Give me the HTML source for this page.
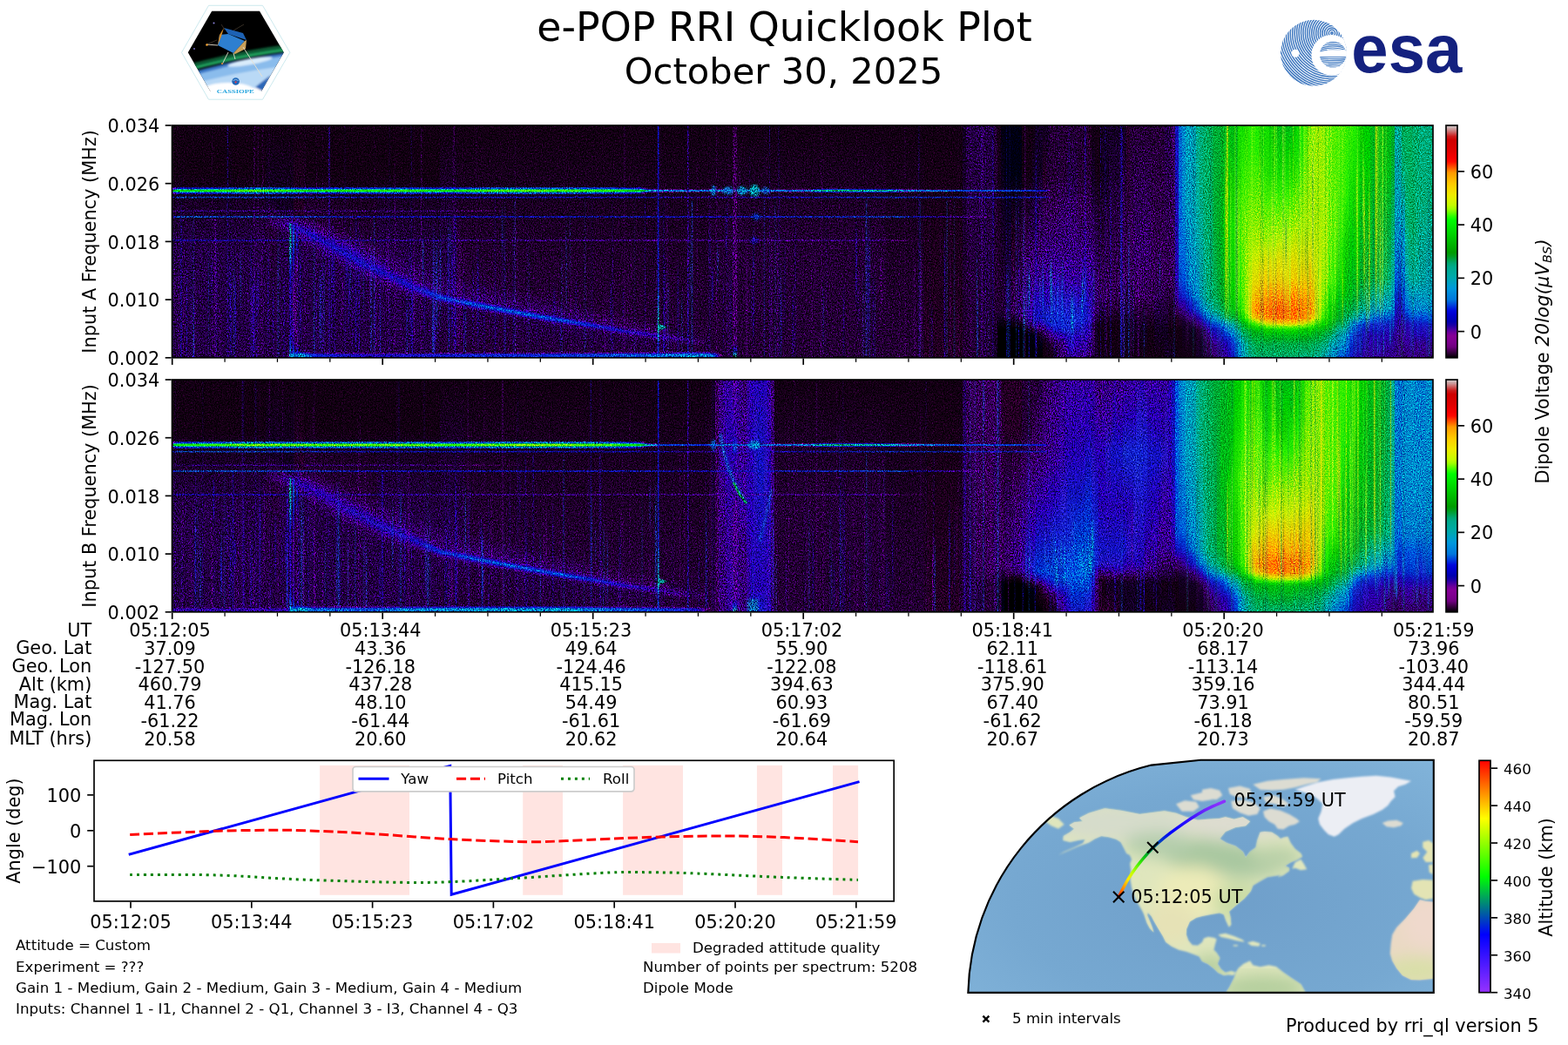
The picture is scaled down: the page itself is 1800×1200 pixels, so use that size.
<!DOCTYPE html>
<html><head><meta charset="utf-8"><title>e-POP RRI Quicklook Plot</title>
<style>
html,body{margin:0;padding:0;background:#fff}
body{width:1800px;height:1200px;overflow:hidden;position:relative;font-family:"DejaVu Sans","Liberation Sans",sans-serif}
svg{position:absolute;left:0;top:0}
svg text{font-family:"DejaVu Sans","Liberation Sans",sans-serif;fill:#000}
.sp{position:absolute;display:flex;background:#14001c}
.sp i{display:block;flex:1 1 0;height:100%}
.gr{mix-blend-mode:overlay}
</style></head><body>
<div class="sp" style="left:197px;top:144px;width:1448px;height:267px"><i style="background:linear-gradient(#101,#101 21.2%,#204 54.9%,#204 99.8%)"></i><i style="background:linear-gradient(#101,#101 21.2%,#204 54.9%,#204 99.8%)"></i><i style="background:linear-gradient(#101,#101 21.2%,#204 54.9%,#204 99.8%)"></i><i style="background:linear-gradient(#101,#101 21.2%,#204 54.9%,#204 99.8%)"></i><i style="background:linear-gradient(#101,#101 21.2%,#204 54.9%,#204 99.8%)"></i><i style="background:linear-gradient(#101,#101 21.2%,#204 54.9%,#204 99.8%)"></i><i style="background:linear-gradient(#101,#101 21.2%,#204 54.9%,#204 99.8%)"></i><i style="background:linear-gradient(#101,#101 21.2%,#204 54.9%,#204 99.8%)"></i><i style="background:linear-gradient(#101,#101 21.2%,#204 54.9%,#204 99.8%)"></i><i style="background:linear-gradient(#101,#101 21.2%,#204 54.9%,#204 99.8%)"></i><i style="background:linear-gradient(#101,#101 21.2%,#204 54.9%,#204 99.8%)"></i><i style="background:linear-gradient(#101,#101 21.2%,#204 54.9%,#204 99.8%)"></i><i style="background:linear-gradient(#101,#101 21.2%,#204 54.9%,#204 99.8%)"></i><i style="background:linear-gradient(#101,#101 21.2%,#204 54.9%,#204 99.8%)"></i><i style="background:linear-gradient(#101,#101 21.2%,#204 54.9%,#204 99.8%)"></i><i style="background:linear-gradient(#101,#101 21.2%,#204 54.9%,#204 99.8%)"></i><i style="background:linear-gradient(#101,#101 21.2%,#204 54.9%,#204 99.8%)"></i><i style="background:linear-gradient(#101,#101 21.2%,#204 54.9%,#204 99.8%)"></i><i style="background:linear-gradient(#101,#101 21.2%,#204 54.9%,#204 99.8%)"></i><i style="background:linear-gradient(#101,#101 21.2%,#204 54.9%,#204 99.8%)"></i><i style="background:linear-gradient(#101,#101 21.2%,#204 54.9%,#204 99.8%)"></i><i style="background:linear-gradient(#101,#101 21.2%,#204 54.9%,#204 99.8%)"></i><i style="background:linear-gradient(#101,#101 21.2%,#204 54.9%,#204 99.8%)"></i><i style="background:linear-gradient(#101,#101 21.2%,#204 54.9%,#204 99.8%)"></i><i style="background:linear-gradient(#101,#101 21.2%,#204 54.9%,#204 99.8%)"></i><i style="background:linear-gradient(#101,#101 21.2%,#204 54.9%,#204 99.8%)"></i><i style="background:linear-gradient(#101,#101 21.2%,#204 54.9%,#204 99.8%)"></i><i style="background:linear-gradient(#101,#102 32%,#204 41%,#203 44.4%,#204 99.8%)"></i><i style="background:linear-gradient(#101,#102 32.4%,#203 37.6%,#305 41.4%,#203 45.1%,#204 99.8%)"></i><i style="background:linear-gradient(#101,#102 32.4%,#203 38%,#204 39.9%,#306 41.8%,#203 45.9%,#204 99.8%)"></i><i style="background:linear-gradient(#101,#102 36.5%,#204 39.1%,#305 40.4%,#307 41.8%,#305 44%,#203 46.3%,#204 99.8%)"></i><i style="background:linear-gradient(#101,#102 36.5%,#204 39.1%,#306 40.6%,#307 42.1%,#306 43.8%,#204 45.5%,#204 99.8%)"></i><i style="background:linear-gradient(#101,#102 36.5%,#204 39.5%,#306 41%,#308 42.5%,#306 44.2%,#204 45.9%,#204 99.8%)"></i><i style="background:linear-gradient(#101,#102 36.5%,#204 39.5%,#307 41.2%,#309 42.9%,#307 44.6%,#305 46.3%,#204 48.1%,#204 99.8%)"></i><i style="background:linear-gradient(#101,#102 36.9%,#305 39.9%,#307 41.6%,#309 43.3%,#307 45.1%,#305 47%,#204 48.9%,#204 99.8%)"></i><i style="background:linear-gradient(#101,#202 37.3%,#305 40.6%,#308 42.3%,#20a 44%,#309 45.3%,#307 46.5%,#305 47.8%,#204 50%,#204 99.8%)"></i><i style="background:linear-gradient(#101,#202 38%,#306 41%,#307 42.3%,#309 43.5%,#21a 44.8%,#309 45.9%,#307 47.2%,#305 48.5%,#204 50.7%,#204 99.8%)"></i><i style="background:linear-gradient(#101,#202 38.4%,#204 40.1%,#306 41.8%,#308 43%,#209 44.3%,#21b 45.5%,#20a 46.1%,#309 46.6%,#307 47.9%,#306 49.3%,#204 51.9%,#204 99.8%)"></i><i style="background:linear-gradient(#101,#101 21.2%,#203 39.1%,#305 40.8%,#306 42.5%,#308 43.8%,#20a 45%,#11b 46.3%,#20a 46.8%,#309 47.4%,#307 48.7%,#306 50%,#204 52.6%,#204 99.8%)"></i><i style="background:linear-gradient(#101,#101 21.2%,#203 39.5%,#204 41.2%,#306 42.9%,#308 44.3%,#20a 45.6%,#11b 47%,#20a 47.6%,#309 48.1%,#308 49.4%,#306 50.7%,#204 53.7%,#204 99.8%)"></i><i style="background:linear-gradient(#101,#101 21.2%,#203 40.3%,#305 41.9%,#306 43.6%,#308 45.1%,#20a 46.6%,#11b 48.1%,#20a 48.5%,#309 48.9%,#308 50.2%,#306 51.5%,#204 55.2%,#204 99.8%)"></i><i style="background:linear-gradient(#101,#101 21.2%,#203 40.6%,#305 42.5%,#306 44.4%,#308 45.9%,#20a 47.4%,#11b 48.9%,#20a 49.3%,#309 49.6%,#308 50.9%,#306 52.2%,#204 56%,#204 99.8%)"></i><i style="background:linear-gradient(#101,#101 21.2%,#203 41.4%,#305 43.3%,#306 45.1%,#308 46.6%,#20a 48.1%,#11b 49.6%,#20a 50%,#309 50.4%,#308 51.7%,#306 53%,#204 56.7%,#204 99.8%)"></i><i style="background:linear-gradient(#101,#101 21.2%,#203 41.8%,#305 43.6%,#306 45.5%,#308 47.1%,#20a 48.8%,#11b 50.4%,#20a 50.7%,#209 51.1%,#308 52.4%,#307 53.7%,#204 57.5%,#204 99.8%)"></i><i style="background:linear-gradient(#101,#101 21.2%,#203 42.5%,#305 44.4%,#306 46.3%,#308 47.9%,#20a 49.5%,#11b 51.1%,#20a 51.5%,#209 51.9%,#308 53.2%,#307 54.5%,#204 58.2%,#204 99.8%)"></i><i style="background:linear-gradient(#101,#101 21.2%,#203 42.9%,#305 44.9%,#306 47%,#308 48.6%,#20a 50.2%,#11b 51.9%,#20a 52.2%,#209 52.6%,#308 53.9%,#307 55.2%,#204 59%,#204 99.8%)"></i><i style="background:linear-gradient(#101,#101 21.2%,#203 43.6%,#305 45.7%,#306 47.8%,#308 49.4%,#20a 51%,#11b 52.6%,#21a 53%,#20a 53.4%,#308 54.9%,#306 56.4%,#204 59.7%,#204 99.8%)"></i><i style="background:linear-gradient(#101,#101 21.2%,#203 44.4%,#305 46.6%,#307 48.9%,#309 50.4%,#20a 51.9%,#11b 53.4%,#20a 53.9%,#209 54.5%,#308 55.8%,#306 57.1%,#204 60.5%,#204 99.8%)"></i><i style="background:linear-gradient(#101,#101 21.2%,#203 44.8%,#305 47%,#306 49.3%,#308 50.9%,#20a 52.5%,#11b 54.1%,#21a 54.7%,#20a 55.2%,#308 56.6%,#307 57.9%,#204 61.2%,#204 99.8%)"></i><i style="background:linear-gradient(#101,#101 21.2%,#203 45.5%,#305 47.9%,#307 50.4%,#309 51.9%,#20a 53.4%,#11b 54.9%,#21b 55.6%,#20a 56%,#308 57.5%,#306 59%,#204 62.4%,#204 99.8%)"></i><i style="background:linear-gradient(#101,#101 21.2%,#203 46.3%,#305 48.7%,#307 51.1%,#309 52.7%,#20a 54.4%,#11b 56%,#21b 56.4%,#20a 56.7%,#308 58.1%,#307 59.4%,#204 63.1%,#204 99.8%)"></i><i style="background:linear-gradient(#101,#101 21.2%,#203 46.6%,#305 49.3%,#307 51.9%,#309 53.5%,#20a 55.1%,#11b 56.7%,#20a 57.5%,#308 59%,#306 60.5%,#204 63.9%,#204 99.8%)"></i><i style="background:linear-gradient(#101,#101 21.2%,#203 47.4%,#305 50%,#307 52.6%,#309 54.2%,#20a 55.9%,#11b 57.5%,#21b 58.1%,#20a 58.6%,#308 59.9%,#307 61.2%,#204 64.6%,#204 99.8%)"></i><i style="background:linear-gradient(#101,#101 21.2%,#203 48.1%,#305 50.7%,#307 53.4%,#309 55%,#20a 56.6%,#11b 58.2%,#21b 58.8%,#20a 59.4%,#308 60.7%,#307 62%,#204 65.4%,#204 99.8%)"></i><i style="background:linear-gradient(#101,#101 21.2%,#203 48.5%,#305 51.3%,#307 54.1%,#309 55.7%,#20a 57.4%,#11b 59%,#20a 60.2%,#309 61.5%,#307 62.7%,#204 66.1%,#204 99.8%)"></i><i style="background:linear-gradient(#101,#101 21.2%,#203 49.3%,#305 52.2%,#307 55.2%,#309 56.9%,#20a 58.5%,#11b 60.1%,#21b 60.5%,#20a 60.9%,#308 62.2%,#307 63.5%,#204 66.9%,#204 99.8%)"></i><i style="background:linear-gradient(#101,#101 21.2%,#203 50%,#305 53%,#307 56%,#309 57.6%,#20a 59.2%,#11b 60.9%,#20a 61.6%,#308 62.9%,#307 64.2%,#204 67.6%,#204 99.8%)"></i><i style="background:linear-gradient(#101,#101 21.2%,#203 50.4%,#305 53.6%,#307 56.7%,#309 58.4%,#20a 60%,#11b 61.6%,#21b 62%,#20a 62.4%,#308 63.7%,#307 65%,#204 68.4%,#204 99.8%)"></i><i style="background:linear-gradient(#101,#101 21.2%,#203 51.1%,#305 54.3%,#307 57.5%,#309 59%,#20a 60.5%,#11b 62%,#20a 63.2%,#308 64.5%,#306 65.7%,#204 68.7%,#204 99.8%)"></i><i style="background:linear-gradient(#101,#101 21.2%,#204 51.9%,#305 55.1%,#307 58.2%,#309 59.7%,#20a 61.2%,#11b 62.7%,#20a 64%,#308 65.2%,#306 66.5%,#204 69.5%,#204 99.8%)"></i><i style="background:linear-gradient(#101,#101 21.2%,#204 52.6%,#305 55.8%,#307 59%,#309 60.5%,#20a 62%,#11b 63.5%,#11b 63.9%,#20a 64.2%,#308 65.7%,#306 67.2%,#204 69.9%,#204 99.8%)"></i><i style="background:linear-gradient(#101,#101 21.2%,#204 53.4%,#307 59.7%,#308 61.2%,#20a 62.7%,#11b 64.2%,#20a 65%,#308 66.5%,#306 68%,#204 70.6%,#204 99.8%)"></i><i style="background:linear-gradient(#101,#101 21.2%,#204 54.1%,#306 60.5%,#308 62%,#20a 63.5%,#11b 65%,#20a 65.7%,#308 67%,#306 68.4%,#204 71%,#204 99.8%)"></i><i style="background:linear-gradient(#101,#101 21.2%,#204 54.9%,#306 61.2%,#308 62.7%,#20a 64.2%,#11b 65.7%,#20a 66.5%,#308 67.8%,#306 69.1%,#204 71.7%,#204 99.8%)"></i><i style="background:linear-gradient(#101,#101 21.2%,#204 55.6%,#306 62%,#308 63.4%,#20a 64.7%,#11b 66.1%,#20a 67.4%,#308 68.6%,#306 69.9%,#204 72.1%,#204 99.8%)"></i><i style="background:linear-gradient(#101,#101 21.2%,#204 56.4%,#306 62.7%,#308 64.1%,#20a 65.5%,#11b 66.9%,#20a 68.1%,#308 69.4%,#306 70.6%,#204 72.8%,#204 99.8%)"></i><i style="background:linear-gradient(#101,#101 21.2%,#204 56.7%,#306 63.5%,#308 64.9%,#20a 66.2%,#11b 67.6%,#20a 68.9%,#308 70.1%,#305 71.3%,#204 73.2%,#204 99.8%)"></i><i style="background:linear-gradient(#101,#101 21.2%,#204 57.5%,#306 64.2%,#308 65.6%,#20a 67%,#11b 68.4%,#20a 69.5%,#308 70.6%,#306 71.7%,#204 73.6%,#204 99.8%)"></i><i style="background:linear-gradient(#101,#101 21.2%,#204 58.2%,#306 65.4%,#308 66.6%,#20a 67.9%,#11b 69.1%,#20a 70.2%,#308 71.3%,#305 72.5%,#204 74.3%,#204 99.8%)"></i><i style="background:linear-gradient(#101,#101 21.2%,#204 59%,#306 66.1%,#308 67.2%,#20a 68.4%,#11b 69.5%,#11b 69.9%,#20a 70.8%,#308 71.8%,#306 72.8%,#204 74.7%,#204 99.8%)"></i><i style="background:linear-gradient(#101,#101 21.2%,#204 59.4%,#306 66.5%,#307 67.6%,#309 68.5%,#20a 69.4%,#12c 70.2%,#20a 71.2%,#308 72.2%,#306 73.2%,#204 75.1%,#204 99.8%)"></i><i style="background:linear-gradient(#101,#101 21.2%,#204 60.1%,#306 67.2%,#307 68.4%,#309 69.1%,#21a 69.9%,#12c 70.6%,#12c 71%,#20a 71.7%,#309 72.5%,#307 73.2%,#305 74%,#204 75.5%,#204 99.8%)"></i><i style="background:linear-gradient(#101,#101 21.2%,#204 60.5%,#306 68%,#308 69.1%,#209 69.9%,#21b 70.6%,#12c 71.3%,#21b 72.2%,#309 73.1%,#306 74%,#204 75.5%,#204 99.8%)"></i><i style="background:linear-gradient(#101,#101 21.2%,#204 61.2%,#306 68.7%,#308 69.9%,#209 70.5%,#11b 71.1%,#12c 71.7%,#12c 72.1%,#21b 72.8%,#309 73.6%,#307 74.3%,#204 75.8%,#204 99.8%)"></i><i style="background:linear-gradient(#101,#101 21.2%,#204 62%,#306 69.9%,#308 70.6%,#20a 71.2%,#11b 71.8%,#03c 72.5%,#11b 73.1%,#20a 73.8%,#308 74.4%,#306 75.1%,#204 76.2%,#204 99.8%)"></i><i style="background:linear-gradient(#101,#101 21.2%,#204 62.4%,#306 70.2%,#308 71.3%,#20a 71.8%,#11b 72.3%,#03c 72.8%,#03c 73.2%,#11b 73.8%,#20a 74.3%,#308 74.9%,#306 75.5%,#204 76.6%,#204 99.8%)"></i><i style="background:linear-gradient(#101,#101 21.2%,#204 63.1%,#306 71.3%,#308 72.1%,#20a 72.6%,#12b 73.1%,#04c 73.6%,#12c 74.3%,#20a 74.8%,#308 75.3%,#306 75.8%,#204 77%,#204 99.8%)"></i><i style="background:linear-gradient(#101,#204 63.5%,#306 71.7%,#308 72.5%,#209 72.8%,#21b 73.2%,#12c 73.6%,#04c 74%,#04c 74.3%,#11b 74.8%,#20a 75.3%,#308 75.7%,#306 76.2%,#204 77.3%,#203 99.8%)"></i><i style="background:linear-gradient(#101,#204 63.9%,#306 72.1%,#308 72.8%,#20a 73.2%,#11b 73.6%,#12c 74%,#05c 74.3%,#12c 75.1%,#21b 75.5%,#309 75.8%,#307 76.2%,#305 76.6%,#204 77.7%,#203 99.8%)"></i><i style="background:linear-gradient(#101,#204 64.2%,#306 72.5%,#308 73.2%,#20a 73.6%,#11b 74%,#13c 74.3%,#05d 74.7%,#03c 75.1%,#12b 75.5%,#20a 75.8%,#309 76.2%,#307 76.6%,#204 77.7%,#203 99.8%)"></i><i style="background:linear-gradient(#101,#204 64.6%,#306 72.8%,#308 73.6%,#20a 74%,#12b 74.3%,#04c 74.7%,#05d 75.1%,#03c 75.5%,#11b 75.8%,#20a 76.2%,#308 76.6%,#306 77%,#204 78.1%,#203 99.8%)"></i><i style="background:linear-gradient(#101,#204 65%,#306 72.8%,#307 73.6%,#309 74%,#21b 74.3%,#12c 74.7%,#04c 75.1%,#05d 75.5%,#13c 75.8%,#11b 76.2%,#20a 76.6%,#308 77%,#306 77.3%,#204 78.5%,#203 99.8%)"></i><i style="background:linear-gradient(#101,#203 65%,#306 73.2%,#308 73.8%,#309 74.3%,#21b 74.7%,#12c 75.1%,#05d 75.5%,#05c 75.8%,#12c 76.2%,#11b 76.6%,#209 77%,#308 77.3%,#306 77.7%,#204 78.8%,#203 99.8%)"></i><i style="background:linear-gradient(#101,#203 65.4%,#306 73.6%,#308 74.3%,#20a 74.7%,#11b 75.1%,#13c 75.5%,#05d 75.8%,#04c 76.2%,#12c 76.6%,#21b 77%,#309 77.3%,#307 77.7%,#305 78.3%,#204 78.8%,#203 99.8%)"></i><i style="background:linear-gradient(#101,#203 65.7%,#306 74%,#308 74.7%,#20a 75.1%,#11b 75.5%,#03c 75.8%,#06d 76.2%,#04c 76.6%,#12c 77%,#20a 77.3%,#309 77.7%,#306 78.1%,#204 79.2%,#203 99.8%)"></i><i style="background:linear-gradient(#101,#203 66.1%,#306 74.3%,#308 75.1%,#20a 75.5%,#12c 75.8%,#04c 76.2%,#06c 76.6%,#03c 77%,#11b 77.3%,#20a 77.7%,#308 78.1%,#306 78.5%,#204 79.6%,#203 99.8%)"></i><i style="background:linear-gradient(#101,#203 66.5%,#306 74.7%,#309 75.5%,#20a 75.8%,#12c 76.2%,#05d 76.6%,#06d 77%,#03c 77.3%,#11b 77.7%,#20a 78.1%,#308 78.5%,#306 78.8%,#203 80%,#203 99.8%)"></i><i style="background:linear-gradient(#101,#203 66.9%,#306 74.7%,#307 75.5%,#309 75.8%,#21b 76.2%,#13c 76.6%,#06d 77%,#05d 77.3%,#13c 77.7%,#11b 78.1%,#309 78.5%,#307 78.8%,#305 79.2%,#203 80.3%,#203 99.8%)"></i><i style="background:linear-gradient(#101,#203 67.2%,#306 75.1%,#308 75.8%,#20a 76.2%,#11b 76.6%,#03c 77%,#06c 77.3%,#04c 77.7%,#13c 78.1%,#21b 78.5%,#309 78.8%,#307 79.2%,#305 79.8%,#204 80.3%,#203 99.8%)"></i><i style="background:linear-gradient(#101,#203 67.6%,#306 75.5%,#308 76.2%,#20a 76.6%,#11b 77%,#03c 77.3%,#06c 77.7%,#04c 78.1%,#12c 78.5%,#21b 78.8%,#309 79.2%,#306 79.6%,#204 80.7%,#203 99.8%)"></i><i style="background:linear-gradient(#101,#203 68%,#306 75.8%,#308 76.6%,#20a 76.9%,#11b 77.2%,#13c 77.4%,#05d 77.7%,#07c 78.1%,#04c 78.5%,#12b 78.8%,#20a 79.2%,#308 79.6%,#306 80%,#203 81.1%,#203 99.8%)"></i><i style="background:linear-gradient(#101,#203 68.4%,#306 76.2%,#309 77%,#20a 77.2%,#11b 77.5%,#03c 77.8%,#06d 78.1%,#06c 78.5%,#04c 78.8%,#12c 79.1%,#20a 79.4%,#309 79.7%,#307 80%,#305 80.3%,#204 81.1%,#203 99.8%)"></i><i style="background:linear-gradient(#101,#203 68.4%,#306 76.2%,#307 77%,#309 77.3%,#20a 77.6%,#12c 77.9%,#04c 78.2%,#06c 78.5%,#03c 79.2%,#11b 79.5%,#20a 79.8%,#309 80.1%,#307 80.3%,#305 80.9%,#204 81.5%,#203 99.8%)"></i><i style="background:linear-gradient(#101,#203 68.7%,#306 76.6%,#308 77.3%,#20a 77.7%,#11b 78.1%,#03c 78.5%,#06c 78.8%,#04c 79.2%,#12c 79.6%,#11b 79.9%,#20a 80.1%,#308 80.4%,#306 80.7%,#204 81.8%,#203 99.8%)"></i><i style="background:linear-gradient(#101,#203 69.1%,#306 77%,#308 77.7%,#20a 78%,#11b 78.3%,#13c 78.6%,#05d 78.8%,#06c 79.2%,#03c 79.6%,#11b 80%,#20a 80.3%,#308 80.7%,#306 81.1%,#203 82.2%,#203 99.8%)"></i><i style="background:linear-gradient(#101,#203 69.5%,#306 77.3%,#309 78.1%,#20a 78.4%,#11b 78.7%,#03c 78.9%,#06d 79.2%,#06d 79.6%,#03c 80%,#11b 80.3%,#309 80.7%,#307 81.1%,#305 81.6%,#204 82.2%,#203 99.8%)"></i><i style="background:linear-gradient(#101,#203 69.9%,#306 77.7%,#308 78.1%,#309 78.5%,#20a 78.7%,#12c 79%,#04c 79.3%,#06c 79.6%,#04c 80%,#13c 80.3%,#11b 80.6%,#20a 80.9%,#308 81.2%,#306 81.5%,#204 82.6%,#203 99.8%)"></i><i style="background:linear-gradient(#101,#203 70.2%,#306 77.7%,#308 78.5%,#20a 78.8%,#11b 79.2%,#03c 79.6%,#06c 80%,#04c 80.3%,#12c 80.7%,#20a 81.1%,#308 81.5%,#306 81.8%,#203 83%,#203 99.8%)"></i><i style="background:linear-gradient(#101,#203 70.6%,#306 78.1%,#308 78.8%,#20a 79.1%,#11b 79.4%,#13c 79.7%,#05d 80%,#06c 80.3%,#03c 80.7%,#11b 81.1%,#20a 81.3%,#309 81.6%,#307 81.8%,#305 82.2%,#204 83%,#203 99.8%)"></i><i style="background:linear-gradient(#101,#203 71%,#306 78.5%,#309 79.2%,#20a 79.5%,#11b 79.8%,#03c 80.1%,#05d 80.3%,#06d 80.7%,#13c 81.1%,#21b 81.5%,#309 81.8%,#307 82.2%,#305 82.8%,#204 83.3%,#203 99.8%)"></i><i style="background:linear-gradient(#101,#203 71.3%,#306 78.8%,#308 79.2%,#309 79.6%,#20a 79.9%,#12c 80.1%,#03c 80.4%,#06c 80.7%,#04c 81.1%,#12c 81.5%,#11b 81.7%,#20a 82%,#308 82.3%,#306 82.6%,#204 83.7%,#203 99.8%)"></i><i style="background:linear-gradient(#101,#203 71.7%,#306 78.8%,#308 79.6%,#20a 80%,#11b 80.3%,#03c 80.7%,#06c 81.1%,#04c 81.5%,#12c 81.8%,#20a 82.2%,#308 82.6%,#306 83%,#204 83.7%,#203 99.8%)"></i><i style="background:linear-gradient(#101,#203 71.7%,#306 79.2%,#308 80%,#20a 80.2%,#11b 80.5%,#12c 80.8%,#05d 81.1%,#06c 81.5%,#03c 81.8%,#11b 82.2%,#309 82.6%,#307 83%,#305 83.3%,#204 84.1%,#203 99.8%)"></i><i style="background:linear-gradient(#101,#203 72.1%,#306 79.6%,#309 80.3%,#20a 80.6%,#11b 80.9%,#03c 81.2%,#05d 81.5%,#05d 81.8%,#03c 82.2%,#11b 82.5%,#20a 82.8%,#308 83.1%,#306 83.3%,#204 84.5%,#203 99.8%)"></i><i style="background:linear-gradient(#101,#203 72.5%,#306 80%,#308 80.3%,#309 80.7%,#20a 81%,#12b 81.3%,#03c 81.6%,#06d 81.8%,#04c 82.2%,#12c 82.6%,#21b 82.9%,#209 83.1%,#308 83.4%,#306 83.7%,#204 84.5%,#203 99.8%)"></i><i style="background:linear-gradient(#101,#203 72.8%,#306 80%,#308 80.7%,#309 81%,#21b 81.3%,#12c 81.6%,#04c 81.8%,#06c 82.2%,#03c 82.6%,#11b 83%,#20a 83.2%,#309 83.5%,#307 83.7%,#305 84.1%,#204 84.8%,#203 99.8%)"></i><i style="background:linear-gradient(#101,#203 73.2%,#306 80.3%,#308 81.1%,#20a 81.4%,#11b 81.6%,#13c 81.9%,#05d 82.2%,#05d 82.6%,#12c 83%,#21b 83.3%,#309 83.7%,#307 84.1%,#305 84.6%,#204 85.2%,#203 99.8%)"></i><i style="background:linear-gradient(#101,#203 73.6%,#306 80.7%,#307 81.1%,#309 81.5%,#20a 81.7%,#11b 82%,#03c 82.3%,#06d 82.6%,#04c 83%,#12c 83.3%,#11b 83.6%,#209 83.9%,#308 84.2%,#306 84.5%,#204 85.2%,#203 99.8%)"></i><i style="background:linear-gradient(#101,#203 74%,#306 80.7%,#307 81.5%,#309 81.7%,#21b 82%,#12c 82.3%,#04c 82.6%,#06c 83%,#03c 83.3%,#11b 83.7%,#20a 84%,#309 84.2%,#307 84.5%,#305 84.8%,#204 85.6%,#203 99.8%)"></i><i style="background:linear-gradient(#101,#203 74.3%,#306 81.1%,#308 81.8%,#20a 82.1%,#11b 82.4%,#12c 82.7%,#05d 83%,#05d 83.3%,#12c 83.7%,#21b 84.1%,#309 84.5%,#307 84.8%,#204 86%,#203 99.8%)"></i><i style="background:linear-gradient(#101,#203 74.3%,#306 81.5%,#307 81.8%,#309 82.2%,#20a 82.5%,#11b 82.8%,#03c 83.1%,#05d 83.3%,#03c 83.7%,#12c 84.1%,#21b 84.4%,#209 84.6%,#308 84.9%,#306 85.2%,#204 86%,#203 99.8%)"></i><i style="background:linear-gradient(#101,#203 74.7%,#306 81.8%,#308 82.2%,#309 82.6%,#21a 82.8%,#12c 83.1%,#04c 83.3%,#06d 83.7%,#03c 84.1%,#11b 84.5%,#20a 84.7%,#309 85%,#307 85.2%,#305 85.6%,#204 86.3%,#203 99.8%)"></i><i style="background:linear-gradient(#101,#203 75.1%,#306 81.8%,#308 82.6%,#209 82.9%,#11b 83.1%,#12c 83.4%,#04c 83.7%,#05d 84.1%,#12c 84.5%,#21a 84.8%,#309 85.2%,#306 85.6%,#204 86.7%,#203 99.8%)"></i><i style="background:linear-gradient(#101,#203 75.5%,#306 82.2%,#308 83%,#20a 83.2%,#11b 83.5%,#03c 83.8%,#05d 84.1%,#03c 84.5%,#12c 84.8%,#21b 85.1%,#309 85.4%,#308 85.7%,#306 86%,#204 86.7%,#203 99.8%)"></i><i style="background:linear-gradient(#101,#203 75.8%,#306 82.6%,#308 83%,#309 83.3%,#20a 83.6%,#11b 83.8%,#03c 84.1%,#05d 84.5%,#03c 84.8%,#11b 85.2%,#20a 85.5%,#309 85.7%,#307 86%,#305 86.3%,#204 87.1%,#203 99.8%)"></i><i style="background:linear-gradient(#101,#203 76.2%,#306 82.6%,#308 83.3%,#20a 83.7%,#11b 84.1%,#04c 84.5%,#04c 84.8%,#12c 85.2%,#20a 85.6%,#308 86%,#306 86.3%,#204 87.1%,#203 99.8%)"></i><i style="background:linear-gradient(#101,#203 76.6%,#306 83%,#308 83.7%,#20a 84.1%,#12b 84.5%,#04c 84.8%,#13c 85.2%,#11b 85.6%,#20a 86%,#308 86.3%,#306 86.7%,#204 87.5%,#203 99.8%)"></i><i style="background:linear-gradient(#101,#203 77%,#306 83.3%,#307 83.7%,#309 84.1%,#20a 84.3%,#11b 84.6%,#12c 84.8%,#04c 85.2%,#12c 85.6%,#20a 86%,#309 86.3%,#307 86.7%,#305 87.3%,#204 87.8%,#203 99.8%)"></i><i style="background:linear-gradient(#101,#203 77.3%,#305 83.3%,#307 84.1%,#309 84.5%,#11b 84.8%,#03c 85.2%,#03c 85.6%,#11b 86%,#20a 86.3%,#308 86.7%,#306 87.1%,#204 87.8%,#203 99.8%)"></i><i style="background:linear-gradient(#101,#203 77.7%,#306 83.7%,#308 84.5%,#20a 84.8%,#11b 85.2%,#03c 85.6%,#11b 86.3%,#209 86.7%,#308 87.1%,#305 87.5%,#204 88.2%,#203 99.8%)"></i><i style="background:linear-gradient(#101,#203 78.1%,#306 84.1%,#308 84.8%,#20a 85.2%,#11b 85.6%,#03c 86%,#11b 86.3%,#20a 86.7%,#308 87.1%,#306 87.5%,#204 88.6%,#203 99.8%)"></i><i style="background:linear-gradient(#101,#203 78.5%,#305 84.1%,#307 84.8%,#309 85.2%,#21b 85.6%,#12c 86%,#12c 86.3%,#11b 86.7%,#209 87.1%,#308 87.5%,#306 87.8%,#204 88.6%,#203 99.8%)"></i><i style="background:linear-gradient(#101,#203 78.8%,#305 84.5%,#307 85.2%,#309 85.6%,#21b 86%,#12c 86.3%,#21b 87.1%,#309 87.5%,#307 87.8%,#305 88.2%,#204 89%,#203 99.8%)"></i><i style="background:linear-gradient(#101,#203 79.2%,#305 84.8%,#308 85.6%,#209 86%,#21b 86.3%,#12c 86.7%,#20a 87.2%,#309 87.7%,#306 88.2%,#204 89%,#203 99.8%)"></i><i style="background:linear-gradient(#101,#203 79.6%,#306 85.2%,#308 86%,#20a 86.3%,#11b 86.7%,#12c 87.1%,#21b 87.5%,#309 87.8%,#308 88.2%,#306 88.6%,#204 89.3%,#203 99.8%)"></i><i style="background:linear-gradient(#101,#203 80%,#305 85.2%,#307 86%,#309 86.3%,#20a 86.7%,#11b 87.1%,#20a 87.8%,#309 88.2%,#307 88.6%,#305 89%,#204 89.7%,#203 99.8%)"></i><i style="background:linear-gradient(#101,#203 80.3%,#305 85.6%,#307 86.3%,#309 86.7%,#20a 87.1%,#12b 87.5%,#21b 87.8%,#20a 88.2%,#308 88.6%,#306 89%,#204 89.7%,#203 99.8%)"></i><i style="background:linear-gradient(#101,#203 80.7%,#305 86%,#308 86.7%,#209 87.1%,#21b 87.5%,#11b 87.8%,#20a 88.3%,#308 88.8%,#306 89.3%,#204 90.1%,#203 99.8%)"></i><i style="background:linear-gradient(#101,#203 81.1%,#305 86.3%,#308 87.1%,#20a 87.5%,#11b 87.8%,#11b 88.2%,#209 88.7%,#308 89.2%,#305 89.7%,#204 90.4%,#203 99.8%)"></i><i style="background:linear-gradient(#101,#203 81.5%,#305 86.3%,#307 87.1%,#308 87.5%,#20a 87.8%,#11b 88.2%,#20a 89%,#308 89.3%,#306 89.7%,#204 90.4%,#203 99.8%)"></i><i style="background:linear-gradient(#101,#203 81.8%,#305 86.7%,#307 87.5%,#309 88%,#11b 88.6%,#20a 89.1%,#308 89.6%,#306 90.1%,#204 90.8%,#203 99.8%)"></i><i style="background:linear-gradient(#101,#203 81.8%,#305 87.1%,#308 87.8%,#309 88.2%,#21b 88.6%,#21b 89%,#309 89.5%,#307 90%,#305 90.4%,#204 91.2%,#203 99.8%)"></i><i style="background:linear-gradient(#101,#203 82.2%,#305 87.1%,#307 87.8%,#309 88.4%,#21b 89%,#309 89.5%,#308 90%,#306 90.4%,#204 91.2%,#203 99.8%)"></i><i style="background:linear-gradient(#101,#203 82.6%,#305 87.5%,#307 88.1%,#309 88.7%,#21b 89.3%,#309 89.8%,#307 90.3%,#305 90.8%,#204 91.6%,#203 99.8%)"></i><i style="background:linear-gradient(#101,#203 83%,#305 87.8%,#307 88.3%,#309 88.8%,#20a 89.3%,#309 90.1%,#307 90.4%,#306 90.8%,#204 91.6%,#203 99.8%)"></i><i style="background:linear-gradient(#101,#203 83.3%,#305 87.8%,#307 88.6%,#309 89.1%,#20a 89.7%,#309 90.2%,#307 90.7%,#305 91.2%,#204 91.9%,#203 99.8%)"></i><i style="background:linear-gradient(#101,#203 83.7%,#305 88.2%,#307 88.7%,#309 89.2%,#20a 89.7%,#20a 90.1%,#308 90.6%,#306 91.2%,#204 91.9%,#203 99.8%)"></i><i style="background:linear-gradient(#101,#203 84.1%,#305 88.2%,#306 89%,#308 89.5%,#20a 90.1%,#309 90.6%,#307 91.1%,#305 91.6%,#204 92.3%,#203 99.8%)"></i><i style="background:linear-gradient(#101,#203 84.5%,#305 88.6%,#307 89.3%,#308 89.7%,#209 90.1%,#20a 90.4%,#308 91%,#306 91.6%,#204 92.3%,#203 99.8%)"></i><i style="background:linear-gradient(#101,#203 84.5%,#305 89%,#308 89.7%,#20a 90.4%,#308 91.2%,#305 91.9%,#204 92.7%,#203 99.8%)"></i><i style="background:linear-gradient(#101,#203 84.8%,#305 89%,#307 89.9%,#309 90.8%,#308 91.4%,#306 92.1%,#204 92.7%,#203 99.8%)"></i><i style="background:linear-gradient(#101,#203 85.6%,#305 89.3%,#307 90.1%,#309 90.8%,#307 91.9%,#204 93.1%,#203 99.8%)"></i><i style="background:linear-gradient(#101,#203 86%,#305 89.7%,#307 90.4%,#309 91.2%,#307 91.9%,#204 92.7%,#203 93.4%,#203 99.8%)"></i><i style="background:linear-gradient(#101,#203 86.3%,#204 89.7%,#306 90.6%,#308 91.6%,#306 92.5%,#204 93.4%,#203 99.8%)"></i><i style="background:linear-gradient(#101,#203 86.7%,#204 90.1%,#306 90.8%,#308 91.6%,#306 92.7%,#203 93.8%,#203 99.8%)"></i><i style="background:linear-gradient(#101,#203 87.1%,#204 90.1%,#306 91%,#308 91.9%,#306 92.9%,#204 93.8%,#203 99.8%)"></i><i style="background:linear-gradient(#101,#203 87.5%,#204 90.4%,#306 91.2%,#307 91.9%,#305 93.1%,#203 94.2%,#203 99.8%)"></i><i style="background:linear-gradient(#101,#203 87.8%,#204 90.8%,#307 92.3%,#305 93.4%,#203 94.6%,#203 99.8%)"></i><i style="background:linear-gradient(#101,#203 88.2%,#204 90.8%,#306 92.7%,#203 94.6%,#203 99.8%)"></i><i style="background:linear-gradient(#101,#203 88.6%,#204 91.2%,#306 92.7%,#203 94.9%,#203 99.8%)"></i><i style="background:linear-gradient(#101,#203 89.3%,#204 91.6%,#306 93.1%,#203 94.9%,#203 99.8%)"></i><i style="background:linear-gradient(#101,#203 89.7%,#305 93.1%,#203 95.3%,#203 99.8%)"></i><i style="background:linear-gradient(#101,#203 90.1%,#305 93.4%,#203 95.3%,#203 99.8%)"></i><i style="background:linear-gradient(#101,#203 90.4%,#204 93.8%,#203 99.8%)"></i><i style="background:linear-gradient(#101,#203 54.9%,#203 99.8%)"></i><i style="background:linear-gradient(#101,#203 54.9%,#203 99.8%)"></i><i style="background:linear-gradient(#101,#203 54.9%,#203 99.8%)"></i><i style="background:linear-gradient(#101,#203 54.9%,#203 99.8%)"></i><i style="background:linear-gradient(#101,#203 54.9%,#203 99.8%)"></i><i style="background:linear-gradient(#101,#203 54.9%,#203 99.8%)"></i><i style="background:linear-gradient(#101,#203 54.9%,#203 99.8%)"></i><i style="background:linear-gradient(#101,#203 54.9%,#203 99.8%)"></i><i style="background:linear-gradient(#101,#203 54.9%,#203 99.8%)"></i><i style="background:linear-gradient(#101,#203 54.9%,#203 99.8%)"></i><i style="background:linear-gradient(#101,#203 54.9%,#203 99.8%)"></i><i style="background:linear-gradient(#101,#203 54.9%,#203 99.8%)"></i><i style="background:linear-gradient(#101,#203 54.9%,#203 99.8%)"></i><i style="background:linear-gradient(#101,#203 54.9%,#203 99.8%)"></i><i style="background:linear-gradient(#101,#203 54.9%,#203 99.8%)"></i><i style="background:linear-gradient(#101,#203 54.9%,#203 99.8%)"></i><i style="background:linear-gradient(#101,#203 54.9%,#203 99.8%)"></i><i style="background:linear-gradient(#101,#203 54.9%,#203 99.8%)"></i><i style="background:linear-gradient(#101,#203 54.9%,#203 99.8%)"></i><i style="background:linear-gradient(#101,#203 54.9%,#203 99.8%)"></i><i style="background:linear-gradient(#101,#203 54.9%,#203 99.8%)"></i><i style="background:linear-gradient(#101,#203 54.9%,#203 99.8%)"></i><i style="background:linear-gradient(#101,#203 54.9%,#203 99.8%)"></i><i style="background:linear-gradient(#101,#203 54.9%,#203 99.8%)"></i><i style="background:linear-gradient(#101,#203 54.9%,#203 99.8%)"></i><i style="background:linear-gradient(#101,#203 54.9%,#203 99.8%)"></i><i style="background:linear-gradient(#101,#203 54.9%,#203 99.8%)"></i><i style="background:linear-gradient(#101,#203 54.9%,#203 99.8%)"></i><i style="background:linear-gradient(#101,#203 54.9%,#203 99.8%)"></i><i style="background:linear-gradient(#101,#203 54.9%,#203 99.8%)"></i><i style="background:linear-gradient(#101,#203 54.9%,#203 99.8%)"></i><i style="background:linear-gradient(#101,#203 54.9%,#203 99.8%)"></i><i style="background:linear-gradient(#101,#203 54.9%,#203 99.8%)"></i><i style="background:linear-gradient(#101,#203 54.9%,#203 99.8%)"></i><i style="background:linear-gradient(#101,#203 54.9%,#203 99.8%)"></i><i style="background:linear-gradient(#101,#203 54.9%,#203 99.8%)"></i><i style="background:linear-gradient(#101,#203 54.9%,#203 99.8%)"></i><i style="background:linear-gradient(#101,#203 54.9%,#203 99.8%)"></i><i style="background:linear-gradient(#101,#203 54.9%,#203 99.8%)"></i><i style="background:linear-gradient(#101,#203 54.9%,#203 99.8%)"></i><i style="background:linear-gradient(#101,#203 54.9%,#203 99.8%)"></i><i style="background:linear-gradient(#101,#203 54.9%,#203 99.8%)"></i><i style="background:linear-gradient(#101,#203 54.9%,#203 99.8%)"></i><i style="background:linear-gradient(#101,#203 54.9%,#203 99.8%)"></i><i style="background:linear-gradient(#101,#203 54.9%,#203 99.8%)"></i><i style="background:linear-gradient(#101,#203 54.9%,#203 99.8%)"></i><i style="background:linear-gradient(#101,#203 54.9%,#203 99.8%)"></i><i style="background:linear-gradient(#101,#203 54.9%,#203 99.8%)"></i><i style="background:linear-gradient(#101,#203 54.9%,#203 99.8%)"></i><i style="background:linear-gradient(#101,#203 54.9%,#203 99.8%)"></i><i style="background:linear-gradient(#101,#203 54.9%,#203 99.8%)"></i><i style="background:linear-gradient(#101,#203 99.8%)"></i><i style="background:linear-gradient(#101,#203 99.8%)"></i><i style="background:linear-gradient(#101,#203 99.8%)"></i><i style="background:linear-gradient(#101,#203 99.8%)"></i><i style="background:linear-gradient(#101,#203 99.8%)"></i><i style="background:linear-gradient(#101,#203 99.8%)"></i><i style="background:linear-gradient(#101,#203 99.8%)"></i><i style="background:linear-gradient(#101,#203 99.8%)"></i><i style="background:linear-gradient(#101,#203 99.8%)"></i><i style="background:linear-gradient(#101,#203 99.8%)"></i><i style="background:linear-gradient(#101,#203 99.8%)"></i><i style="background:linear-gradient(#101,#202 99.8%)"></i><i style="background:linear-gradient(#101,#202 99.8%)"></i><i style="background:linear-gradient(#101,#202 99.8%)"></i><i style="background:linear-gradient(#101,#202 99.8%)"></i><i style="background:linear-gradient(#101,#202 99.8%)"></i><i style="background:linear-gradient(#101,#202 99.8%)"></i><i style="background:linear-gradient(#101,#202 99.8%)"></i><i style="background:linear-gradient(#101,#202 99.8%)"></i><i style="background:linear-gradient(#101,#202 99.8%)"></i><i style="background:linear-gradient(#101,#202 99.8%)"></i><i style="background:linear-gradient(#101,#202 99.8%)"></i><i style="background:linear-gradient(#102,#203 99.8%)"></i><i style="background:linear-gradient(#204,#203 99.8%)"></i><i style="background:linear-gradient(#204,#203 99.8%)"></i><i style="background:linear-gradient(#204,#203 99.8%)"></i><i style="background:linear-gradient(#204,#203 99.8%)"></i><i style="background:linear-gradient(#204,#203 99.8%)"></i><i style="background:linear-gradient(#204,#203 99.8%)"></i><i style="background:linear-gradient(#204,#203 99.8%)"></i><i style="background:linear-gradient(#204,#203 99.8%)"></i><i style="background:linear-gradient(#203,#203 78.8%,#102 99.8%)"></i><i style="background:linear-gradient(#101,#203 78.8%,#102 82.6%,#000 87.8%,#000 99.8%)"></i><i style="background:linear-gradient(#001,#203 78.8%,#102 82.6%,#000 87.5%,#000 99.8%)"></i><i style="background:linear-gradient(#001,#001 21.2%,#102 50%,#204 78.8%,#203 82.6%,#101 85%,#000 87.5%,#000 99.8%)"></i><i style="background:linear-gradient(#001,#001 21.2%,#102 50%,#204 78.8%,#203 82.6%,#001 85.2%,#000 87.5%,#000 99.8%)"></i><i style="background:linear-gradient(#001,#001 21.2%,#202 50%,#305 78.8%,#203 82.6%,#102 83.9%,#101 85.2%,#000 87.5%,#000 99.8%)"></i><i style="background:linear-gradient(#001,#001 21.2%,#203 50%,#305 78.8%,#204 82.6%,#102 83.9%,#101 85.2%,#000 87.5%,#000 99.8%)"></i><i style="background:linear-gradient(#001,#001 21.2%,#203 50%,#306 78.8%,#305 82.6%,#203 83.9%,#101 85.2%,#000 87.5%,#000 99.8%)"></i><i style="background:linear-gradient(#101,#101 21.2%,#203 40.4%,#305 59.6%,#307 78.8%,#306 82.6%,#204 84.3%,#102 86.1%,#001 87.8%,#000 99.8%)"></i><i style="background:linear-gradient(#101,#101 20.8%,#203 43.6%,#306 61.4%,#308 79.2%,#308 83%,#306 84.5%,#204 86%,#101 87.5%,#000 90.1%,#000 99.8%)"></i><i style="background:linear-gradient(#101,#101 20.8%,#204 43.6%,#306 56.6%,#308 69.6%,#309 82.6%,#308 83.9%,#307 85.2%,#204 86.5%,#102 87.8%,#001 90.1%,#000 99.8%)"></i><i style="background:linear-gradient(#101,#102 20.8%,#204 43.6%,#306 54.7%,#307 65.7%,#309 74.2%,#20a 82.6%,#209 83.9%,#308 85.2%,#307 86.1%,#305 87%,#202 87.8%,#001 90.1%,#000 99.8%)"></i><i style="background:linear-gradient(#102,#102 21.2%,#204 37.8%,#306 54.5%,#308 66.1%,#20a 74.3%,#11b 82.6%,#209 85.2%,#308 86.1%,#306 87%,#204 87.8%,#101 90.1%,#000 99.8%)"></i><i style="background:linear-gradient(#102,#102 21.2%,#204 37.8%,#306 54.5%,#308 66.1%,#20a 74.3%,#11b 82.6%,#20a 85.2%,#309 86.1%,#307 87%,#306 87.8%,#204 89.1%,#102 90.4%,#001 94.2%,#000 99.8%)"></i><i style="background:linear-gradient(#102,#202 21.2%,#305 37.8%,#307 54.5%,#308 66.1%,#20a 74.3%,#12b 82.6%,#21b 85.2%,#309 86.5%,#307 87.8%,#306 89.1%,#204 90.4%,#101 94.2%,#101 99.8%)"></i><i style="background:linear-gradient(#102,#203 21.2%,#305 37.8%,#307 54.5%,#309 66.1%,#20a 74.3%,#12c 82.6%,#11b 85.6%,#20a 87.1%,#308 88.6%,#306 90.1%,#204 91.9%,#102 93.8%,#101 99.8%)"></i><i style="background:linear-gradient(#203,#203 21.2%,#305 37.8%,#307 54.5%,#309 66.1%,#21a 74.5%,#12c 83%,#12b 85.6%,#20a 87.6%,#308 89.7%,#306 91.8%,#203 93.8%,#101 99.8%)"></i><i style="background:linear-gradient(#203,#203 21.2%,#305 37.8%,#307 54.5%,#309 66.1%,#21b 74.5%,#12c 83%,#12c 85.2%,#11b 87.5%,#20a 89.1%,#308 90.8%,#306 92.5%,#204 94.2%,#102 99.8%)"></i><i style="background:linear-gradient(#203,#203 21.2%,#305 37.8%,#307 54.5%,#309 66.1%,#21b 74.5%,#12c 83%,#12c 85.2%,#11b 87.5%,#20a 89.7%,#308 91.9%,#305 94.2%,#204 99.8%)"></i><i style="background:linear-gradient(#203,#203 21.2%,#306 37.8%,#307 54.5%,#309 66.1%,#21b 74.5%,#12c 83%,#11b 87.5%,#20a 89.7%,#309 91.9%,#307 94.2%,#306 99.8%)"></i><i style="background:linear-gradient(#203,#203 21.2%,#306 37.8%,#307 54.5%,#309 66.1%,#21b 74.5%,#12c 83%,#12c 87.5%,#20a 90.6%,#309 93.8%,#307 99.8%)"></i><i style="background:linear-gradient(#203,#204 21.2%,#306 37.8%,#307 54.5%,#309 66.1%,#21b 74.5%,#12c 83%,#12c 87.5%,#21b 90.8%,#20a 94.2%,#308 99.8%)"></i><i style="background:linear-gradient(#203,#204 21.2%,#306 37.8%,#307 54.5%,#309 66.1%,#21b 74.5%,#12c 83%,#12c 87.5%,#21b 93.6%,#309 99.8%)"></i><i style="background:linear-gradient(#203,#204 21.2%,#306 37.8%,#307 54.5%,#309 66.1%,#21b 74.5%,#12c 83%,#20a 91.4%,#309 99.8%)"></i><i style="background:linear-gradient(#203,#203 21.2%,#305 37.8%,#307 54.5%,#309 66.1%,#20a 74.5%,#12c 83%,#20a 91.4%,#308 99.8%)"></i><i style="background:linear-gradient(#203,#203 21.2%,#305 37.8%,#307 54.5%,#309 63.9%,#20a 73.2%,#12c 82.6%,#21a 88.3%,#309 94.1%,#308 99.8%)"></i><i style="background:linear-gradient(#203,#203 21.2%,#305 37.8%,#307 54.5%,#309 63.9%,#20a 73.2%,#11b 82.6%,#20a 88.3%,#309 94.1%,#307 99.8%)"></i><i style="background:linear-gradient(#202,#203 21.2%,#305 37.8%,#307 54.5%,#309 68.5%,#21b 82.6%,#309 91.2%,#306 99.8%)"></i><i style="background:linear-gradient(#101,#102 21.2%,#204 38.6%,#306 56.1%,#308 73.6%,#308 79.2%,#307 83.5%,#305 87.8%,#204 99.8%)"></i><i style="background:linear-gradient(#101,#101 21.2%,#204 47.2%,#307 73.2%,#306 78.8%,#204 82.2%,#102 85.6%,#102 99.8%)"></i><i style="background:linear-gradient(#101,#101 21.2%,#203 47.2%,#305 73.2%,#204 78.8%,#101 85.6%,#101 99.8%)"></i><i style="background:linear-gradient(#102,#102 21.2%,#203 47.2%,#305 73.2%,#204 78.8%,#101 85.6%,#101 99.8%)"></i><i style="background:linear-gradient(#102,#102 21.2%,#305 73.2%,#203 79.4%,#101 85.6%,#101 99.8%)"></i><i style="background:linear-gradient(#102,#305 73.2%,#203 79.4%,#101 85.6%,#101 99.8%)"></i><i style="background:linear-gradient(#102,#305 73.2%,#203 79.4%,#101 85.6%,#101 99.8%)"></i><i style="background:linear-gradient(#102,#305 73.2%,#203 79.4%,#101 85.6%,#101 99.8%)"></i><i style="background:linear-gradient(#102,#305 73.2%,#203 79.4%,#102 85.6%,#101 99.8%)"></i><i style="background:linear-gradient(#102,#305 66.1%,#204 78.8%,#102 85.6%,#101 99.8%)"></i><i style="background:linear-gradient(#202,#305 66.1%,#204 78.8%,#102 85.6%,#101 99.8%)"></i><i style="background:linear-gradient(#203,#305 65.7%,#204 78.8%,#102 85.6%,#101 99.8%)"></i><i style="background:linear-gradient(#203,#306 54.9%,#305 73.2%,#203 79.4%,#102 85.6%,#101 99.8%)"></i><i style="background:linear-gradient(#203,#306 54.9%,#305 73.6%,#203 80.5%,#102 87.5%,#101 99.8%)"></i><i style="background:linear-gradient(#203,#306 54.9%,#305 73.6%,#203 80.5%,#102 87.5%,#101 99.8%)"></i><i style="background:linear-gradient(#203,#306 54.9%,#305 73.6%,#203 80.5%,#102 87.5%,#101 99.8%)"></i><i style="background:linear-gradient(#203,#306 54.9%,#305 73.6%,#203 80.7%,#101 87.8%,#101 99.8%)"></i><i style="background:linear-gradient(#203,#305 54.9%,#305 73.6%,#101 87.8%,#101 99.8%)"></i><i style="background:linear-gradient(#203,#305 65.7%,#204 78.8%,#102 87.5%,#101 99.8%)"></i><i style="background:linear-gradient(#203,#305 65.7%,#204 78.8%,#102 87.5%,#101 99.8%)"></i><i style="background:linear-gradient(#203,#305 65.7%,#102 87.5%,#101 99.8%)"></i><i style="background:linear-gradient(#204,#305 65.7%,#102 87.5%,#102 99.8%)"></i><i style="background:linear-gradient(#204,#305 65.7%,#101 87.8%,#102 99.8%)"></i><i style="background:linear-gradient(#305,#305 65.7%,#203 76.6%,#101 87.5%,#102 99.8%)"></i><i style="background:linear-gradient(#11b,#20a 65.7%,#309 73.2%,#307 76.5%,#305 79.7%,#202 83%,#101 87.8%,#101 99.8%)"></i><i style="background:linear-gradient(#06c,#06d 54.5%,#04c 65.7%,#13c 69.5%,#11b 73.2%,#20a 75.7%,#308 78.1%,#306 80.5%,#203 83%,#101 87.8%,#101 99.8%)"></i><i style="background:linear-gradient(#08c,#08c 32.4%,#05d 65.7%,#03c 69.7%,#12c 73.6%,#20a 75.8%,#309 78.1%,#307 80.3%,#204 82.6%,#102 85.6%,#101 99.8%)"></i><i style="background:linear-gradient(#09b,#09b 32.4%,#06c 65.7%,#05c 69.5%,#03c 73.2%,#11b 76%,#20a 78.8%,#308 80.7%,#306 82.6%,#203 85.6%,#101 99.8%)"></i><i style="background:linear-gradient(#09b,#09b 32.4%,#08c 65.7%,#05c 73.2%,#12c 76%,#11b 78.8%,#20a 80.4%,#308 82%,#306 83.6%,#204 85.2%,#102 87.5%,#101 99.8%)"></i><i style="background:linear-gradient(#09a,#09a 32.4%,#09b 49.3%,#08c 66.1%,#07c 73.2%,#04c 76%,#12c 78.8%,#21b 80.4%,#309 82%,#307 83.6%,#305 85.2%,#102 87.8%,#101 99.8%)"></i><i style="background:linear-gradient(#0a8,#0a9 32.4%,#09a 54.9%,#08c 73.2%,#06c 76.2%,#04c 79.2%,#12b 80.8%,#20a 82.4%,#308 84%,#306 85.6%,#203 87.8%,#102 99.8%)"></i><i style="background:linear-gradient(#0a7,#0a7 21.2%,#0a9 47.2%,#09a 73.2%,#08c 76.2%,#07c 79.2%,#04c 80.6%,#12c 82.1%,#20a 83.5%,#309 85%,#307 86.4%,#204 87.8%,#102 93.8%,#102 99.8%)"></i><i style="background:linear-gradient(#0a6,#0a6 21.2%,#0a7 47.2%,#0a9 73.2%,#09a 76.2%,#08c 79.2%,#06c 80.9%,#04c 82.6%,#12c 83.9%,#20a 85.2%,#309 86.5%,#307 87.8%,#305 90.8%,#204 93.8%,#203 99.8%)"></i><i style="background:linear-gradient(#0a5,#0a7 73.2%,#09a 79.2%,#08c 80.9%,#07c 82.6%,#04c 83.9%,#12c 85.2%,#21b 86.5%,#309 87.8%,#307 90.8%,#305 93.8%,#204 99.8%)"></i><i style="background:linear-gradient(#0a4,#0a6 73.2%,#0a9 79.2%,#09a 80.9%,#08c 82.6%,#07c 83.8%,#04c 85%,#12c 86.2%,#11b 87.5%,#309 90.6%,#307 93.8%,#305 99.8%)"></i><i style="background:linear-gradient(#0a3,#0a3 43.3%,#0a5 73.2%,#0a7 79.2%,#099 80.9%,#09b 82.6%,#07c 83.9%,#05c 85.2%,#03c 86.3%,#11b 87.5%,#20a 90.6%,#308 93.8%,#306 99.8%)"></i><i style="background:linear-gradient(#0a3,#0a2 43.3%,#0a3 73.2%,#0a6 79.2%,#0a8 80.9%,#09a 82.6%,#09b 83.6%,#07c 84.6%,#05d 85.6%,#12c 87.8%,#21b 90.8%,#309 93.8%,#307 99.8%)"></i><i style="background:linear-gradient(#0a2,#0b1 43.3%,#0a2 73.6%,#0a4 79.2%,#0a6 80.9%,#0a8 82.6%,#09a 83.6%,#08c 84.6%,#07c 85.6%,#05d 86.7%,#03c 87.8%,#11b 90.8%,#20a 93.8%,#308 99.8%)"></i><i style="background:linear-gradient(#0b2,#0c0 43.3%,#0b1 73.6%,#0a3 79.2%,#0a4 80.9%,#0a6 82.6%,#0a9 83.6%,#09a 84.6%,#08c 85.6%,#06d 87.8%,#03c 90.1%,#11b 92.1%,#20a 94.2%,#309 99.8%)"></i><i style="background:linear-gradient(#0b1,#0c0 21.7%,#1d0 43.3%,#0b1 73.6%,#0b2 79.2%,#0a3 80.9%,#0a5 82.6%,#0a8 84.2%,#09b 85.8%,#08c 87.5%,#06c 89%,#04c 90.4%,#12c 92.3%,#11b 94.2%,#20a 99.8%)"></i><i style="background:linear-gradient(#0b1,#0b1 9.9%,#1c0 26.6%,#1d0 43.3%,#0c0 73.6%,#0b1 79.2%,#0b2 80.9%,#0a3 82.6%,#0a6 84.1%,#099 85.6%,#09b 87.2%,#08c 88.8%,#06c 90.4%,#04c 92.3%,#13c 94.2%,#11b 99.8%)"></i><i style="background:linear-gradient(#0c0,#0c0 9.9%,#1d0 26.6%,#2e0 43.3%,#1d0 73.6%,#0c0 79.2%,#0b1 80.9%,#0a2 82.6%,#0a5 84.3%,#0a8 86.1%,#09a 87.8%,#08c 90.8%,#05d 93.8%,#03c 99.8%)"></i><i style="background:linear-gradient(#1d0,#2d0 21.7%,#4e0 43.3%,#2e0 73.6%,#1d0 78.8%,#1c0 80.7%,#0c1 82.6%,#0a2 84.1%,#0a5 85.6%,#0a8 88%,#09a 90.4%,#08c 94.2%,#07c 99.8%)"></i><i style="background:linear-gradient(#1d0,#3e0 21.9%,#6e0 43.6%,#5e0 73.6%,#4e0 78.8%,#1d0 82.6%,#0c0 84.1%,#0a2 85.6%,#0a4 88%,#0a7 90.4%,#09a 94.2%,#09b 99.8%)"></i><i style="background:linear-gradient(#2d0,#4e0 27.3%,#8e0 54.5%,#9e0 78.8%,#5e0 82.6%,#2e0 83.6%,#1d0 84.6%,#0b1 85.6%,#0b1 86.7%,#0a3 87.8%,#0a5 90.1%,#0a8 94.2%,#099 99.8%)"></i><i style="background:linear-gradient(#2e0,#2e0 9.9%,#6e0 32.9%,#ae0 55.9%,#dd0 78.8%,#be0 82.6%,#7e0 83.6%,#3e0 84.6%,#1d0 85.6%,#0c0 86.7%,#0b2 87.8%,#0a4 90.8%,#0a6 93.8%,#0a8 99.8%)"></i><i style="background:linear-gradient(#3e0,#3e0 9.9%,#5e0 26.6%,#8e0 43.3%,#be0 54.5%,#dd0 65.7%,#ec0 72.3%,#fa0 78.8%,#ec0 82.6%,#cd0 83.3%,#9e0 84.1%,#5e0 84.8%,#2e0 85.6%,#1c0 86.7%,#0b1 87.8%,#0a2 90.8%,#0a5 93.8%,#0a7 99.8%)"></i><i style="background:linear-gradient(#2e0,#2e0 9.9%,#5e0 26.6%,#8e0 43.3%,#be0 54.5%,#dd0 65.7%,#eb0 72.3%,#f80 78.8%,#ea0 82.6%,#dd0 83.4%,#be0 84.2%,#8e0 85%,#4e0 85.8%,#1d0 86.6%,#0c0 87.5%,#0b1 88.8%,#0a2 90.1%,#0a4 94.2%,#0a6 99.8%)"></i><i style="background:linear-gradient(#2d0,#2d0 9.9%,#4e0 26.6%,#7e0 43.3%,#be0 54.5%,#ec0 65.7%,#ea0 72.5%,#f70 79.2%,#fa0 83%,#ec0 83.7%,#ce0 84.5%,#8e0 85.2%,#5e0 86%,#2d0 86.7%,#0c0 87.5%,#0b1 88.8%,#0b2 90.1%,#0a4 94.2%,#0a6 99.8%)"></i><i style="background:linear-gradient(#1d0,#1d0 9.9%,#3e0 26.6%,#7e0 43.3%,#ae0 50.7%,#cd0 58.2%,#ec0 65.7%,#fa0 72.5%,#f70 79.2%,#f90 83%,#eb0 83.7%,#dd0 84.5%,#be0 85.2%,#7e0 86%,#3e0 86.7%,#1d0 87.5%,#0c0 88.8%,#0b1 90.1%,#0a2 92.1%,#0a4 94.2%,#0a6 99.8%)"></i><i style="background:linear-gradient(#1d0,#2d0 20.8%,#4e0 32%,#7e0 43.3%,#ae0 50.7%,#dd0 58.2%,#ec0 65.7%,#f90 72.5%,#f60 79.2%,#f80 83%,#fa0 83.7%,#ec0 84.5%,#cd0 85.2%,#9e0 85.9%,#5e0 86.5%,#2e0 87.2%,#1c0 87.8%,#0c0 89%,#0b1 90.1%,#0a2 92.1%,#0a4 94.2%,#0a6 99.8%)"></i><i style="background:linear-gradient(#0c0,#1d0 20.8%,#4e0 32%,#7e0 43.3%,#ae0 50.7%,#dd0 58.2%,#ec0 65.7%,#f90 72.5%,#f60 79.2%,#f70 83%,#fa0 83.7%,#ec0 84.5%,#dd0 85.2%,#ae0 85.9%,#6e0 86.5%,#2e0 87.2%,#1c0 87.8%,#0c0 89%,#0b1 90.1%,#0a2 92.1%,#0a4 94.2%,#0a6 99.8%)"></i><i style="background:linear-gradient(#0c0,#1d0 20.8%,#3e0 32%,#7e0 43.3%,#ae0 50.7%,#dd0 58.2%,#ec0 65.7%,#f90 72.5%,#f60 79.2%,#f70 83%,#ea0 84.1%,#dd0 85.2%,#be0 85.9%,#6e0 86.5%,#3e0 87.2%,#1d0 87.8%,#0c0 89%,#0b1 90.1%,#0a2 92.1%,#0a4 94.2%,#0a6 99.8%)"></i><i style="background:linear-gradient(#0b1,#1d0 21.2%,#3e0 30.1%,#6e0 39%,#ae0 47.9%,#dd0 56.8%,#ec0 65.7%,#f90 72.5%,#f50 79.2%,#f70 83%,#fa0 84.1%,#ec0 85.2%,#be0 85.9%,#7e0 86.5%,#3e0 87.2%,#1d0 87.8%,#0c0 89%,#0b1 90.1%,#0a2 92.1%,#0a4 94.2%,#0a6 99.8%)"></i><i style="background:linear-gradient(#0b1,#0c0 10.7%,#1d0 21.2%,#3e0 30.1%,#6e0 39%,#ae0 47.9%,#dd0 56.8%,#ec0 65.7%,#f90 72.5%,#f50 79.2%,#f60 83%,#fa0 84.1%,#ec0 85.2%,#ce0 85.9%,#7e0 86.5%,#3e0 87.2%,#1d0 87.8%,#0c0 89%,#0b1 90.1%,#0a2 92.1%,#0a4 94.2%,#0a6 99.8%)"></i><i style="background:linear-gradient(#0b1,#0c0 10.7%,#1d0 21.2%,#3e0 30.1%,#6e0 39%,#ae0 47.9%,#dd0 56.8%,#ec0 65.7%,#f90 72.5%,#f50 79.2%,#f60 83%,#fa0 84.1%,#ec0 85.2%,#ce0 85.9%,#7e0 86.5%,#3e0 87.2%,#1d0 87.8%,#0c0 89%,#0b1 90.1%,#0a2 92.1%,#0a4 94.2%,#0a6 99.8%)"></i><i style="background:linear-gradient(#0b1,#0c0 10.7%,#1d0 21.2%,#3e0 30.1%,#6e0 39%,#ae0 47.9%,#dd0 56.8%,#ec0 65.7%,#f90 72.5%,#f60 79.2%,#f70 83%,#fa0 84.1%,#ec0 85.2%,#ce0 85.9%,#7e0 86.5%,#3e0 87.2%,#1d0 87.8%,#0c0 89%,#0b1 90.1%,#0a2 92.1%,#0a4 94.2%,#0a6 99.8%)"></i><i style="background:linear-gradient(#0b1,#0c0 9.9%,#1d0 20.8%,#3e0 29.8%,#6e0 38.8%,#ae0 47.8%,#dd0 56.7%,#ec0 65.7%,#f90 72.5%,#f60 79.2%,#f70 83%,#fa0 84.1%,#ec0 85.2%,#ce0 85.9%,#7e0 86.5%,#3e0 87.2%,#1d0 87.8%,#0c0 89%,#0b1 90.1%,#0a2 92.1%,#0a4 94.2%,#0a6 99.8%)"></i><i style="background:linear-gradient(#0c0,#1d0 10.5%,#2d0 20.8%,#5e0 32%,#9e0 43.3%,#cd0 54.5%,#ec0 65.7%,#f90 72.5%,#f60 79.2%,#f70 83%,#fa0 84.1%,#ec0 85.2%,#be0 85.9%,#7e0 86.5%,#3e0 87.2%,#1d0 87.8%,#0c0 89%,#0b1 90.1%,#0a2 92.1%,#0a4 94.2%,#0a6 99.8%)"></i><i style="background:linear-gradient(#1d0,#1d0 9.9%,#3e0 21.2%,#6e0 32.4%,#9e0 43.6%,#cd0 54.7%,#ec0 65.7%,#f90 72.5%,#f60 79.2%,#f80 83%,#eb0 84.1%,#dd0 85.2%,#be0 85.9%,#6e0 86.5%,#3e0 87.2%,#1d0 87.8%,#0c0 89%,#0b1 90.1%,#0a2 92.1%,#0a4 94.2%,#0a6 99.8%)"></i><i style="background:linear-gradient(#2e0,#2e0 9.9%,#6e0 26.8%,#ae0 43.6%,#cd0 54.7%,#ec0 65.7%,#fa0 72.5%,#f70 79.2%,#f80 83%,#eb0 84.1%,#dd0 85.2%,#ae0 85.9%,#6e0 86.5%,#2e0 87.2%,#1c0 87.8%,#0c0 89%,#0b1 90.1%,#0a2 92.1%,#0a4 94.2%,#0a7 99.8%)"></i><i style="background:linear-gradient(#4e0,#7e0 21.9%,#ae0 43.6%,#cd0 54.7%,#ec0 65.7%,#fa0 72.5%,#f80 79.2%,#f90 83%,#ec0 84.1%,#ce0 85.2%,#8e0 85.9%,#5e0 86.5%,#2d0 87.2%,#0c0 87.8%,#0b1 89%,#0b1 90.1%,#0a2 92.1%,#0a4 94.2%,#0a7 99.8%)"></i><i style="background:linear-gradient(#7e0,#ae0 43.3%,#dd0 55.2%,#eb0 67.2%,#f80 79.2%,#ea0 83%,#ec0 83.7%,#cd0 84.5%,#ae0 85.2%,#6e0 86%,#2e0 86.7%,#1d0 87.5%,#0c0 88.8%,#0b1 90.1%,#0a3 92.1%,#0a4 94.2%,#0a7 99.8%)"></i><i style="background:linear-gradient(#8e0,#be0 43.3%,#dd0 61%,#ea0 78.8%,#ec0 83%,#ce0 83.9%,#9e0 84.8%,#5e0 85.7%,#2d0 86.6%,#1c0 87.5%,#0b1 88.8%,#0b2 90.1%,#0a3 92.1%,#0a5 94.2%,#0a7 99.8%)"></i><i style="background:linear-gradient(#9e0,#9e0 32.4%,#ce0 55.6%,#dd0 78.8%,#ce0 83%,#8e0 84.1%,#4e0 85.2%,#1d0 86.3%,#0c0 87.5%,#0b1 88.8%,#0a2 90.1%,#0a3 92.1%,#0a5 94.2%,#0a8 99.8%)"></i><i style="background:linear-gradient(#9e0,#9e0 32%,#ce0 65.7%,#be0 78.8%,#8e0 83%,#5e0 84.2%,#2d0 85.4%,#1c0 86.6%,#0b1 87.8%,#0a2 90.4%,#0a6 94.2%,#0a8 99.8%)"></i><i style="background:linear-gradient(#8e0,#ae0 54.9%,#8e0 73.6%,#4e0 82.6%,#1d0 84.3%,#0c0 86.1%,#0b1 87.8%,#0a3 90.1%,#0a5 92.1%,#0a7 94.2%,#099 99.8%)"></i><i style="background:linear-gradient(#6e0,#8e0 43.6%,#6e0 66.1%,#3e0 74.3%,#1d0 82.6%,#0c0 85.2%,#0a2 87.8%,#0a5 90.4%,#0a8 95.1%,#09b 99.8%)"></i><i style="background:linear-gradient(#5e0,#6e0 43.3%,#4e0 65.7%,#1d0 74.2%,#0c0 82.6%,#0b1 85.4%,#0a3 88.2%,#0a6 91%,#099 93.8%,#09a 96.8%,#08b 99.8%)"></i><i style="background:linear-gradient(#5e0,#5e0 43.3%,#3e0 65.7%,#1d0 74.2%,#0b1 82.6%,#0a2 85.2%,#0a5 87.8%,#0a8 90.4%,#09b 95.1%,#08c 99.8%)"></i><i style="background:linear-gradient(#4e0,#5e0 43.3%,#2d0 65.7%,#0c0 74.2%,#0b1 82.6%,#0a4 85.2%,#0a7 87.8%,#099 90.4%,#08b 95.1%,#06c 99.8%)"></i><i style="background:linear-gradient(#4e0,#3e0 43.3%,#1d0 66.1%,#0c1 74.3%,#0a2 82.6%,#0a4 85.2%,#0a8 87.8%,#09a 90.4%,#08c 95.1%,#05d 99.8%)"></i><i style="background:linear-gradient(#4e0,#3e0 32.4%,#1d0 53%,#0c0 73.6%,#0b1 78.1%,#0a2 82.6%,#0a5 85.2%,#0a9 87.8%,#09b 90.4%,#07c 95.1%,#04c 99.8%)"></i><i style="background:linear-gradient(#3e0,#2e0 32%,#1c0 52.8%,#0b1 73.6%,#0b2 78.8%,#0a4 82.6%,#0a7 85.2%,#09a 87.8%,#08c 90.4%,#06d 95.1%,#03c 99.8%)"></i><i style="background:linear-gradient(#3e0,#1d0 32.4%,#0c0 52.8%,#0b1 73.2%,#0a3 78.8%,#0a4 80.7%,#0a6 82.6%,#0a9 84.1%,#09b 85.6%,#08c 88%,#05d 90.4%,#03c 95.1%,#11b 99.8%)"></i><i style="background:linear-gradient(#2e0,#1d0 20.8%,#1c0 37.6%,#0c0 54.5%,#0b1 63.9%,#0a2 73.2%,#0a5 79.2%,#0a7 80.9%,#0a8 82.6%,#09a 83.6%,#08c 84.6%,#07c 85.6%,#05d 87.8%,#13c 90.1%,#11b 94.9%,#21b 99.8%)"></i><i style="background:linear-gradient(#1d0,#1d0 21.2%,#0c0 43.6%,#0b1 66.1%,#0a3 72.5%,#0a6 78.8%,#0a8 80.7%,#09a 82.6%,#09b 83.6%,#07c 84.6%,#05d 85.6%,#03c 87.8%,#12b 90.1%,#20a 99.8%)"></i><i style="background:linear-gradient(#1c0,#0c0 21.2%,#0b1 43.6%,#0a2 66.1%,#0a4 72.5%,#0a7 78.8%,#099 80.7%,#09b 82.6%,#08c 83.6%,#06d 84.6%,#04c 85.6%,#12c 87.8%,#11b 90.1%,#209 99.8%)"></i><i style="background:linear-gradient(#0c0,#0c0 21.2%,#0b1 43.6%,#0a2 66.1%,#0a5 72.5%,#0a8 78.8%,#09a 80.7%,#08c 82.6%,#07c 83.6%,#05d 84.6%,#03c 85.6%,#11b 87.8%,#21b 90.1%,#309 99.8%)"></i><i style="background:linear-gradient(#0c0,#0c0 21.2%,#0b1 43.4%,#0a3 65.7%,#0a6 72.3%,#0a9 78.8%,#09b 80.7%,#08c 82.6%,#05d 84.1%,#13c 85.6%,#11b 87.8%,#20a 90.1%,#309 99.8%)"></i><i style="background:linear-gradient(#0b1,#0b1 21.2%,#0b2 43.4%,#0a3 65.7%,#0a5 70.1%,#0a8 74.5%,#09a 78.8%,#09b 80.7%,#07c 82.6%,#05d 84.1%,#12c 85.6%,#11b 87.8%,#20a 90.1%,#309 99.8%)"></i><i style="background:linear-gradient(#0b1,#0b1 21.2%,#0a2 54.5%,#0a4 65.7%,#0a6 70.1%,#0a8 74.5%,#09a 78.8%,#08c 81.1%,#05d 83.3%,#12c 85.6%,#11b 88%,#20a 90.4%,#309 99.8%)"></i><i style="background:linear-gradient(#0b1,#0b1 21.2%,#0a2 43.4%,#0a4 65.7%,#0a7 70.1%,#0a9 74.5%,#09b 78.8%,#08c 81.1%,#05d 83.3%,#12c 85.6%,#11b 88%,#20a 90.4%,#309 99.8%)"></i><i style="background:linear-gradient(#0b1,#0b1 21.2%,#0a3 43.4%,#0a5 65.7%,#0a7 70.1%,#099 74.5%,#09b 78.8%,#07c 81.1%,#04c 83.3%,#12c 85.6%,#11b 87.8%,#20a 90.1%,#308 99.8%)"></i><i style="background:linear-gradient(#0b1,#0b1 21.2%,#0a3 43.4%,#0a5 65.7%,#0a8 70.1%,#09a 74.5%,#09b 78.8%,#07c 81.1%,#04c 83.3%,#12b 85.6%,#21b 87.8%,#20a 90.1%,#308 99.8%)"></i><i style="background:linear-gradient(#0b1,#0b1 21.2%,#0a3 43.4%,#0a6 65.7%,#0a9 72.3%,#09b 78.8%,#07c 81.1%,#04c 83.3%,#11b 85.6%,#20a 90.1%,#308 99.8%)"></i><i style="background:linear-gradient(#0a2,#0a3 21.2%,#0a6 43.4%,#0a9 65.7%,#09b 72.3%,#07c 78.8%,#05d 81.1%,#12c 83.3%,#11b 85.6%,#209 90.1%,#308 99.8%)"></i><i style="background:linear-gradient(#0a9,#09a 20.8%,#09b 37.8%,#07c 54.9%,#05d 66.1%,#03c 72.1%,#11b 78.1%,#20a 84.1%,#308 90.1%,#307 99.8%)"></i><i style="background:linear-gradient(#0a8,#099 20.8%,#09b 32.1%,#08c 43.5%,#06c 54.9%,#04c 66.1%,#11b 74.1%,#20a 82.1%,#308 90.1%,#307 99.8%)"></i><i style="background:linear-gradient(#0a5,#0a7 20.8%,#09a 35.8%,#08c 50.7%,#06c 65.7%,#04c 72.5%,#12c 79.2%,#21a 83.5%,#309 87.8%,#307 99.8%)"></i><i style="background:linear-gradient(#0a5,#0a7 43.3%,#0a9 54.5%,#09a 65.7%,#08c 72.3%,#06d 78.8%,#03c 81.1%,#12b 83.3%,#20a 85.6%,#309 92.7%,#307 99.8%)"></i><i style="background:linear-gradient(#0a5,#0a6 43.6%,#0a9 65.7%,#09b 72.3%,#07c 78.8%,#06d 80.7%,#04c 82.6%,#12c 84.1%,#21b 85.6%,#309 92.7%,#307 99.8%)"></i><i style="background:linear-gradient(#0a6,#0a6 43.6%,#0a9 65.7%,#09b 72.3%,#08c 78.8%,#06c 80.7%,#04c 82.6%,#12c 84.1%,#11b 85.6%,#20a 89.7%,#308 93.8%,#307 99.8%)"></i><i style="background:linear-gradient(#0a6,#0a7 43.3%,#0a9 66.1%,#09b 72.5%,#08c 78.8%,#07c 80.7%,#05d 82.6%,#13c 84.1%,#11b 85.6%,#20a 89.7%,#308 93.8%,#307 99.8%)"></i><i style="background:linear-gradient(#0a7,#0a7 32.4%,#099 66.1%,#09b 72.5%,#08c 78.8%,#05d 82.6%,#03c 84.1%,#11b 85.6%,#20a 89.7%,#308 93.8%,#307 99.8%)"></i><i style="background:linear-gradient(#0a7,#0a7 32.4%,#099 66.1%,#09b 72.5%,#08c 78.8%,#05d 82.6%,#03c 83.9%,#12c 85.2%,#21b 87.5%,#20a 90.6%,#308 93.8%,#307 99.8%)"></i><i style="background:linear-gradient(#0a7,#0a7 32.4%,#09a 66.1%,#09b 72.7%,#08c 79.2%,#05d 82.6%,#03c 84.1%,#11b 85.6%,#21b 88%,#20a 90.4%,#308 95.1%,#307 99.8%)"></i><i style="background:linear-gradient(#0a7,#0a7 32.4%,#09a 66.1%,#09b 72.7%,#07c 79.2%,#05d 82.6%,#03c 84.1%,#12c 85.6%,#21b 88%,#20a 90.4%,#308 95.1%,#307 99.8%)"></i></div>
<div class="sp" style="left:197px;top:436px;width:1448px;height:267px"><i style="background:linear-gradient(#101,#101 21.2%,#204 54.9%,#204 99.8%)"></i><i style="background:linear-gradient(#101,#101 21.2%,#204 54.9%,#204 99.8%)"></i><i style="background:linear-gradient(#101,#101 21.2%,#204 54.9%,#204 99.8%)"></i><i style="background:linear-gradient(#101,#101 21.2%,#204 54.9%,#204 99.8%)"></i><i style="background:linear-gradient(#101,#101 21.2%,#204 54.9%,#204 99.8%)"></i><i style="background:linear-gradient(#101,#101 21.2%,#204 54.9%,#204 99.8%)"></i><i style="background:linear-gradient(#101,#101 21.2%,#204 54.9%,#204 99.8%)"></i><i style="background:linear-gradient(#101,#101 21.2%,#204 54.9%,#204 99.8%)"></i><i style="background:linear-gradient(#101,#101 21.2%,#204 54.9%,#204 99.8%)"></i><i style="background:linear-gradient(#101,#101 21.2%,#204 54.9%,#204 99.8%)"></i><i style="background:linear-gradient(#101,#101 21.2%,#204 54.9%,#204 99.8%)"></i><i style="background:linear-gradient(#101,#101 21.2%,#204 54.9%,#204 99.8%)"></i><i style="background:linear-gradient(#101,#101 21.2%,#204 54.9%,#204 99.8%)"></i><i style="background:linear-gradient(#101,#101 21.2%,#204 54.9%,#204 99.8%)"></i><i style="background:linear-gradient(#101,#101 21.2%,#204 54.9%,#204 99.8%)"></i><i style="background:linear-gradient(#101,#101 21.2%,#204 54.9%,#204 99.8%)"></i><i style="background:linear-gradient(#101,#101 21.2%,#204 54.9%,#204 99.8%)"></i><i style="background:linear-gradient(#101,#101 21.2%,#204 54.9%,#204 99.8%)"></i><i style="background:linear-gradient(#101,#101 21.2%,#204 54.9%,#204 99.8%)"></i><i style="background:linear-gradient(#101,#101 21.2%,#204 54.9%,#204 99.8%)"></i><i style="background:linear-gradient(#101,#101 21.2%,#204 54.9%,#204 99.8%)"></i><i style="background:linear-gradient(#101,#101 21.2%,#204 54.9%,#204 99.8%)"></i><i style="background:linear-gradient(#101,#101 21.2%,#204 54.9%,#204 99.8%)"></i><i style="background:linear-gradient(#101,#101 21.2%,#204 54.9%,#204 99.8%)"></i><i style="background:linear-gradient(#101,#101 21.2%,#204 54.9%,#204 99.8%)"></i><i style="background:linear-gradient(#101,#101 21.2%,#204 54.9%,#204 99.8%)"></i><i style="background:linear-gradient(#101,#101 21.2%,#204 54.9%,#204 99.8%)"></i><i style="background:linear-gradient(#101,#102 32%,#204 41%,#203 44.4%,#204 99.8%)"></i><i style="background:linear-gradient(#101,#102 32.4%,#203 38%,#305 41.4%,#203 45.1%,#204 99.8%)"></i><i style="background:linear-gradient(#101,#102 32.4%,#203 38%,#306 41.8%,#203 45.9%,#204 99.8%)"></i><i style="background:linear-gradient(#101,#102 35.8%,#203 38.8%,#305 40.3%,#306 41.8%,#203 46.6%,#204 99.8%)"></i><i style="background:linear-gradient(#101,#102 36.5%,#203 39.1%,#305 40.6%,#307 42.1%,#305 44.6%,#204 47%,#204 99.8%)"></i><i style="background:linear-gradient(#101,#102 36.5%,#204 39.5%,#306 41%,#308 42.5%,#306 44.2%,#204 45.9%,#204 99.8%)"></i><i style="background:linear-gradient(#101,#102 36.5%,#204 39.5%,#306 41.2%,#308 42.9%,#307 44.6%,#305 46.3%,#204 48.1%,#204 99.8%)"></i><i style="background:linear-gradient(#101,#102 36.9%,#204 39.9%,#307 41.8%,#309 43.6%,#307 45.3%,#305 47%,#204 48.9%,#204 99.8%)"></i><i style="background:linear-gradient(#101,#202 37.3%,#204 40.3%,#307 42.1%,#309 44%,#307 45.9%,#305 47.8%,#204 50%,#204 99.8%)"></i><i style="background:linear-gradient(#101,#202 37.6%,#305 41%,#308 42.9%,#20a 44.8%,#308 46.4%,#305 48.1%,#204 50.7%,#204 99.8%)"></i><i style="background:linear-gradient(#101,#202 38%,#305 41.4%,#307 42.8%,#308 44.1%,#20a 45.5%,#308 46.3%,#307 47.6%,#306 48.9%,#204 51.5%,#204 99.8%)"></i><i style="background:linear-gradient(#101,#101 21.2%,#203 38.8%,#305 41.8%,#308 43.8%,#20a 45.9%,#308 47.8%,#306 49.6%,#204 52.6%,#204 99.8%)"></i><i style="background:linear-gradient(#101,#101 21.2%,#203 39.1%,#305 42.5%,#308 44.6%,#20a 46.6%,#308 48.5%,#306 50.4%,#204 53.4%,#204 99.8%)"></i><i style="background:linear-gradient(#101,#101 21.2%,#203 39.5%,#305 42.9%,#307 44.4%,#309 45.9%,#20a 47.4%,#309 48.1%,#307 49.6%,#306 51.1%,#204 54.1%,#204 99.8%)"></i><i style="background:linear-gradient(#101,#101 21.2%,#203 39.9%,#305 43.6%,#308 45.9%,#20a 48.1%,#308 50.2%,#306 52.2%,#204 55.6%,#204 99.8%)"></i><i style="background:linear-gradient(#101,#101 21.2%,#203 40.6%,#305 44.4%,#307 45.9%,#309 47.4%,#20a 48.9%,#308 50.9%,#306 53%,#204 56.4%,#204 99.8%)"></i><i style="background:linear-gradient(#101,#101 21.2%,#203 41.4%,#305 45.1%,#307 46.6%,#309 48.1%,#20a 49.6%,#308 51.9%,#306 54.1%,#204 57.5%,#204 99.8%)"></i><i style="background:linear-gradient(#101,#101 21.2%,#203 42.1%,#306 46.3%,#307 47.8%,#309 49.3%,#20a 50.7%,#309 51.5%,#308 53.2%,#306 54.9%,#204 58.2%,#204 99.8%)"></i><i style="background:linear-gradient(#101,#101 21.2%,#203 42.9%,#306 47%,#307 48.5%,#309 50%,#20a 51.5%,#309 53%,#307 54.5%,#306 56%,#204 59%,#204 99.8%)"></i><i style="background:linear-gradient(#101,#101 21.2%,#203 43.6%,#306 47.8%,#307 49.3%,#309 50.7%,#20a 52.2%,#308 54.5%,#306 56.7%,#204 59.7%,#204 99.8%)"></i><i style="background:linear-gradient(#101,#101 21.2%,#203 44%,#306 48.5%,#307 50.1%,#309 51.7%,#20a 53.4%,#309 54.1%,#308 55.8%,#306 57.5%,#204 60.5%,#204 99.8%)"></i><i style="background:linear-gradient(#101,#101 21.2%,#203 44.8%,#306 49.3%,#307 50.9%,#309 52.5%,#20a 54.1%,#309 55.5%,#308 56.9%,#306 58.2%,#204 61.6%,#204 99.8%)"></i><i style="background:linear-gradient(#101,#101 21.2%,#203 45.5%,#306 50.4%,#308 51.9%,#309 53.4%,#20a 54.9%,#309 56.4%,#308 57.9%,#306 59.4%,#204 62.4%,#204 99.8%)"></i><i style="background:linear-gradient(#101,#101 21.2%,#203 46.3%,#306 51.1%,#308 52.7%,#309 54.4%,#21b 56%,#209 56.7%,#308 58.2%,#306 59.7%,#204 63.1%,#204 99.8%)"></i><i style="background:linear-gradient(#101,#101 21.2%,#203 46.6%,#306 51.9%,#308 53.5%,#309 55.1%,#21b 56.7%,#209 57.5%,#308 59.2%,#306 60.9%,#204 63.9%,#204 99.8%)"></i><i style="background:linear-gradient(#101,#101 21.2%,#203 47.4%,#306 52.6%,#308 54.2%,#209 55.9%,#21b 57.5%,#209 58.2%,#308 59.9%,#306 61.6%,#204 64.6%,#204 99.8%)"></i><i style="background:linear-gradient(#101,#101 21.2%,#203 47.8%,#306 53%,#308 54.7%,#209 56.5%,#21b 58.2%,#209 59%,#308 60.7%,#306 62.4%,#204 65.4%,#204 99.8%)"></i><i style="background:linear-gradient(#101,#101 21.2%,#203 48.5%,#306 53.7%,#308 55.5%,#209 57.2%,#21b 59%,#20a 59.7%,#308 61.4%,#306 63.1%,#204 66.1%,#204 99.8%)"></i><i style="background:linear-gradient(#101,#101 21.2%,#203 48.9%,#306 54.5%,#308 56.2%,#209 58%,#21b 59.7%,#20a 60.5%,#308 62.2%,#306 63.9%,#204 66.9%,#204 99.8%)"></i><i style="background:linear-gradient(#101,#101 21.2%,#203 49.6%,#306 55.6%,#308 57.2%,#209 58.9%,#21b 60.5%,#209 61.9%,#308 63.2%,#306 64.6%,#204 67.6%,#204 99.8%)"></i><i style="background:linear-gradient(#101,#101 21.2%,#203 50.4%,#306 56.4%,#308 58%,#209 59.6%,#21b 61.2%,#209 62.5%,#308 63.7%,#306 65%,#204 68%,#204 99.8%)"></i><i style="background:linear-gradient(#101,#101 21.2%,#203 51.1%,#306 57.1%,#308 58.7%,#209 60.4%,#21b 62%,#209 63.2%,#308 64.5%,#306 65.7%,#204 68.7%,#204 99.8%)"></i><i style="background:linear-gradient(#101,#101 21.2%,#204 51.9%,#306 57.9%,#308 59.5%,#209 61.1%,#21b 62.7%,#209 64%,#308 65.2%,#306 66.5%,#204 69.5%,#204 99.8%)"></i><i style="background:linear-gradient(#101,#101 21.2%,#204 52.6%,#306 59%,#308 60.5%,#209 62%,#21b 63.5%,#209 64.7%,#308 66%,#306 67.2%,#204 69.9%,#204 99.8%)"></i><i style="background:linear-gradient(#101,#101 21.2%,#204 53.4%,#306 59.7%,#308 61.2%,#209 62.7%,#21b 64.2%,#209 65.4%,#308 66.5%,#306 67.6%,#204 70.2%,#204 99.8%)"></i><i style="background:linear-gradient(#101,#101 21.2%,#204 53.7%,#306 60.1%,#308 61.6%,#209 63.1%,#21b 64.6%,#209 65.9%,#308 67.1%,#306 68.4%,#204 71%,#204 99.8%)"></i><i style="background:linear-gradient(#101,#101 21.2%,#204 54.5%,#306 60.9%,#308 62.4%,#209 63.9%,#21b 65.4%,#209 66.6%,#308 67.9%,#306 69.1%,#204 71.3%,#204 99.8%)"></i><i style="background:linear-gradient(#101,#101 21.2%,#204 55.2%,#306 61.6%,#308 63%,#309 64.4%,#21b 65.7%,#309 67%,#308 68.2%,#306 69.5%,#204 71.7%,#204 99.8%)"></i><i style="background:linear-gradient(#101,#101 21.2%,#204 56%,#306 62.4%,#308 63.7%,#209 65.1%,#21b 66.5%,#309 67.7%,#308 69%,#305 70.2%,#204 72.1%,#204 99.8%)"></i><i style="background:linear-gradient(#101,#101 21.2%,#204 56.4%,#306 63.1%,#308 64.5%,#209 65.9%,#21b 67.2%,#209 68.4%,#308 69.5%,#306 70.6%,#204 72.8%,#204 99.8%)"></i><i style="background:linear-gradient(#101,#101 21.2%,#204 57.1%,#306 63.9%,#308 65.1%,#309 66.4%,#21b 67.6%,#309 68.9%,#307 70.1%,#305 71.3%,#204 73.2%,#204 99.8%)"></i><i style="background:linear-gradient(#101,#101 21.2%,#204 57.5%,#306 64.6%,#308 65.9%,#209 67.1%,#21b 68.4%,#209 69.5%,#308 70.6%,#306 71.7%,#204 73.6%,#204 99.8%)"></i><i style="background:linear-gradient(#101,#101 21.2%,#204 58.2%,#306 65.4%,#308 66.6%,#209 67.9%,#11b 69.1%,#209 70.1%,#308 71.1%,#306 72.1%,#204 74%,#204 99.8%)"></i><i style="background:linear-gradient(#101,#101 21.2%,#204 59%,#306 66.1%,#307 67.2%,#209 68.4%,#11b 69.5%,#20a 70.6%,#308 71.7%,#305 72.8%,#204 74.3%,#204 99.8%)"></i><i style="background:linear-gradient(#101,#101 21.2%,#204 59.7%,#306 66.9%,#307 68%,#309 68.7%,#20a 69.5%,#11b 70.2%,#20a 71.2%,#308 72.2%,#306 73.2%,#204 74.7%,#204 99.8%)"></i><i style="background:linear-gradient(#101,#101 21.2%,#204 60.5%,#306 67.6%,#307 68.7%,#309 69.4%,#20a 70%,#11b 70.6%,#12b 71%,#20a 72.1%,#308 72.8%,#306 73.6%,#204 75.1%,#204 99.8%)"></i><i style="background:linear-gradient(#101,#101 21.2%,#204 60.9%,#306 68.4%,#307 69.5%,#309 70.1%,#20a 70.7%,#12c 71.3%,#12c 71.7%,#21b 72.4%,#309 73%,#308 73.7%,#305 74.3%,#204 75.5%,#204 99.8%)"></i><i style="background:linear-gradient(#101,#101 21.2%,#204 61.6%,#306 69.5%,#308 70.6%,#20a 71.1%,#11b 71.6%,#12c 72.1%,#21b 73.2%,#209 73.7%,#308 74.2%,#306 74.7%,#204 75.8%,#204 99.8%)"></i><i style="background:linear-gradient(#101,#101 21.2%,#204 62.4%,#306 70.2%,#308 71.3%,#20a 71.8%,#11b 72.3%,#03c 72.8%,#11b 73.6%,#20a 74.2%,#308 74.8%,#305 75.5%,#204 76.6%,#204 99.8%)"></i><i style="background:linear-gradient(#101,#101 21.2%,#204 63.1%,#306 71%,#308 72.1%,#209 72.5%,#21b 72.8%,#12c 73.2%,#03c 73.6%,#11b 74.3%,#20a 74.8%,#308 75.3%,#306 75.8%,#204 77%,#204 99.8%)"></i><i style="background:linear-gradient(#101,#204 63.5%,#306 71.7%,#307 72.5%,#309 72.8%,#20a 73.2%,#12b 73.6%,#03c 74%,#03c 74.3%,#12c 74.7%,#21b 75.1%,#309 75.5%,#308 75.8%,#306 76.2%,#204 77.3%,#203 99.8%)"></i><i style="background:linear-gradient(#101,#204 63.9%,#306 72.1%,#308 72.8%,#309 73.2%,#21b 73.6%,#12c 74%,#04c 74.3%,#12c 75.1%,#20a 75.5%,#309 75.8%,#307 76.2%,#305 76.6%,#204 77.7%,#203 99.8%)"></i><i style="background:linear-gradient(#101,#204 64.2%,#306 72.5%,#308 73.2%,#209 73.6%,#21b 74%,#12c 74.3%,#04c 74.7%,#13c 75.1%,#11b 75.5%,#20a 75.8%,#308 76.2%,#306 76.6%,#204 77.7%,#203 99.8%)"></i><i style="background:linear-gradient(#101,#204 64.6%,#306 72.8%,#308 73.6%,#20a 74%,#11b 74.3%,#03c 74.7%,#05d 75.1%,#12c 75.6%,#20a 76%,#308 76.5%,#306 77%,#204 78.1%,#203 99.8%)"></i><i style="background:linear-gradient(#101,#204 65%,#306 72.8%,#307 73.6%,#309 74%,#20a 74.3%,#12c 74.7%,#04c 75.1%,#04c 75.5%,#12c 75.9%,#20a 76.4%,#308 76.9%,#306 77.3%,#204 78.5%,#203 99.8%)"></i><i style="background:linear-gradient(#101,#204 65.4%,#306 73.2%,#307 73.8%,#309 74.3%,#20a 74.7%,#12c 75.1%,#04c 75.5%,#04c 75.8%,#12c 76.3%,#20a 76.8%,#308 77.2%,#305 77.7%,#204 78.8%,#203 99.8%)"></i><i style="background:linear-gradient(#101,#204 65.7%,#306 73.6%,#307 74.3%,#309 74.7%,#21b 75.1%,#12c 75.5%,#05d 75.8%,#12c 76.6%,#21b 77%,#309 77.3%,#307 77.7%,#204 78.8%,#203 99.8%)"></i><i style="background:linear-gradient(#101,#203 65.7%,#306 74%,#308 74.7%,#20a 75.1%,#11b 75.5%,#13c 75.8%,#05d 76.2%,#03c 76.6%,#12c 77%,#20a 77.3%,#309 77.7%,#306 78.1%,#204 79.2%,#203 99.8%)"></i><i style="background:linear-gradient(#101,#203 66.1%,#306 74.3%,#308 75.1%,#20a 75.5%,#11b 75.8%,#04c 76.2%,#06d 76.6%,#03c 77%,#11b 77.3%,#20a 77.7%,#308 78.1%,#306 78.5%,#204 79.6%,#203 99.8%)"></i><i style="background:linear-gradient(#101,#203 66.5%,#306 74.7%,#308 75.5%,#20a 75.8%,#12c 76.2%,#04c 76.6%,#05d 77%,#03c 77.3%,#11b 77.7%,#20a 78.1%,#308 78.5%,#306 78.8%,#203 80%,#203 99.8%)"></i><i style="background:linear-gradient(#101,#203 66.9%,#306 74.7%,#307 75.5%,#309 75.8%,#21b 76.2%,#12c 76.6%,#05d 77%,#05d 77.3%,#12c 77.7%,#21b 78.1%,#309 78.5%,#307 78.8%,#305 79.4%,#204 80%,#203 99.8%)"></i><i style="background:linear-gradient(#101,#203 67.2%,#306 75.1%,#307 75.8%,#209 76.2%,#11b 76.6%,#03c 77%,#06d 77.3%,#13c 78.1%,#21b 78.5%,#309 78.8%,#307 79.2%,#204 80.3%,#203 99.8%)"></i><i style="background:linear-gradient(#101,#203 67.6%,#306 75.5%,#308 76.2%,#20a 76.6%,#11b 77%,#03c 77.3%,#06c 77.7%,#04c 78.1%,#12c 78.5%,#21a 78.8%,#309 79.2%,#306 79.6%,#204 80.7%,#203 99.8%)"></i><i style="background:linear-gradient(#101,#203 68%,#306 75.8%,#308 76.6%,#20a 76.9%,#11b 77.2%,#12c 77.4%,#04c 77.7%,#06c 78.1%,#04c 78.5%,#11b 78.8%,#20a 79.2%,#308 79.6%,#306 80%,#203 81.1%,#203 99.8%)"></i><i style="background:linear-gradient(#101,#203 68.4%,#306 76.2%,#308 77%,#20a 77.2%,#11b 77.5%,#03c 77.8%,#05d 78.1%,#06d 78.5%,#04c 78.8%,#12c 79.1%,#20a 79.4%,#309 79.7%,#307 80%,#305 80.3%,#204 81.1%,#203 99.8%)"></i><i style="background:linear-gradient(#101,#203 68.7%,#306 76.6%,#308 77%,#309 77.3%,#20a 77.6%,#11b 77.9%,#03c 78.2%,#06d 78.5%,#05d 78.8%,#03c 79.2%,#11b 79.5%,#20a 79.8%,#309 80.1%,#307 80.3%,#305 80.9%,#204 81.5%,#203 99.8%)"></i><i style="background:linear-gradient(#101,#203 69.1%,#306 76.6%,#308 77.3%,#20a 77.7%,#11b 78.1%,#03c 78.5%,#06c 78.8%,#04c 79.2%,#12c 79.6%,#11b 79.9%,#20a 80.1%,#308 80.4%,#306 80.7%,#204 81.8%,#203 99.8%)"></i><i style="background:linear-gradient(#101,#203 69.1%,#306 77%,#308 77.7%,#20a 78%,#11b 78.3%,#12c 78.6%,#04c 78.8%,#06c 79.2%,#03c 79.6%,#12c 80%,#20a 80.2%,#309 80.5%,#308 80.7%,#306 81.1%,#203 82.2%,#203 99.8%)"></i><i style="background:linear-gradient(#101,#203 69.5%,#306 77.3%,#308 78.1%,#20a 78.4%,#11b 78.7%,#03c 78.9%,#05d 79.2%,#05d 79.6%,#03c 80%,#11b 80.2%,#20a 80.5%,#309 80.8%,#307 81.1%,#305 81.6%,#204 82.2%,#203 99.8%)"></i><i style="background:linear-gradient(#101,#203 69.9%,#306 77.7%,#308 78.1%,#309 78.5%,#20a 78.7%,#11b 79%,#03c 79.3%,#06d 79.6%,#13c 80.3%,#11b 80.6%,#20a 80.9%,#308 81.2%,#306 81.5%,#204 82.6%,#203 99.8%)"></i><i style="background:linear-gradient(#101,#203 70.2%,#306 77.7%,#307 78.5%,#209 78.8%,#11b 79.2%,#03c 79.6%,#06c 80%,#04c 80.3%,#12c 80.7%,#20a 81.1%,#308 81.5%,#306 81.8%,#203 83%,#203 99.8%)"></i><i style="background:linear-gradient(#101,#203 70.6%,#306 78.1%,#308 78.8%,#209 79.1%,#11b 79.4%,#12c 79.7%,#04c 80%,#06d 80.3%,#03c 80.7%,#11b 81.1%,#20a 81.3%,#309 81.6%,#307 81.8%,#305 82.2%,#204 83%,#203 99.8%)"></i><i style="background:linear-gradient(#101,#203 71%,#306 78.5%,#308 79.2%,#20a 79.5%,#11b 79.8%,#13c 80.1%,#05d 80.3%,#05d 80.7%,#12c 81.1%,#21b 81.5%,#309 81.8%,#307 82.2%,#305 82.8%,#204 83.3%,#203 99.8%)"></i><i style="background:linear-gradient(#101,#203 71.3%,#306 78.8%,#307 79.2%,#309 79.6%,#20a 79.9%,#11b 80.1%,#03c 80.4%,#06d 80.7%,#04c 81.1%,#12c 81.5%,#11b 81.7%,#20a 82%,#308 82.3%,#306 82.6%,#204 83.7%,#203 99.8%)"></i><i style="background:linear-gradient(#101,#203 71.7%,#306 78.8%,#307 79.6%,#209 80%,#11b 80.3%,#03c 80.7%,#06d 81.1%,#03c 81.5%,#12c 81.8%,#20a 82.2%,#308 82.6%,#306 83%,#204 83.7%,#203 99.8%)"></i><i style="background:linear-gradient(#101,#203 72.1%,#306 79.2%,#308 80%,#209 80.2%,#11b 80.5%,#12c 80.8%,#04c 81.1%,#06d 81.5%,#13c 81.8%,#11b 82.2%,#309 82.6%,#307 83%,#305 83.3%,#204 84.1%,#203 99.8%)"></i><i style="background:linear-gradient(#101,#203 72.1%,#306 79.6%,#308 80.3%,#20a 80.6%,#11b 80.9%,#13c 81.2%,#05d 81.5%,#05d 81.8%,#13c 82.2%,#11b 82.5%,#20a 82.8%,#308 83.1%,#306 83.3%,#204 84.5%,#203 99.8%)"></i><i style="background:linear-gradient(#101,#203 72.5%,#306 80%,#307 80.3%,#309 80.7%,#20a 81%,#11b 81.3%,#03c 81.6%,#05d 81.8%,#03c 82.2%,#12c 82.6%,#21b 82.9%,#209 83.1%,#308 83.4%,#306 83.7%,#204 84.5%,#203 99.8%)"></i><i style="background:linear-gradient(#101,#203 72.8%,#306 80%,#307 80.7%,#309 81%,#20a 81.3%,#12c 81.6%,#04c 81.8%,#06d 82.2%,#03c 82.6%,#11b 83%,#20a 83.2%,#309 83.5%,#307 83.7%,#305 84.1%,#204 84.8%,#203 99.8%)"></i><i style="background:linear-gradient(#101,#203 73.2%,#306 80.3%,#308 81.1%,#209 81.4%,#11b 81.6%,#12c 81.9%,#04c 82.2%,#05d 82.6%,#03c 83%,#11b 83.2%,#20a 83.5%,#308 83.8%,#307 84.1%,#204 85.2%,#203 99.8%)"></i><i style="background:linear-gradient(#101,#203 73.6%,#306 80.7%,#307 81.1%,#308 81.5%,#20a 81.7%,#11b 82%,#03c 82.3%,#05d 82.6%,#03c 83%,#12c 83.3%,#21b 83.6%,#209 83.9%,#308 84.2%,#306 84.5%,#204 85.2%,#203 99.8%)"></i><i style="background:linear-gradient(#101,#203 74%,#305 80.7%,#307 81.5%,#309 81.7%,#20a 82%,#12b 82.3%,#03c 82.6%,#06d 83%,#03c 83.3%,#11b 83.7%,#20a 84%,#309 84.2%,#307 84.5%,#305 84.8%,#204 85.6%,#203 99.8%)"></i><i style="background:linear-gradient(#101,#203 74.3%,#306 81.1%,#308 81.8%,#209 82.1%,#21b 82.4%,#12c 82.7%,#04c 83%,#05d 83.3%,#03c 83.7%,#11b 84%,#20a 84.3%,#308 84.6%,#306 84.8%,#204 86%,#203 99.8%)"></i><i style="background:linear-gradient(#101,#203 74.7%,#306 81.5%,#307 81.8%,#308 82.2%,#20a 82.5%,#11b 82.8%,#13c 83.1%,#05d 83.3%,#03c 83.7%,#12c 84.1%,#21b 84.4%,#209 84.6%,#308 84.9%,#306 85.2%,#204 86%,#203 99.8%)"></i><i style="background:linear-gradient(#101,#203 74.7%,#306 81.8%,#308 82.2%,#309 82.6%,#20a 82.8%,#11b 83.1%,#03c 83.3%,#05d 83.7%,#03c 84.1%,#11b 84.5%,#20a 84.7%,#309 85%,#307 85.2%,#305 85.6%,#204 86.3%,#203 99.8%)"></i><i style="background:linear-gradient(#101,#203 75.1%,#306 81.8%,#308 82.6%,#309 82.9%,#21b 83.1%,#12c 83.4%,#04c 83.7%,#05d 84.1%,#13c 84.5%,#11b 84.7%,#20a 85%,#308 85.3%,#306 85.6%,#204 86.7%,#203 99.8%)"></i><i style="background:linear-gradient(#101,#203 75.5%,#306 82.2%,#308 83%,#20a 83.2%,#11b 83.5%,#12c 83.8%,#05d 84.1%,#03c 84.5%,#12c 84.8%,#20a 85.2%,#308 85.6%,#306 86%,#204 86.7%,#203 99.8%)"></i><i style="background:linear-gradient(#101,#203 75.8%,#306 82.6%,#307 83%,#309 83.3%,#20a 83.6%,#11b 83.8%,#03c 84.1%,#05d 84.5%,#13c 84.8%,#11b 85.2%,#20a 85.5%,#309 85.7%,#307 86%,#305 86.3%,#204 87.1%,#203 99.8%)"></i><i style="background:linear-gradient(#101,#203 76.2%,#305 82.6%,#307 83.3%,#209 83.7%,#11b 84.1%,#03c 84.5%,#04c 84.8%,#12b 85.2%,#20a 85.6%,#308 86%,#306 86.3%,#204 87.1%,#203 99.8%)"></i><i style="background:linear-gradient(#101,#203 76.6%,#306 83%,#308 83.7%,#20a 84.1%,#11b 84.5%,#04c 84.8%,#11b 85.6%,#20a 86%,#308 86.3%,#305 86.7%,#204 87.5%,#203 99.8%)"></i><i style="background:linear-gradient(#101,#203 77%,#306 83.3%,#307 83.7%,#308 84.1%,#20a 84.3%,#11b 84.6%,#12c 84.8%,#04c 85.2%,#12c 85.6%,#21b 86%,#309 86.3%,#307 86.7%,#204 87.8%,#203 99.8%)"></i><i style="background:linear-gradient(#101,#203 77.3%,#305 83.3%,#307 84.1%,#309 84.5%,#21b 84.8%,#13c 85.2%,#03c 85.6%,#11b 86%,#20a 86.3%,#308 86.7%,#306 87.1%,#204 87.8%,#203 99.8%)"></i><i style="background:linear-gradient(#101,#203 77.7%,#305 83.7%,#308 84.5%,#209 84.8%,#11b 85.2%,#03c 85.6%,#11b 86.3%,#209 86.7%,#308 87.1%,#305 87.5%,#204 88.2%,#203 99.8%)"></i><i style="background:linear-gradient(#101,#203 78.1%,#306 84.1%,#308 84.8%,#20a 85.2%,#11b 85.6%,#03c 86%,#11b 86.3%,#20a 86.7%,#308 87.1%,#306 87.5%,#204 88.6%,#203 99.8%)"></i><i style="background:linear-gradient(#101,#203 78.5%,#305 84.1%,#307 84.8%,#309 85.2%,#20a 85.6%,#12c 86%,#12c 86.3%,#21b 86.7%,#209 87.1%,#308 87.5%,#306 87.8%,#204 88.6%,#203 99.8%)"></i><i style="background:linear-gradient(#101,#203 78.8%,#305 84.5%,#307 85.2%,#309 85.6%,#21b 86%,#12c 86.3%,#21a 87.1%,#309 87.5%,#307 87.8%,#305 88.2%,#204 89%,#203 99.8%)"></i><i style="background:linear-gradient(#101,#203 79.2%,#305 84.8%,#308 85.6%,#309 86%,#21b 86.3%,#12c 86.7%,#20a 87.2%,#309 87.7%,#306 88.2%,#204 89%,#203 99.8%)"></i><i style="background:linear-gradient(#101,#203 79.6%,#305 85.2%,#308 86%,#20a 86.3%,#11b 86.7%,#12c 87.1%,#20a 87.6%,#308 88.1%,#306 88.6%,#204 89.3%,#203 99.8%)"></i><i style="background:linear-gradient(#101,#203 80%,#305 85.2%,#307 86%,#309 86.3%,#20a 86.7%,#11b 87.1%,#20a 87.8%,#309 88.2%,#307 88.6%,#305 89%,#204 89.7%,#203 99.8%)"></i><i style="background:linear-gradient(#101,#203 80.3%,#305 85.6%,#307 86.3%,#309 86.7%,#20a 87.1%,#11b 87.5%,#21b 87.8%,#20a 88.2%,#308 88.6%,#306 89%,#204 89.7%,#203 99.8%)"></i><i style="background:linear-gradient(#101,#203 80.7%,#305 86%,#307 86.7%,#309 87.1%,#21b 87.5%,#11b 87.8%,#20a 88.3%,#308 88.8%,#306 89.3%,#204 90.1%,#203 99.8%)"></i><i style="background:linear-gradient(#101,#203 81.1%,#305 86.3%,#308 87.1%,#20a 87.5%,#11b 87.8%,#11b 88.2%,#209 88.7%,#307 89.2%,#305 89.7%,#204 90.4%,#203 99.8%)"></i><i style="background:linear-gradient(#101,#203 81.5%,#305 86.3%,#307 87.1%,#308 87.5%,#20a 87.8%,#11b 88.2%,#20a 89%,#308 89.3%,#306 89.7%,#204 90.4%,#203 99.8%)"></i><i style="background:linear-gradient(#101,#203 81.8%,#305 86.7%,#307 87.5%,#309 88%,#11b 88.6%,#20a 89.1%,#308 89.6%,#305 90.1%,#204 90.8%,#203 99.8%)"></i><i style="background:linear-gradient(#101,#203 81.8%,#305 87.1%,#308 87.8%,#309 88.2%,#20a 88.6%,#21b 89%,#309 89.5%,#307 90%,#305 90.4%,#204 91.2%,#203 99.8%)"></i><i style="background:linear-gradient(#101,#203 82.2%,#305 87.1%,#307 87.8%,#309 88.4%,#21b 89%,#309 89.5%,#308 90%,#306 90.4%,#204 91.2%,#203 99.8%)"></i><i style="background:linear-gradient(#101,#203 82.6%,#305 87.5%,#307 88.1%,#309 88.7%,#21a 89.3%,#309 89.8%,#307 90.3%,#305 90.8%,#204 91.6%,#203 99.8%)"></i><i style="background:linear-gradient(#101,#203 83%,#305 87.8%,#307 88.3%,#309 88.8%,#20a 89.3%,#309 90.1%,#307 90.4%,#306 90.8%,#204 91.6%,#203 99.8%)"></i><i style="background:linear-gradient(#101,#203 83.3%,#305 87.8%,#307 88.6%,#309 89.1%,#20a 89.7%,#309 90.2%,#307 90.7%,#305 91.2%,#204 91.9%,#203 99.8%)"></i><i style="background:linear-gradient(#101,#203 83.7%,#305 88.2%,#307 88.7%,#309 89.2%,#20a 89.7%,#20a 90.1%,#308 90.6%,#306 91.2%,#204 91.9%,#203 99.8%)"></i><i style="background:linear-gradient(#101,#203 84.1%,#305 88.2%,#306 89%,#308 89.5%,#20a 90.1%,#309 90.6%,#307 91.1%,#305 91.6%,#204 92.3%,#203 99.8%)"></i><i style="background:linear-gradient(#101,#203 84.5%,#305 88.6%,#307 89.3%,#308 89.7%,#209 90.1%,#20a 90.4%,#308 91%,#306 91.6%,#204 92.3%,#203 99.8%)"></i><i style="background:linear-gradient(#101,#203 84.5%,#305 89%,#308 89.7%,#20a 90.4%,#308 91.2%,#305 91.9%,#204 92.7%,#203 99.8%)"></i><i style="background:linear-gradient(#101,#203 84.8%,#305 89%,#307 89.9%,#309 90.8%,#308 91.4%,#306 92.1%,#204 92.7%,#203 99.8%)"></i><i style="background:linear-gradient(#101,#203 85.6%,#305 89.3%,#307 90.1%,#309 90.8%,#307 91.9%,#204 93.1%,#203 99.8%)"></i><i style="background:linear-gradient(#101,#203 86%,#305 89.7%,#307 90.4%,#309 91.2%,#307 91.9%,#305 92.7%,#203 93.4%,#203 99.8%)"></i><i style="background:linear-gradient(#101,#203 86.3%,#204 89.7%,#306 90.6%,#308 91.6%,#306 92.5%,#204 93.4%,#203 99.8%)"></i><i style="background:linear-gradient(#101,#203 86.7%,#204 90.1%,#306 90.8%,#308 91.6%,#306 92.7%,#203 93.8%,#203 99.8%)"></i><i style="background:linear-gradient(#101,#203 87.1%,#204 90.1%,#306 91%,#308 91.9%,#306 92.9%,#204 93.8%,#203 99.8%)"></i><i style="background:linear-gradient(#101,#203 87.5%,#204 90.4%,#306 91.2%,#307 91.9%,#305 93.1%,#203 94.2%,#203 99.8%)"></i><i style="background:linear-gradient(#101,#203 87.8%,#204 90.8%,#307 92.3%,#305 93.4%,#203 94.6%,#203 99.8%)"></i><i style="background:linear-gradient(#101,#203 88.2%,#204 90.8%,#306 92.7%,#203 94.6%,#203 99.8%)"></i><i style="background:linear-gradient(#101,#203 88.6%,#204 91.2%,#306 92.7%,#203 94.9%,#203 99.8%)"></i><i style="background:linear-gradient(#101,#203 89.3%,#204 91.6%,#306 93.1%,#203 94.9%,#203 99.8%)"></i><i style="background:linear-gradient(#101,#203 89.7%,#305 93.1%,#203 95.3%,#203 99.8%)"></i><i style="background:linear-gradient(#101,#203 90.1%,#305 93.4%,#203 95.3%,#203 99.8%)"></i><i style="background:linear-gradient(#101,#203 90.4%,#204 93.8%,#203 99.8%)"></i><i style="background:linear-gradient(#101,#203 54.9%,#203 99.8%)"></i><i style="background:linear-gradient(#102,#204 99.8%)"></i><i style="background:linear-gradient(#305,#305 99.8%)"></i><i style="background:linear-gradient(#307,#308 32%,#307 54.9%,#307 99.8%)"></i><i style="background:linear-gradient(#308,#309 32%,#307 65.7%,#307 99.8%)"></i><i style="background:linear-gradient(#309,#20a 32%,#308 65.7%,#308 99.8%)"></i><i style="background:linear-gradient(#309,#20a 32.4%,#308 66.1%,#309 99.8%)"></i><i style="background:linear-gradient(#309,#20a 32.4%,#308 66.1%,#308 99.8%)"></i><i style="background:linear-gradient(#308,#309 43.3%,#307 66.1%,#308 99.8%)"></i><i style="background:linear-gradient(#307,#309 43.6%,#309 54.5%,#307 73.6%,#307 99.8%)"></i><i style="background:linear-gradient(#306,#308 27.3%,#309 54.5%,#307 73.6%,#307 99.8%)"></i><i style="background:linear-gradient(#309,#20a 54.5%,#309 90.1%,#20a 99.8%)"></i><i style="background:linear-gradient(#20a,#20a 90.1%,#11b 99.8%)"></i><i style="background:linear-gradient(#20a,#21b 32.4%,#20a 90.1%,#11b 99.8%)"></i><i style="background:linear-gradient(#20a,#11b 32.4%,#20a 90.1%,#12c 99.8%)"></i><i style="background:linear-gradient(#20a,#11b 43.6%,#20a 90.1%,#11b 99.8%)"></i><i style="background:linear-gradient(#20a,#21b 43.6%,#20a 85.6%,#21b 99.8%)"></i><i style="background:linear-gradient(#309,#20a 43.6%,#20a 99.8%)"></i><i style="background:linear-gradient(#306,#307 54.5%,#307 99.8%)"></i><i style="background:linear-gradient(#101,#203 54.9%,#203 99.8%)"></i><i style="background:linear-gradient(#101,#203 54.9%,#203 99.8%)"></i><i style="background:linear-gradient(#101,#203 54.9%,#203 99.8%)"></i><i style="background:linear-gradient(#101,#203 54.9%,#203 99.8%)"></i><i style="background:linear-gradient(#101,#203 54.9%,#203 99.8%)"></i><i style="background:linear-gradient(#101,#203 54.9%,#203 99.8%)"></i><i style="background:linear-gradient(#101,#203 54.9%,#203 99.8%)"></i><i style="background:linear-gradient(#101,#203 54.9%,#203 99.8%)"></i><i style="background:linear-gradient(#101,#203 54.9%,#203 99.8%)"></i><i style="background:linear-gradient(#101,#203 54.9%,#203 99.8%)"></i><i style="background:linear-gradient(#101,#203 54.9%,#203 99.8%)"></i><i style="background:linear-gradient(#101,#203 54.9%,#203 99.8%)"></i><i style="background:linear-gradient(#101,#203 54.9%,#203 99.8%)"></i><i style="background:linear-gradient(#101,#203 54.9%,#203 99.8%)"></i><i style="background:linear-gradient(#101,#203 54.9%,#203 99.8%)"></i><i style="background:linear-gradient(#101,#203 54.9%,#203 99.8%)"></i><i style="background:linear-gradient(#101,#203 54.9%,#203 99.8%)"></i><i style="background:linear-gradient(#101,#203 54.9%,#203 99.8%)"></i><i style="background:linear-gradient(#101,#203 54.9%,#203 99.8%)"></i><i style="background:linear-gradient(#101,#203 54.9%,#203 99.8%)"></i><i style="background:linear-gradient(#101,#203 54.9%,#203 99.8%)"></i><i style="background:linear-gradient(#101,#203 54.9%,#203 99.8%)"></i><i style="background:linear-gradient(#101,#203 54.9%,#203 99.8%)"></i><i style="background:linear-gradient(#101,#203 54.9%,#203 99.8%)"></i><i style="background:linear-gradient(#101,#203 54.9%,#203 99.8%)"></i><i style="background:linear-gradient(#101,#203 54.9%,#203 99.8%)"></i><i style="background:linear-gradient(#101,#203 54.9%,#203 99.8%)"></i><i style="background:linear-gradient(#101,#203 54.9%,#203 99.8%)"></i><i style="background:linear-gradient(#101,#203 54.9%,#203 99.8%)"></i><i style="background:linear-gradient(#101,#203 54.9%,#203 99.8%)"></i><i style="background:linear-gradient(#101,#203 54.9%,#203 99.8%)"></i><i style="background:linear-gradient(#101,#203 54.9%,#203 99.8%)"></i><i style="background:linear-gradient(#101,#203 99.8%)"></i><i style="background:linear-gradient(#101,#203 99.8%)"></i><i style="background:linear-gradient(#101,#203 99.8%)"></i><i style="background:linear-gradient(#101,#203 99.8%)"></i><i style="background:linear-gradient(#101,#203 99.8%)"></i><i style="background:linear-gradient(#101,#203 99.8%)"></i><i style="background:linear-gradient(#101,#203 99.8%)"></i><i style="background:linear-gradient(#101,#203 99.8%)"></i><i style="background:linear-gradient(#101,#203 99.8%)"></i><i style="background:linear-gradient(#101,#203 99.8%)"></i><i style="background:linear-gradient(#101,#203 99.8%)"></i><i style="background:linear-gradient(#101,#202 99.8%)"></i><i style="background:linear-gradient(#101,#202 99.8%)"></i><i style="background:linear-gradient(#101,#202 99.8%)"></i><i style="background:linear-gradient(#101,#202 99.8%)"></i><i style="background:linear-gradient(#101,#202 99.8%)"></i><i style="background:linear-gradient(#101,#202 99.8%)"></i><i style="background:linear-gradient(#101,#202 99.8%)"></i><i style="background:linear-gradient(#101,#202 99.8%)"></i><i style="background:linear-gradient(#101,#202 99.8%)"></i><i style="background:linear-gradient(#101,#202 99.8%)"></i><i style="background:linear-gradient(#101,#203 99.8%)"></i><i style="background:linear-gradient(#204,#204 99.8%)"></i><i style="background:linear-gradient(#305,#204 99.8%)"></i><i style="background:linear-gradient(#305,#204 99.8%)"></i><i style="background:linear-gradient(#305,#305 82.6%,#204 99.8%)"></i><i style="background:linear-gradient(#305,#305 82.6%,#204 87.8%,#204 99.8%)"></i><i style="background:linear-gradient(#305,#305 82.6%,#204 87.8%,#204 99.8%)"></i><i style="background:linear-gradient(#305,#305 82.6%,#203 87.8%,#203 99.8%)"></i><i style="background:linear-gradient(#305,#305 82.6%,#203 87.8%,#203 99.8%)"></i><i style="background:linear-gradient(#305,#305 82.6%,#203 87.8%,#203 99.8%)"></i><i style="background:linear-gradient(#305,#305 79.2%,#203 87.8%,#203 99.8%)"></i><i style="background:linear-gradient(#204,#305 78.8%,#204 82.6%,#101 87.8%,#101 99.8%)"></i><i style="background:linear-gradient(#202,#305 78.8%,#204 82.6%,#102 85.2%,#001 87.8%,#001 99.8%)"></i><i style="background:linear-gradient(#202,#202 20.8%,#204 49.8%,#306 78.8%,#305 82.6%,#102 85.2%,#000 87.8%,#000 99.8%)"></i><i style="background:linear-gradient(#202,#202 20.8%,#204 49.8%,#306 78.8%,#305 82.6%,#203 84.1%,#101 85.6%,#000 87.8%,#000 99.8%)"></i><i style="background:linear-gradient(#202,#202 21.2%,#305 50%,#307 78.8%,#306 82.6%,#203 83.9%,#101 85.2%,#000 87.5%,#000 99.8%)"></i><i style="background:linear-gradient(#202,#202 21.2%,#305 50%,#307 78.8%,#306 82.6%,#204 83.9%,#101 85.2%,#000 87.5%,#000 99.8%)"></i><i style="background:linear-gradient(#202,#202 21.2%,#306 50%,#308 78.8%,#307 82.6%,#204 84.1%,#101 85.6%,#000 87.8%,#000 99.8%)"></i><i style="background:linear-gradient(#203,#203 21.2%,#305 40.4%,#307 59.6%,#309 78.8%,#308 82.6%,#306 84.3%,#203 86.1%,#001 87.8%,#000 99.8%)"></i><i style="background:linear-gradient(#203,#203 21.2%,#306 40.4%,#308 59.6%,#20a 78.8%,#309 83%,#308 84.2%,#306 85.4%,#203 86.6%,#101 87.8%,#000 90.4%,#000 99.8%)"></i><i style="background:linear-gradient(#203,#203 21.2%,#306 35.7%,#308 50.2%,#209 64.7%,#21b 79.2%,#20a 83%,#309 84.1%,#308 85.2%,#306 86.1%,#204 87%,#102 87.8%,#001 90.1%,#000 99.8%)"></i><i style="background:linear-gradient(#203,#305 32%,#307 44.7%,#309 57.3%,#20a 69.9%,#12c 82.6%,#21b 83.9%,#209 85.2%,#308 86.1%,#305 87%,#202 87.8%,#001 90.1%,#000 99.8%)"></i><i style="background:linear-gradient(#203,#306 32%,#308 44.7%,#20a 57.3%,#11b 69.9%,#03c 82.6%,#11b 83.9%,#21a 85.2%,#309 86.1%,#307 87%,#204 87.8%,#101 90.1%,#000 99.8%)"></i><i style="background:linear-gradient(#204,#306 32%,#308 44.7%,#20a 57.3%,#11b 69.9%,#03c 82.6%,#11b 85.2%,#20a 86.1%,#308 87%,#306 87.8%,#204 89.1%,#202 90.4%,#101 94.2%,#000 99.8%)"></i><i style="background:linear-gradient(#305,#307 32%,#309 44.7%,#20a 57.3%,#11b 69.9%,#03c 82.6%,#12c 85.2%,#20a 86.5%,#308 87.8%,#306 89.1%,#305 90.4%,#203 92.3%,#101 94.2%,#101 99.8%)"></i><i style="background:linear-gradient(#306,#307 32%,#309 43.4%,#20a 54.9%,#11b 68.7%,#04c 82.6%,#12c 85.6%,#21b 87.1%,#309 88.6%,#307 90.1%,#305 91.9%,#202 93.8%,#101 99.8%)"></i><i style="background:linear-gradient(#306,#308 32.4%,#20a 54.9%,#12b 68.9%,#04c 83%,#03c 85.6%,#11b 87.2%,#20a 88.9%,#308 90.5%,#306 92.2%,#204 93.8%,#101 99.8%)"></i><i style="background:linear-gradient(#307,#308 32%,#20a 49.8%,#12c 67.5%,#04c 85.2%,#12c 87.8%,#21b 89.3%,#309 90.8%,#307 92.3%,#305 93.8%,#102 99.8%)"></i><i style="background:linear-gradient(#307,#309 32.4%,#20a 50%,#12c 67.6%,#04c 85.2%,#12c 87.8%,#21b 89.8%,#309 91.8%,#307 93.8%,#305 99.8%)"></i><i style="background:linear-gradient(#308,#309 32.4%,#21b 50%,#12c 67.6%,#04c 85.2%,#03c 87.8%,#11b 90%,#20a 92.1%,#308 94.2%,#307 99.8%)"></i><i style="background:linear-gradient(#308,#209 32.4%,#21b 49.3%,#12c 66.1%,#05d 83%,#05c 85.6%,#12c 88.5%,#11b 91.3%,#20a 94.2%,#309 99.8%)"></i><i style="background:linear-gradient(#309,#20a 32.4%,#11b 49.3%,#12c 66.1%,#05d 83%,#05d 85.6%,#13c 89.9%,#11b 94.2%,#20a 99.8%)"></i><i style="background:linear-gradient(#309,#20a 32.4%,#11b 49.3%,#13c 66.1%,#05d 83%,#03c 91.4%,#11b 99.8%)"></i><i style="background:linear-gradient(#309,#20a 32%,#11b 49%,#03c 66%,#05d 83%,#03c 91.4%,#11b 99.8%)"></i><i style="background:linear-gradient(#309,#20a 32%,#11b 48.9%,#03c 65.7%,#06d 82.6%,#03c 91.2%,#11b 99.8%)"></i><i style="background:linear-gradient(#309,#20a 32%,#11b 48.9%,#03c 65.7%,#06d 82.6%,#03c 91.2%,#11b 99.8%)"></i><i style="background:linear-gradient(#309,#20a 21.2%,#11b 41.6%,#03c 62.1%,#06c 82.6%,#04c 88.3%,#12c 94.1%,#21b 99.8%)"></i><i style="background:linear-gradient(#309,#20a 21.2%,#11b 40.5%,#03c 59.9%,#06c 79.2%,#05d 87.5%,#12c 93.6%,#21b 99.8%)"></i><i style="background:linear-gradient(#309,#209 20.8%,#21b 40.1%,#12c 59.5%,#04c 78.8%,#13c 82.2%,#11b 85.6%,#20a 92.7%,#309 99.8%)"></i><i style="background:linear-gradient(#307,#309 16.3%,#20a 32.4%,#11b 53%,#12c 73.6%,#12c 79.2%,#20a 81.3%,#309 83.5%,#307 85.6%,#306 99.8%)"></i><i style="background:linear-gradient(#306,#307 9.9%,#309 21%,#20a 32%,#20a 54.5%,#11b 73.6%,#21b 79.2%,#209 80.9%,#308 82.6%,#305 84.1%,#203 85.6%,#202 99.8%)"></i><i style="background:linear-gradient(#307,#309 16.1%,#20a 32%,#20a 54.5%,#11b 73.6%,#21b 79.2%,#209 80.9%,#308 82.6%,#305 84.1%,#202 85.6%,#101 87.8%,#202 99.8%)"></i><i style="background:linear-gradient(#307,#309 16.1%,#21b 32%,#20a 54.5%,#11b 73.6%,#21b 79.2%,#209 80.9%,#308 82.6%,#306 83.9%,#203 85.2%,#102 87.5%,#202 99.8%)"></i><i style="background:linear-gradient(#307,#309 16.1%,#11b 32%,#20a 54.5%,#11b 73.6%,#21b 79.2%,#209 80.9%,#308 82.6%,#306 84.1%,#203 85.6%,#102 87.5%,#202 99.8%)"></i><i style="background:linear-gradient(#307,#209 16.1%,#11b 32%,#20a 54.5%,#11b 73.6%,#21b 79.2%,#20a 80.9%,#308 82.6%,#306 84.1%,#203 85.6%,#102 87.5%,#202 99.8%)"></i><i style="background:linear-gradient(#307,#309 10.8%,#20a 21.4%,#11b 32%,#20a 54.5%,#11b 73.6%,#21b 79.2%,#20a 80.9%,#309 82.6%,#307 83.6%,#305 84.6%,#203 85.6%,#102 87.5%,#202 99.8%)"></i><i style="background:linear-gradient(#308,#309 10.8%,#20a 21.4%,#11b 32%,#20a 54.5%,#11b 73.6%,#21b 79.2%,#20a 80.9%,#309 82.6%,#306 84.1%,#203 85.6%,#102 87.5%,#102 99.8%)"></i><i style="background:linear-gradient(#308,#20a 16.1%,#12b 32%,#20a 54.5%,#11b 73.6%,#20a 79.2%,#209 80.9%,#308 82.6%,#306 84.1%,#203 85.6%,#102 87.5%,#102 99.8%)"></i><i style="background:linear-gradient(#308,#20a 16.1%,#12c 32%,#20a 54.5%,#21b 73.2%,#20a 79.2%,#309 80.9%,#308 82.6%,#306 84.1%,#203 85.6%,#102 87.5%,#102 99.8%)"></i><i style="background:linear-gradient(#309,#20a 16.1%,#12c 32%,#20a 54.5%,#21b 73.2%,#20a 79.2%,#309 80.9%,#308 82.6%,#306 84.1%,#203 85.6%,#102 87.5%,#102 99.8%)"></i><i style="background:linear-gradient(#309,#20a 16.1%,#12c 32%,#21b 54.5%,#21b 73.2%,#20a 79.2%,#309 80.9%,#307 82.6%,#305 84.1%,#203 85.6%,#102 87.5%,#102 99.8%)"></i><i style="background:linear-gradient(#309,#21b 16.3%,#12c 32.4%,#21b 54.5%,#20a 73.2%,#20a 79.2%,#307 82%,#305 84.7%,#102 87.5%,#102 99.8%)"></i><i style="background:linear-gradient(#209,#21b 16.3%,#12c 32.4%,#21b 66.1%,#209 78.8%,#308 81.1%,#306 83.3%,#203 85.6%,#101 87.8%,#101 99.8%)"></i><i style="background:linear-gradient(#309,#21b 16.3%,#12c 32.4%,#20a 66.1%,#309 78.8%,#307 81.8%,#204 84.8%,#101 87.8%,#101 99.8%)"></i><i style="background:linear-gradient(#309,#20a 16.3%,#11b 32.4%,#20a 65.7%,#308 78.8%,#307 81.7%,#204 84.6%,#102 87.5%,#101 99.8%)"></i><i style="background:linear-gradient(#309,#20a 16.3%,#11b 32.4%,#20a 52.8%,#309 73.2%,#308 79.2%,#306 82%,#204 84.7%,#102 87.5%,#101 99.8%)"></i><i style="background:linear-gradient(#309,#20a 20.8%,#11b 32.4%,#20a 52.8%,#309 73.2%,#307 79.2%,#305 83.3%,#102 87.5%,#101 99.8%)"></i><i style="background:linear-gradient(#309,#20a 20.8%,#11b 32.4%,#20a 49.3%,#309 66.1%,#307 78.8%,#204 83.1%,#102 87.5%,#101 99.8%)"></i><i style="background:linear-gradient(#309,#209 20.8%,#21b 32.4%,#309 52.8%,#308 73.2%,#306 78.8%,#204 83.3%,#101 87.8%,#102 99.8%)"></i><i style="background:linear-gradient(#309,#21b 32.4%,#309 52.8%,#308 73.2%,#306 78.1%,#204 83%,#101 87.8%,#102 99.8%)"></i><i style="background:linear-gradient(#20a,#20a 32.4%,#309 65.7%,#308 72.3%,#306 78.8%,#204 83.1%,#102 87.5%,#102 99.8%)"></i><i style="background:linear-gradient(#11b,#11b 32.4%,#20a 65.7%,#309 73.6%,#307 78.2%,#204 82.8%,#101 87.5%,#102 99.8%)"></i><i style="background:linear-gradient(#05d,#05d 54.5%,#04c 65.7%,#12c 69.5%,#11b 73.2%,#20a 75.1%,#308 77%,#306 78.8%,#305 80.9%,#203 83%,#101 87.8%,#101 99.8%)"></i><i style="background:linear-gradient(#07c,#06c 54.5%,#05d 65.7%,#03c 69.5%,#11b 73.2%,#20a 75.6%,#308 77.9%,#306 80.2%,#204 82.6%,#102 85.2%,#101 99.8%)"></i><i style="background:linear-gradient(#08c,#08c 32.4%,#06d 65.7%,#03c 69.7%,#12c 73.6%,#20a 76.2%,#309 78.8%,#307 80.9%,#204 83%,#102 85.6%,#101 99.8%)"></i><i style="background:linear-gradient(#09b,#09b 32.4%,#06c 65.7%,#05c 69.5%,#03c 73.2%,#11b 76%,#20a 78.8%,#308 80.7%,#306 82.6%,#203 85.6%,#101 99.8%)"></i><i style="background:linear-gradient(#09b,#09b 32.4%,#08c 65.7%,#05c 73.2%,#12c 76%,#11b 78.8%,#20a 80.4%,#308 82%,#306 83.6%,#204 85.2%,#102 87.5%,#101 99.8%)"></i><i style="background:linear-gradient(#09a,#09a 32.4%,#09b 49.3%,#08c 66.1%,#07c 73.2%,#04c 76%,#12c 78.8%,#21b 80.4%,#309 82%,#307 83.6%,#305 85.2%,#102 87.8%,#101 99.8%)"></i><i style="background:linear-gradient(#0a8,#0a9 32.4%,#09a 54.9%,#08c 73.2%,#06c 76.2%,#04c 79.2%,#12b 80.8%,#20a 82.4%,#308 84%,#306 85.6%,#203 87.8%,#102 99.8%)"></i><i style="background:linear-gradient(#0a7,#0a7 21.2%,#0a9 47.2%,#09a 73.2%,#08c 76.2%,#07c 79.2%,#04c 80.6%,#12c 82.1%,#20a 83.5%,#309 85%,#307 86.4%,#204 87.8%,#102 93.8%,#102 99.8%)"></i><i style="background:linear-gradient(#0a6,#0a6 21.2%,#0a7 47.2%,#0a9 73.2%,#09a 76.2%,#08c 79.2%,#06c 80.9%,#04c 82.6%,#12c 83.9%,#20a 85.2%,#309 86.5%,#307 87.8%,#305 90.8%,#204 93.8%,#203 99.8%)"></i><i style="background:linear-gradient(#0a5,#0a7 73.2%,#09a 79.2%,#08c 80.9%,#07c 82.6%,#04c 83.9%,#12c 85.2%,#21b 86.5%,#309 87.8%,#307 90.8%,#305 93.8%,#204 99.8%)"></i><i style="background:linear-gradient(#0a4,#0a6 73.2%,#0a9 79.2%,#09a 80.9%,#08c 82.6%,#07c 83.8%,#04c 85%,#12c 86.2%,#11b 87.5%,#309 90.6%,#307 93.8%,#305 99.8%)"></i><i style="background:linear-gradient(#0a3,#0a4 65.7%,#0a5 73.2%,#0a7 79.2%,#099 80.9%,#09b 82.6%,#07c 83.9%,#05c 85.2%,#03c 86.3%,#11b 87.5%,#20a 90.6%,#308 93.8%,#306 99.8%)"></i><i style="background:linear-gradient(#0a3,#0a2 65.7%,#0a3 73.2%,#0a6 79.2%,#0a8 80.9%,#09a 82.6%,#09b 83.6%,#07c 84.6%,#05d 85.6%,#12c 87.8%,#21b 90.8%,#309 93.8%,#307 99.8%)"></i><i style="background:linear-gradient(#0a2,#0b1 43.3%,#0a3 73.6%,#0a4 79.2%,#0a6 80.9%,#0a8 82.6%,#09a 83.6%,#08c 84.6%,#07c 85.6%,#05d 86.7%,#03c 87.8%,#11b 90.8%,#20a 93.8%,#308 99.8%)"></i><i style="background:linear-gradient(#0a2,#0b1 43.3%,#0a2 73.6%,#0a3 79.2%,#0a6 82.6%,#0a9 83.6%,#09a 84.6%,#08c 85.6%,#06d 87.8%,#03c 90.1%,#11b 92.1%,#20a 94.2%,#309 99.8%)"></i><i style="background:linear-gradient(#0b1,#0b1 21.7%,#0c0 43.3%,#0b1 73.6%,#0a2 78.8%,#0a5 82.6%,#0a8 84.2%,#09b 85.8%,#08c 87.5%,#06c 89%,#04c 90.4%,#12c 92.3%,#11b 94.2%,#20a 99.8%)"></i><i style="background:linear-gradient(#0b1,#0b1 9.9%,#0c0 26.6%,#1d0 43.3%,#0c0 73.6%,#0b1 79.2%,#0a2 80.9%,#0a3 82.6%,#0a7 84.2%,#099 85.8%,#09b 87.5%,#08c 89%,#06c 90.4%,#04c 92.3%,#13c 94.2%,#11b 99.8%)"></i><i style="background:linear-gradient(#0c0,#0c0 9.9%,#1d0 26.6%,#2d0 43.3%,#1c0 73.6%,#0c0 79.2%,#0b1 80.9%,#0a2 82.6%,#0a5 84.3%,#0a8 86.1%,#09a 87.8%,#08c 90.8%,#05d 93.8%,#03c 99.8%)"></i><i style="background:linear-gradient(#0c0,#1d0 21.7%,#3e0 43.3%,#2d0 73.6%,#1d0 79.2%,#0c0 80.9%,#0b1 82.6%,#0a2 84.1%,#0a5 85.6%,#0a8 88%,#09a 90.4%,#08c 94.2%,#07c 99.8%)"></i><i style="background:linear-gradient(#1d0,#2e0 21.9%,#5e0 43.6%,#4e0 73.6%,#3e0 78.8%,#1d0 82.6%,#0b1 84.1%,#0a2 85.6%,#0a5 88%,#0a7 90.4%,#09a 94.2%,#09b 99.8%)"></i><i style="background:linear-gradient(#1d0,#3e0 27.3%,#7e0 54.5%,#8e0 78.8%,#4e0 82.6%,#2d0 83.6%,#0c0 84.6%,#0b1 85.6%,#0b2 86.7%,#0a3 87.8%,#0a5 90.8%,#0a8 93.8%,#099 99.8%)"></i><i style="background:linear-gradient(#1d0,#2d0 9.9%,#5e0 32.9%,#9e0 55.9%,#cd0 78.8%,#ae0 82.6%,#5e0 83.6%,#2e0 84.6%,#0c0 85.6%,#0b1 86.7%,#0a2 87.8%,#0a4 90.8%,#0a6 93.8%,#0a8 99.8%)"></i><i style="background:linear-gradient(#2d0,#2d0 9.9%,#4e0 26.6%,#7e0 43.3%,#ae0 54.5%,#ce0 65.7%,#ec0 72.3%,#eb0 78.8%,#dd0 82.6%,#be0 83.3%,#8e0 84.1%,#4e0 84.8%,#2d0 85.6%,#0c0 86.7%,#0b1 87.8%,#0a3 90.8%,#0a5 93.8%,#0a7 99.8%)"></i><i style="background:linear-gradient(#2d0,#2d0 9.9%,#4e0 26.6%,#7e0 43.3%,#ae0 54.5%,#dd0 65.7%,#ec0 72.3%,#f90 78.8%,#eb0 82.6%,#dd0 83.5%,#ae0 84.3%,#6e0 85.2%,#2e0 86.1%,#1d0 87%,#0b1 87.8%,#0a2 90.8%,#0a4 93.8%,#0a6 99.8%)"></i><i style="background:linear-gradient(#1d0,#1d0 9.9%,#3e0 26.6%,#6e0 43.3%,#ae0 54.5%,#dd0 65.7%,#eb0 72.5%,#f80 79.2%,#eb0 83%,#dd0 83.8%,#ae0 84.6%,#7e0 85.4%,#3e0 86.2%,#1d0 87%,#0b1 87.8%,#0a2 90.8%,#0a4 93.8%,#0a6 99.8%)"></i><i style="background:linear-gradient(#1d0,#1d0 9.9%,#3e0 26.6%,#6e0 43.3%,#9e0 50.7%,#ce0 58.2%,#dd0 65.7%,#eb0 72.5%,#f80 79.2%,#fa0 83%,#ec0 83.7%,#cd0 84.5%,#ae0 85.2%,#5e0 86%,#2e0 86.7%,#0c0 87.5%,#0b1 88.8%,#0b2 90.1%,#0a4 94.9%,#0a6 99.8%)"></i><i style="background:linear-gradient(#0c0,#1d0 20.8%,#3e0 32%,#6e0 43.3%,#9e0 50.7%,#ce0 58.2%,#ec0 65.7%,#fa0 72.5%,#f70 79.2%,#f90 83%,#eb0 83.7%,#dd0 84.5%,#ce0 85.2%,#8e0 85.9%,#4e0 86.5%,#1d0 87.2%,#0c0 87.8%,#0b1 89%,#0b1 90.1%,#0a4 94.9%,#0a6 99.8%)"></i><i style="background:linear-gradient(#0c0,#1d0 20.8%,#3e0 32%,#6e0 43.3%,#9e0 50.7%,#ce0 58.2%,#ec0 65.7%,#fa0 72.5%,#f70 79.2%,#f80 83%,#ea0 83.7%,#ec0 84.5%,#cd0 85.2%,#9e0 85.9%,#5e0 86.5%,#2d0 87.2%,#0c0 87.8%,#0b1 89%,#0b1 90.1%,#0a3 94.9%,#0a6 99.8%)"></i><i style="background:linear-gradient(#0b1,#1d0 20.8%,#3e0 32%,#6e0 43.3%,#9e0 50.7%,#ce0 58.2%,#ec0 65.7%,#fa0 72.5%,#f70 79.2%,#f80 83%,#eb0 84.1%,#dd0 85.2%,#ae0 85.9%,#5e0 86.5%,#2e0 87.2%,#0c0 87.8%,#0b1 89%,#0b1 90.1%,#0a3 94.9%,#0a6 99.8%)"></i><i style="background:linear-gradient(#0b1,#1c0 21.2%,#2e0 30.1%,#5e0 39%,#9e0 47.9%,#ce0 56.8%,#ec0 65.7%,#fa0 72.5%,#f60 79.2%,#f80 83%,#eb0 84.1%,#dd0 85.2%,#ae0 85.9%,#6e0 86.5%,#2e0 87.2%,#1c0 87.8%,#0b1 89%,#0b1 90.1%,#0a3 94.9%,#0a6 99.8%)"></i><i style="background:linear-gradient(#0b1,#0b1 10.7%,#0c0 21.2%,#2d0 30.1%,#5e0 39%,#9e0 47.9%,#ce0 56.8%,#ec0 65.7%,#fa0 72.5%,#f60 79.2%,#f70 83%,#ea0 84.1%,#dd0 85.2%,#be0 85.9%,#6e0 86.5%,#2e0 87.2%,#1c0 87.8%,#0b1 89%,#0b1 90.1%,#0a3 94.9%,#0a6 99.8%)"></i><i style="background:linear-gradient(#0b1,#0c0 10.7%,#1c0 21.2%,#2e0 30.1%,#5e0 39%,#9e0 47.9%,#ce0 56.8%,#ec0 65.7%,#fa0 72.5%,#f60 79.2%,#f70 83%,#ea0 84.1%,#dd0 85.2%,#be0 85.9%,#6e0 86.5%,#2e0 87.2%,#1c0 87.8%,#0b1 89%,#0b1 90.1%,#0a3 94.9%,#0a6 99.8%)"></i><i style="background:linear-gradient(#0b1,#0c0 10.7%,#1d0 21.2%,#2e0 30.1%,#5e0 39%,#9e0 47.9%,#ce0 56.8%,#ec0 65.7%,#fa0 72.5%,#f70 79.2%,#f80 83%,#eb0 84.1%,#dd0 85.2%,#be0 85.9%,#6e0 86.5%,#2e0 87.2%,#1c0 87.8%,#0b1 89%,#0b1 90.1%,#0a3 94.9%,#0a6 99.8%)"></i><i style="background:linear-gradient(#0b1,#0b1 9.9%,#1d0 20.8%,#2e0 29.8%,#5e0 38.8%,#9e0 47.8%,#ce0 56.7%,#ec0 65.7%,#fa0 72.5%,#f70 79.2%,#f80 83%,#eb0 84.1%,#dd0 85.2%,#be0 85.9%,#6e0 86.5%,#2e0 87.2%,#1c0 87.8%,#0b1 89%,#0b1 90.1%,#0a3 94.9%,#0a6 99.8%)"></i><i style="background:linear-gradient(#0b1,#0c0 10.5%,#1d0 20.8%,#4e0 32%,#8e0 43.3%,#ce0 54.5%,#ec0 65.7%,#fa0 72.5%,#f70 79.2%,#f80 83%,#eb0 84.1%,#dd0 85.2%,#ae0 85.9%,#6e0 86.5%,#2e0 87.2%,#1c0 87.8%,#0b1 89%,#0b1 90.1%,#0a4 94.9%,#0a6 99.8%)"></i><i style="background:linear-gradient(#1c0,#1d0 9.9%,#2e0 21.2%,#5e0 32.4%,#8e0 43.6%,#ce0 54.7%,#ec0 65.7%,#fa0 72.5%,#f70 79.2%,#f90 83%,#eb0 84.1%,#dd0 85.2%,#ae0 85.9%,#5e0 86.5%,#2e0 87.2%,#0c0 87.8%,#0b1 89%,#0b1 90.1%,#0a4 94.9%,#0a6 99.8%)"></i><i style="background:linear-gradient(#1d0,#2d0 9.9%,#5e0 26.8%,#9e0 43.6%,#ce0 54.7%,#ec0 65.7%,#ea0 72.5%,#f80 79.2%,#f90 83%,#ec0 84.1%,#cd0 85.2%,#9e0 85.9%,#5e0 86.5%,#2d0 87.2%,#0c0 87.8%,#0b1 89%,#0b2 90.1%,#0a4 94.2%,#0a7 99.8%)"></i><i style="background:linear-gradient(#3e0,#6e0 21.9%,#9e0 43.6%,#ce0 54.7%,#ec0 65.7%,#eb0 72.5%,#f90 79.2%,#ea0 83%,#dd0 84.1%,#be0 85.2%,#7e0 85.9%,#4e0 86.5%,#1d0 87.2%,#0c0 87.8%,#0b1 89%,#0a2 90.1%,#0a4 94.9%,#0a7 99.8%)"></i><i style="background:linear-gradient(#5e0,#9e0 43.3%,#cd0 55.2%,#ec0 67.2%,#f90 79.2%,#eb0 83%,#dd0 83.7%,#be0 84.5%,#9e0 85.2%,#5e0 86%,#2d0 86.7%,#0c0 87.5%,#0b1 88.8%,#0a2 90.1%,#0a4 94.9%,#0a7 99.8%)"></i><i style="background:linear-gradient(#7e0,#ae0 43.3%,#dd0 61%,#eb0 78.8%,#dd0 83%,#be0 83.9%,#8e0 84.8%,#4e0 85.7%,#1d0 86.6%,#0c0 87.5%,#0b1 88.8%,#0a2 90.1%,#0a4 94.9%,#0a7 99.8%)"></i><i style="background:linear-gradient(#8e0,#8e0 32.4%,#be0 55.6%,#dd0 78.8%,#be0 83%,#7e0 84.1%,#3e0 85.2%,#1d0 86.3%,#0c0 87.5%,#0b1 88.8%,#0a2 90.1%,#0a5 94.2%,#0a8 99.8%)"></i><i style="background:linear-gradient(#8e0,#8e0 32%,#be0 65.7%,#ae0 78.8%,#7e0 83%,#4e0 84.2%,#1d0 85.4%,#0c0 86.6%,#0b1 87.8%,#0a3 90.8%,#0a5 93.8%,#0a8 99.8%)"></i><i style="background:linear-gradient(#7e0,#9e0 54.9%,#7e0 73.6%,#3e0 82.6%,#1d0 84.3%,#0c0 86.1%,#0b2 87.8%,#0a4 90.8%,#0a7 93.8%,#099 99.8%)"></i><i style="background:linear-gradient(#5e0,#6e0 43.6%,#5e0 66.1%,#2e0 74.3%,#1d0 82.6%,#0b1 85.4%,#0a2 88.2%,#0a5 91%,#0a8 93.8%,#09b 99.8%)"></i><i style="background:linear-gradient(#4e0,#5e0 43.3%,#3e0 65.7%,#1d0 74.2%,#0b1 82.6%,#0a2 85.4%,#0a4 88.2%,#0a7 91%,#099 93.8%,#09a 96.8%,#08b 99.8%)"></i><i style="background:linear-gradient(#4e0,#4e0 43.3%,#2e0 65.7%,#0c0 74.2%,#0b1 82.6%,#0a3 85.4%,#0a5 88.2%,#0a8 91%,#09a 93.8%,#08b 96.8%,#08c 99.8%)"></i><i style="background:linear-gradient(#3e0,#4e0 43.3%,#1d0 65.7%,#0c0 74.2%,#0a2 82.6%,#0a4 85.4%,#0a7 88.2%,#09a 91%,#09b 93.8%,#08c 96.8%,#06c 99.8%)"></i><i style="background:linear-gradient(#3e0,#2e0 43.3%,#1c0 66.1%,#0b1 74.3%,#0a2 82.6%,#0a5 85.4%,#0a8 88.2%,#09a 91%,#08c 93.8%,#07c 96.8%,#05d 99.8%)"></i><i style="background:linear-gradient(#3e0,#2e0 32.4%,#1c0 53%,#0b1 73.6%,#0a3 82.6%,#0a6 85.2%,#0a9 87.8%,#09b 90.4%,#07c 95.1%,#04c 99.8%)"></i><i style="background:linear-gradient(#2e0,#1d0 32%,#0c0 52.8%,#0b1 73.6%,#0a2 78.1%,#0a4 82.6%,#0a7 85.2%,#09a 87.8%,#08c 90.4%,#06d 95.1%,#03c 99.8%)"></i><i style="background:linear-gradient(#2d0,#1d0 32%,#0c0 52.8%,#0b2 73.6%,#0a3 78.8%,#0a6 82.6%,#0a9 84.1%,#09b 85.6%,#08c 88%,#05d 90.4%,#03c 95.1%,#11b 99.8%)"></i><i style="background:linear-gradient(#1d0,#1d0 21.2%,#0b1 47.2%,#0a2 73.2%,#0a5 79.2%,#0a7 80.9%,#0a8 82.6%,#09a 83.6%,#08c 84.6%,#07c 85.6%,#05d 87.8%,#13c 90.1%,#11b 94.9%,#21b 99.8%)"></i><i style="background:linear-gradient(#1d0,#0c0 27.3%,#0b1 54.5%,#0a3 73.2%,#0a6 79.2%,#0a8 80.9%,#09a 82.6%,#09b 83.6%,#07c 84.6%,#05d 85.6%,#03c 87.8%,#12b 90.1%,#20a 99.8%)"></i><i style="background:linear-gradient(#0c0,#0b1 54.5%,#0a2 63.9%,#0a4 73.2%,#0a6 76.2%,#0a7 79.2%,#099 80.9%,#09b 82.6%,#08c 83.6%,#06d 84.6%,#04c 85.6%,#12c 87.8%,#11b 90.1%,#209 99.8%)"></i><i style="background:linear-gradient(#0c0,#0b1 21.2%,#0b1 43.6%,#0a3 66.1%,#0a5 73.2%,#0a8 78.8%,#09a 80.7%,#08c 82.6%,#07c 83.6%,#05d 84.6%,#03c 85.6%,#11b 87.8%,#21b 90.1%,#309 99.8%)"></i><i style="background:linear-gradient(#0b1,#0a2 54.5%,#0a3 66.1%,#0a6 72.5%,#0a9 78.8%,#09b 80.7%,#08c 82.6%,#05d 84.1%,#13c 85.6%,#11b 87.8%,#20a 90.1%,#309 99.8%)"></i><i style="background:linear-gradient(#0b1,#0a2 54.5%,#0a3 65.7%,#0a7 72.3%,#09a 78.8%,#09b 80.7%,#07c 82.6%,#05d 84.1%,#12c 85.6%,#11b 87.8%,#20a 90.1%,#309 99.8%)"></i><i style="background:linear-gradient(#0b1,#0a2 54.5%,#0a4 65.7%,#0a6 70.1%,#0a9 74.5%,#09a 78.8%,#08c 81.1%,#05d 83.3%,#12c 85.6%,#11b 88%,#20a 90.4%,#309 99.8%)"></i><i style="background:linear-gradient(#0b2,#0a3 54.5%,#0a5 65.7%,#0a7 70.1%,#0a9 74.5%,#09b 78.8%,#07c 81.1%,#04c 83.3%,#12c 85.6%,#21b 88%,#20a 90.4%,#308 99.8%)"></i><i style="background:linear-gradient(#0a2,#0a4 54.5%,#0a5 65.7%,#0a9 72.3%,#09b 78.8%,#07c 81.1%,#04c 83.3%,#11b 85.6%,#20a 88%,#309 90.4%,#308 99.8%)"></i><i style="background:linear-gradient(#0a3,#0a5 54.5%,#0a6 65.7%,#099 72.3%,#09b 78.8%,#07c 80.7%,#05d 82.6%,#13c 84.1%,#11b 85.6%,#20a 88%,#309 90.4%,#307 99.8%)"></i><i style="background:linear-gradient(#0a4,#0a6 54.5%,#0a7 66.1%,#09a 72.5%,#08c 78.8%,#07c 80.7%,#05d 82.6%,#12c 84.1%,#21b 85.6%,#209 88%,#308 90.4%,#306 99.8%)"></i><i style="background:linear-gradient(#0a8,#0a8 43.6%,#09a 66.1%,#09b 72.5%,#07c 78.8%,#05d 80.7%,#04c 82.6%,#12b 84.1%,#20a 85.6%,#309 88%,#307 90.4%,#305 99.8%)"></i><i style="background:linear-gradient(#07c,#07c 43.3%,#06c 66.1%,#05d 72.7%,#03c 79.2%,#12b 82.6%,#20a 85.2%,#309 87.8%,#307 90.4%,#204 99.8%)"></i><i style="background:linear-gradient(#06c,#07c 43.3%,#06d 66.1%,#03c 74.3%,#12c 82.6%,#20a 85.2%,#309 87.8%,#307 90.4%,#305 99.8%)"></i><i style="background:linear-gradient(#07c,#08c 43.3%,#07c 66.1%,#04c 74.3%,#13c 82.6%,#11b 85.2%,#20a 87.8%,#308 90.4%,#306 99.8%)"></i><i style="background:linear-gradient(#08c,#08c 43.3%,#07c 66.1%,#05d 74.3%,#03c 82.6%,#11b 85.2%,#20a 87.8%,#309 90.4%,#306 99.8%)"></i><i style="background:linear-gradient(#08c,#08c 43.3%,#07c 66.1%,#05d 74.3%,#03c 82.6%,#11b 85.2%,#20a 87.8%,#309 90.4%,#306 99.8%)"></i><i style="background:linear-gradient(#08c,#08c 43.3%,#07c 66.1%,#05d 74.3%,#03c 82.6%,#11b 85.2%,#20a 87.8%,#308 90.4%,#306 99.8%)"></i><i style="background:linear-gradient(#07c,#08c 43.3%,#07c 66.1%,#04c 74.3%,#13c 82.6%,#11b 85.2%,#20a 87.8%,#308 90.4%,#306 99.8%)"></i><i style="background:linear-gradient(#07c,#08c 43.3%,#07c 66.1%,#04c 74.3%,#12c 82.6%,#11b 85.2%,#20a 87.8%,#308 90.4%,#306 99.8%)"></i><i style="background:linear-gradient(#07c,#08c 43.3%,#07c 66.1%,#05c 74.3%,#13c 82.6%,#11b 85.2%,#20a 87.8%,#308 90.4%,#306 99.8%)"></i><i style="background:linear-gradient(#08c,#08c 43.3%,#07c 66.1%,#05d 74.3%,#03c 82.6%,#11b 85.2%,#20a 87.8%,#308 90.4%,#306 99.8%)"></i><i style="background:linear-gradient(#08c,#08c 43.3%,#07c 66.1%,#05d 74.3%,#03c 82.6%,#11b 85.2%,#20a 87.8%,#309 90.4%,#306 99.8%)"></i></div>
<svg width="1800" height="1200" viewBox="0 0 1800 1200" >
<defs><linearGradient id="gb0" x1="0" y1="0" x2="0" y2="1"><stop offset="0" stop-color="#1a08c8" stop-opacity="1"/><stop offset="1" stop-color="#1a08c8" stop-opacity="1"/></linearGradient><linearGradient id="gb1" x1="0" y1="0" x2="0" y2="1"><stop offset="0" stop-color="#1a08c8" stop-opacity="0"/><stop offset="0.3" stop-color="#1a08c8" stop-opacity="1"/><stop offset="1" stop-color="#1a08c8" stop-opacity="1"/></linearGradient><linearGradient id="gb2" x1="0" y1="0" x2="0" y2="1"><stop offset="0" stop-color="#1a08c8" stop-opacity="1"/><stop offset="0.7" stop-color="#1a08c8" stop-opacity="1"/><stop offset="1" stop-color="#1a08c8" stop-opacity="0"/></linearGradient><linearGradient id="gb3" x1="0" y1="0" x2="0" y2="1"><stop offset="0" stop-color="#1a08c8" stop-opacity="0"/><stop offset="0.3" stop-color="#1a08c8" stop-opacity="1"/><stop offset="0.7" stop-color="#1a08c8" stop-opacity="1"/><stop offset="1" stop-color="#1a08c8" stop-opacity="0"/></linearGradient><linearGradient id="gb4" x1="0" y1="0" x2="0" y2="1"><stop offset="0" stop-color="#1a08c8" stop-opacity="0.3"/><stop offset="0.6" stop-color="#1a08c8" stop-opacity="0.6"/><stop offset="1" stop-color="#1a08c8" stop-opacity="1"/></linearGradient><linearGradient id="gb5" x1="0" y1="0" x2="0" y2="1"><stop offset="0" stop-color="#1a08c8" stop-opacity="0"/><stop offset="0.4" stop-color="#1a08c8" stop-opacity="0.8"/><stop offset="0.8" stop-color="#1a08c8" stop-opacity="1"/><stop offset="1" stop-color="#1a08c8" stop-opacity="0"/></linearGradient><linearGradient id="gc0" x1="0" y1="0" x2="0" y2="1"><stop offset="0" stop-color="#0a50e0" stop-opacity="1"/><stop offset="1" stop-color="#0a50e0" stop-opacity="1"/></linearGradient><linearGradient id="gc1" x1="0" y1="0" x2="0" y2="1"><stop offset="0" stop-color="#0a50e0" stop-opacity="0"/><stop offset="0.3" stop-color="#0a50e0" stop-opacity="1"/><stop offset="1" stop-color="#0a50e0" stop-opacity="1"/></linearGradient><linearGradient id="gc2" x1="0" y1="0" x2="0" y2="1"><stop offset="0" stop-color="#0a50e0" stop-opacity="1"/><stop offset="0.7" stop-color="#0a50e0" stop-opacity="1"/><stop offset="1" stop-color="#0a50e0" stop-opacity="0"/></linearGradient><linearGradient id="gc3" x1="0" y1="0" x2="0" y2="1"><stop offset="0" stop-color="#0a50e0" stop-opacity="0"/><stop offset="0.3" stop-color="#0a50e0" stop-opacity="1"/><stop offset="0.7" stop-color="#0a50e0" stop-opacity="1"/><stop offset="1" stop-color="#0a50e0" stop-opacity="0"/></linearGradient><linearGradient id="gc4" x1="0" y1="0" x2="0" y2="1"><stop offset="0" stop-color="#0a50e0" stop-opacity="0.3"/><stop offset="0.6" stop-color="#0a50e0" stop-opacity="0.6"/><stop offset="1" stop-color="#0a50e0" stop-opacity="1"/></linearGradient><linearGradient id="gc5" x1="0" y1="0" x2="0" y2="1"><stop offset="0" stop-color="#0a50e0" stop-opacity="0"/><stop offset="0.4" stop-color="#0a50e0" stop-opacity="0.8"/><stop offset="0.8" stop-color="#0a50e0" stop-opacity="1"/><stop offset="1" stop-color="#0a50e0" stop-opacity="0"/></linearGradient><linearGradient id="gp0" x1="0" y1="0" x2="0" y2="1"><stop offset="0" stop-color="#5a0090" stop-opacity="1"/><stop offset="1" stop-color="#5a0090" stop-opacity="1"/></linearGradient><linearGradient id="gp1" x1="0" y1="0" x2="0" y2="1"><stop offset="0" stop-color="#5a0090" stop-opacity="0"/><stop offset="0.3" stop-color="#5a0090" stop-opacity="1"/><stop offset="1" stop-color="#5a0090" stop-opacity="1"/></linearGradient><linearGradient id="gp2" x1="0" y1="0" x2="0" y2="1"><stop offset="0" stop-color="#5a0090" stop-opacity="1"/><stop offset="0.7" stop-color="#5a0090" stop-opacity="1"/><stop offset="1" stop-color="#5a0090" stop-opacity="0"/></linearGradient><linearGradient id="gp3" x1="0" y1="0" x2="0" y2="1"><stop offset="0" stop-color="#5a0090" stop-opacity="0"/><stop offset="0.3" stop-color="#5a0090" stop-opacity="1"/><stop offset="0.7" stop-color="#5a0090" stop-opacity="1"/><stop offset="1" stop-color="#5a0090" stop-opacity="0"/></linearGradient><linearGradient id="gp4" x1="0" y1="0" x2="0" y2="1"><stop offset="0" stop-color="#5a0090" stop-opacity="0.3"/><stop offset="0.6" stop-color="#5a0090" stop-opacity="0.6"/><stop offset="1" stop-color="#5a0090" stop-opacity="1"/></linearGradient><linearGradient id="gp5" x1="0" y1="0" x2="0" y2="1"><stop offset="0" stop-color="#5a0090" stop-opacity="0"/><stop offset="0.4" stop-color="#5a0090" stop-opacity="0.8"/><stop offset="0.8" stop-color="#5a0090" stop-opacity="1"/><stop offset="1" stop-color="#5a0090" stop-opacity="0"/></linearGradient><linearGradient id="gt0" x1="0" y1="0" x2="0" y2="1"><stop offset="0" stop-color="#00a0c0" stop-opacity="1"/><stop offset="1" stop-color="#00a0c0" stop-opacity="1"/></linearGradient><linearGradient id="gt1" x1="0" y1="0" x2="0" y2="1"><stop offset="0" stop-color="#00a0c0" stop-opacity="0"/><stop offset="0.3" stop-color="#00a0c0" stop-opacity="1"/><stop offset="1" stop-color="#00a0c0" stop-opacity="1"/></linearGradient><linearGradient id="gt2" x1="0" y1="0" x2="0" y2="1"><stop offset="0" stop-color="#00a0c0" stop-opacity="1"/><stop offset="0.7" stop-color="#00a0c0" stop-opacity="1"/><stop offset="1" stop-color="#00a0c0" stop-opacity="0"/></linearGradient><linearGradient id="gt3" x1="0" y1="0" x2="0" y2="1"><stop offset="0" stop-color="#00a0c0" stop-opacity="0"/><stop offset="0.3" stop-color="#00a0c0" stop-opacity="1"/><stop offset="0.7" stop-color="#00a0c0" stop-opacity="1"/><stop offset="1" stop-color="#00a0c0" stop-opacity="0"/></linearGradient><linearGradient id="gt4" x1="0" y1="0" x2="0" y2="1"><stop offset="0" stop-color="#00a0c0" stop-opacity="0.3"/><stop offset="0.6" stop-color="#00a0c0" stop-opacity="0.6"/><stop offset="1" stop-color="#00a0c0" stop-opacity="1"/></linearGradient><linearGradient id="gt5" x1="0" y1="0" x2="0" y2="1"><stop offset="0" stop-color="#00a0c0" stop-opacity="0"/><stop offset="0.4" stop-color="#00a0c0" stop-opacity="0.8"/><stop offset="0.8" stop-color="#00a0c0" stop-opacity="1"/><stop offset="1" stop-color="#00a0c0" stop-opacity="0"/></linearGradient><linearGradient id="gy0" x1="0" y1="0" x2="0" y2="1"><stop offset="0" stop-color="#b0ff20" stop-opacity="1"/><stop offset="1" stop-color="#b0ff20" stop-opacity="1"/></linearGradient><linearGradient id="gy1" x1="0" y1="0" x2="0" y2="1"><stop offset="0" stop-color="#b0ff20" stop-opacity="0"/><stop offset="0.3" stop-color="#b0ff20" stop-opacity="1"/><stop offset="1" stop-color="#b0ff20" stop-opacity="1"/></linearGradient><linearGradient id="gy2" x1="0" y1="0" x2="0" y2="1"><stop offset="0" stop-color="#b0ff20" stop-opacity="1"/><stop offset="0.7" stop-color="#b0ff20" stop-opacity="1"/><stop offset="1" stop-color="#b0ff20" stop-opacity="0"/></linearGradient><linearGradient id="gy3" x1="0" y1="0" x2="0" y2="1"><stop offset="0" stop-color="#b0ff20" stop-opacity="0"/><stop offset="0.3" stop-color="#b0ff20" stop-opacity="1"/><stop offset="0.7" stop-color="#b0ff20" stop-opacity="1"/><stop offset="1" stop-color="#b0ff20" stop-opacity="0"/></linearGradient><linearGradient id="gy4" x1="0" y1="0" x2="0" y2="1"><stop offset="0" stop-color="#b0ff20" stop-opacity="0.3"/><stop offset="0.6" stop-color="#b0ff20" stop-opacity="0.6"/><stop offset="1" stop-color="#b0ff20" stop-opacity="1"/></linearGradient><linearGradient id="gy5" x1="0" y1="0" x2="0" y2="1"><stop offset="0" stop-color="#b0ff20" stop-opacity="0"/><stop offset="0.4" stop-color="#b0ff20" stop-opacity="0.8"/><stop offset="0.8" stop-color="#b0ff20" stop-opacity="1"/><stop offset="1" stop-color="#b0ff20" stop-opacity="0"/></linearGradient><linearGradient id="gd0" x1="0" y1="0" x2="0" y2="1"><stop offset="0" stop-color="#006070" stop-opacity="1"/><stop offset="1" stop-color="#006070" stop-opacity="1"/></linearGradient><linearGradient id="gd1" x1="0" y1="0" x2="0" y2="1"><stop offset="0" stop-color="#006070" stop-opacity="0"/><stop offset="0.3" stop-color="#006070" stop-opacity="1"/><stop offset="1" stop-color="#006070" stop-opacity="1"/></linearGradient><linearGradient id="gd2" x1="0" y1="0" x2="0" y2="1"><stop offset="0" stop-color="#006070" stop-opacity="1"/><stop offset="0.7" stop-color="#006070" stop-opacity="1"/><stop offset="1" stop-color="#006070" stop-opacity="0"/></linearGradient><linearGradient id="gd3" x1="0" y1="0" x2="0" y2="1"><stop offset="0" stop-color="#006070" stop-opacity="0"/><stop offset="0.3" stop-color="#006070" stop-opacity="1"/><stop offset="0.7" stop-color="#006070" stop-opacity="1"/><stop offset="1" stop-color="#006070" stop-opacity="0"/></linearGradient><linearGradient id="gd4" x1="0" y1="0" x2="0" y2="1"><stop offset="0" stop-color="#006070" stop-opacity="0.3"/><stop offset="0.6" stop-color="#006070" stop-opacity="0.6"/><stop offset="1" stop-color="#006070" stop-opacity="1"/></linearGradient><linearGradient id="gd5" x1="0" y1="0" x2="0" y2="1"><stop offset="0" stop-color="#006070" stop-opacity="0"/><stop offset="0.4" stop-color="#006070" stop-opacity="0.8"/><stop offset="0.8" stop-color="#006070" stop-opacity="1"/><stop offset="1" stop-color="#006070" stop-opacity="0"/></linearGradient><linearGradient id="gk0" x1="0" y1="0" x2="0" y2="1"><stop offset="0" stop-color="#00701c" stop-opacity="1"/><stop offset="1" stop-color="#00701c" stop-opacity="1"/></linearGradient><linearGradient id="gk1" x1="0" y1="0" x2="0" y2="1"><stop offset="0" stop-color="#00701c" stop-opacity="0"/><stop offset="0.3" stop-color="#00701c" stop-opacity="1"/><stop offset="1" stop-color="#00701c" stop-opacity="1"/></linearGradient><linearGradient id="gk2" x1="0" y1="0" x2="0" y2="1"><stop offset="0" stop-color="#00701c" stop-opacity="1"/><stop offset="0.7" stop-color="#00701c" stop-opacity="1"/><stop offset="1" stop-color="#00701c" stop-opacity="0"/></linearGradient><linearGradient id="gk3" x1="0" y1="0" x2="0" y2="1"><stop offset="0" stop-color="#00701c" stop-opacity="0"/><stop offset="0.3" stop-color="#00701c" stop-opacity="1"/><stop offset="0.7" stop-color="#00701c" stop-opacity="1"/><stop offset="1" stop-color="#00701c" stop-opacity="0"/></linearGradient><linearGradient id="gk4" x1="0" y1="0" x2="0" y2="1"><stop offset="0" stop-color="#00701c" stop-opacity="0.3"/><stop offset="0.6" stop-color="#00701c" stop-opacity="0.6"/><stop offset="1" stop-color="#00701c" stop-opacity="1"/></linearGradient><linearGradient id="gk5" x1="0" y1="0" x2="0" y2="1"><stop offset="0" stop-color="#00701c" stop-opacity="0"/><stop offset="0.4" stop-color="#00701c" stop-opacity="0.8"/><stop offset="0.8" stop-color="#00701c" stop-opacity="1"/><stop offset="1" stop-color="#00701c" stop-opacity="0"/></linearGradient><linearGradient id="go0" x1="0" y1="0" x2="0" y2="1"><stop offset="0" stop-color="#ffe000" stop-opacity="1"/><stop offset="1" stop-color="#ffe000" stop-opacity="1"/></linearGradient><linearGradient id="go1" x1="0" y1="0" x2="0" y2="1"><stop offset="0" stop-color="#ffe000" stop-opacity="0"/><stop offset="0.3" stop-color="#ffe000" stop-opacity="1"/><stop offset="1" stop-color="#ffe000" stop-opacity="1"/></linearGradient><linearGradient id="go2" x1="0" y1="0" x2="0" y2="1"><stop offset="0" stop-color="#ffe000" stop-opacity="1"/><stop offset="0.7" stop-color="#ffe000" stop-opacity="1"/><stop offset="1" stop-color="#ffe000" stop-opacity="0"/></linearGradient><linearGradient id="go3" x1="0" y1="0" x2="0" y2="1"><stop offset="0" stop-color="#ffe000" stop-opacity="0"/><stop offset="0.3" stop-color="#ffe000" stop-opacity="1"/><stop offset="0.7" stop-color="#ffe000" stop-opacity="1"/><stop offset="1" stop-color="#ffe000" stop-opacity="0"/></linearGradient><linearGradient id="go4" x1="0" y1="0" x2="0" y2="1"><stop offset="0" stop-color="#ffe000" stop-opacity="0.3"/><stop offset="0.6" stop-color="#ffe000" stop-opacity="0.6"/><stop offset="1" stop-color="#ffe000" stop-opacity="1"/></linearGradient><linearGradient id="go5" x1="0" y1="0" x2="0" y2="1"><stop offset="0" stop-color="#ffe000" stop-opacity="0"/><stop offset="0.4" stop-color="#ffe000" stop-opacity="0.8"/><stop offset="0.8" stop-color="#ffe000" stop-opacity="1"/><stop offset="1" stop-color="#ffe000" stop-opacity="0"/></linearGradient><filter id="sb" x="-30%" y="-30%" width="160%" height="160%"><feGaussianBlur stdDeviation="1.2"/></filter><clipPath id="cpA"><rect x="197.5" y="144" width="1447.5" height="266.8"/></clipPath><clipPath id="cpB"><rect x="197.5" y="436" width="1447.5" height="266.8"/></clipPath></defs>
<g clip-path="url(#cpA)"><rect x="424.3" y="268" width="1.5" height="88" fill="url(#gp3)" opacity="0.51"/>
<rect x="199.9" y="288" width="1.0" height="88" fill="url(#gp3)" opacity="0.30"/>
<rect x="290.3" y="306" width="2.0" height="105" fill="url(#gb1)" opacity="0.55"/>
<rect x="484.9" y="267" width="1.5" height="66" fill="url(#gc3)" opacity="0.41"/>
<rect x="213.9" y="297" width="1.0" height="114" fill="url(#gb1)" opacity="0.52"/>
<rect x="425.8" y="275" width="1.0" height="136" fill="url(#gc1)" opacity="0.20"/>
<rect x="267.6" y="287" width="2.0" height="124" fill="url(#gc1)" opacity="0.20"/>
<rect x="498.5" y="339" width="1.5" height="72" fill="url(#gb1)" opacity="0.38"/>
<rect x="504.7" y="257" width="1.5" height="127" fill="url(#gc3)" opacity="0.38"/>
<rect x="513.4" y="255" width="1.5" height="102" fill="url(#gb3)" opacity="0.31"/>
<rect x="252.4" y="349" width="1.0" height="62" fill="url(#gp1)" opacity="0.41"/>
<rect x="417.0" y="262" width="1.0" height="110" fill="url(#gc3)" opacity="0.28"/>
<rect x="343.7" y="267" width="2.0" height="144" fill="url(#gb3)" opacity="0.31"/>
<rect x="514.4" y="250" width="1.0" height="161" fill="url(#gc4)" opacity="0.53"/>
<rect x="525.2" y="250" width="2.0" height="161" fill="url(#gp4)" opacity="0.27"/>
<rect x="533.9" y="339" width="1.0" height="72" fill="url(#gc1)" opacity="0.42"/>
<rect x="404.2" y="274" width="1.0" height="137" fill="url(#gb1)" opacity="0.21"/>
<rect x="515.2" y="283" width="1.0" height="128" fill="url(#gb1)" opacity="0.46"/>
<rect x="207.1" y="250" width="1.5" height="161" fill="url(#gb4)" opacity="0.54"/>
<rect x="436.1" y="338" width="1.0" height="73" fill="url(#gc1)" opacity="0.32"/>
<rect x="411.7" y="302" width="1.0" height="109" fill="url(#gb1)" opacity="0.47"/>
<rect x="527.1" y="250" width="1.5" height="160" fill="url(#gp3)" opacity="0.48"/>
<rect x="247.5" y="251" width="1.0" height="141" fill="url(#gp3)" opacity="0.48"/>
<rect x="383.7" y="270" width="1.0" height="141" fill="url(#gb1)" opacity="0.33"/>
<rect x="262.9" y="296" width="1.5" height="94" fill="url(#gb3)" opacity="0.30"/>
<rect x="542.6" y="292" width="1.0" height="119" fill="url(#gb3)" opacity="0.51"/>
<rect x="466.9" y="339" width="1.0" height="72" fill="url(#gc1)" opacity="0.34"/>
<rect x="532.0" y="302" width="1.0" height="109" fill="url(#gb1)" opacity="0.53"/>
<rect x="288.9" y="308" width="1.0" height="103" fill="url(#gp3)" opacity="0.54"/>
<rect x="318.4" y="255" width="2.0" height="156" fill="url(#gc1)" opacity="0.27"/>
<rect x="529.4" y="250" width="1.0" height="161" fill="url(#gp4)" opacity="0.41"/>
<rect x="371.5" y="275" width="1.0" height="136" fill="url(#gc3)" opacity="0.36"/>
<rect x="425.4" y="256" width="1.0" height="155" fill="url(#gc1)" opacity="0.34"/>
<rect x="474.6" y="259" width="1.5" height="152" fill="url(#gp3)" opacity="0.48"/>
<rect x="515.7" y="254" width="2.0" height="45" fill="url(#gc3)" opacity="0.21"/>
<rect x="289.5" y="307" width="1.5" height="104" fill="url(#gb1)" opacity="0.21"/>
<rect x="411.7" y="252" width="1.0" height="90" fill="url(#gb3)" opacity="0.53"/>
<rect x="392.9" y="299" width="1.5" height="71" fill="url(#gp3)" opacity="0.40"/>
<rect x="212.4" y="319" width="1.0" height="48" fill="url(#gp3)" opacity="0.32"/>
<rect x="313.1" y="315" width="1.0" height="90" fill="url(#gb3)" opacity="0.50"/>
<rect x="486.6" y="321" width="1.0" height="72" fill="url(#gb3)" opacity="0.40"/>
<rect x="429.2" y="250" width="1.0" height="161" fill="url(#gc0)" opacity="0.42"/>
<rect x="496.2" y="323" width="1.5" height="88" fill="url(#gc1)" opacity="0.50"/>
<rect x="521.2" y="250" width="2.0" height="161" fill="url(#gb0)" opacity="0.43"/>
<rect x="275.7" y="281" width="1.0" height="80" fill="url(#gc3)" opacity="0.36"/>
<rect x="435.9" y="264" width="1.0" height="147" fill="url(#gb1)" opacity="0.43"/>
<rect x="498.7" y="304" width="1.0" height="107" fill="url(#gb1)" opacity="0.28"/>
<rect x="287.6" y="258" width="1.0" height="153" fill="url(#gb1)" opacity="0.46"/>
<rect x="407.6" y="250" width="2.0" height="161" fill="url(#gb0)" opacity="0.25"/>
<rect x="246.2" y="250" width="1.5" height="161" fill="url(#gp0)" opacity="0.52"/>
<rect x="295.5" y="300" width="2.0" height="70" fill="url(#gb3)" opacity="0.35"/>
<rect x="518.0" y="258" width="2.0" height="153" fill="url(#gb3)" opacity="0.47"/>
<rect x="496.9" y="256" width="2.0" height="155" fill="url(#gc1)" opacity="0.38"/>
<rect x="472.2" y="304" width="2.0" height="107" fill="url(#gb1)" opacity="0.46"/>
<rect x="522.6" y="331" width="1.0" height="80" fill="url(#gb1)" opacity="0.43"/>
<rect x="459.0" y="318" width="1.0" height="93" fill="url(#gp3)" opacity="0.34"/>
<rect x="430.1" y="311" width="1.0" height="100" fill="url(#gb3)" opacity="0.36"/>
<rect x="334.9" y="250" width="1.0" height="161" fill="url(#gb0)" opacity="0.39"/>
<rect x="338.3" y="281" width="2.0" height="130" fill="url(#gp3)" opacity="0.52"/>
<rect x="338.3" y="330" width="1.0" height="64" fill="url(#gp3)" opacity="0.45"/>
<rect x="496.8" y="250" width="1.0" height="161" fill="url(#gb4)" opacity="0.23"/>
<rect x="555.6" y="308" width="1.0" height="103" fill="url(#gb1)" opacity="0.36"/>
<rect x="469.6" y="268" width="2.0" height="143" fill="url(#gb3)" opacity="0.22"/>
<rect x="369.4" y="282" width="1.0" height="129" fill="url(#gb1)" opacity="0.45"/>
<rect x="362.7" y="322" width="1.5" height="89" fill="url(#gb3)" opacity="0.29"/>
<rect x="340.7" y="250" width="1.5" height="161" fill="url(#gb0)" opacity="0.38"/>
<rect x="242.6" y="289" width="1.0" height="69" fill="url(#gb3)" opacity="0.43"/>
<rect x="294.2" y="302" width="1.0" height="109" fill="url(#gb1)" opacity="0.42"/>
<rect x="392.1" y="321" width="1.0" height="69" fill="url(#gp3)" opacity="0.25"/>
<rect x="239.0" y="269" width="1.0" height="142" fill="url(#gc3)" opacity="0.27"/>
<rect x="381.3" y="253" width="2.0" height="90" fill="url(#gb3)" opacity="0.41"/>
<rect x="222.0" y="339" width="1.0" height="72" fill="url(#gc1)" opacity="0.47"/>
<rect x="498.1" y="319" width="1.0" height="92" fill="url(#gp3)" opacity="0.46"/>
<rect x="307.2" y="263" width="1.5" height="148" fill="url(#gb3)" opacity="0.41"/>
<rect x="317.3" y="302" width="1.0" height="109" fill="url(#gp1)" opacity="0.23"/>
<rect x="547.5" y="273" width="2.0" height="138" fill="url(#gb3)" opacity="0.45"/>
<rect x="431.0" y="292" width="1.0" height="119" fill="url(#gp1)" opacity="0.44"/>
<rect x="500.3" y="267" width="2.0" height="128" fill="url(#gc3)" opacity="0.47"/>
<rect x="221.6" y="250" width="1.0" height="161" fill="url(#gc4)" opacity="0.54"/>
<rect x="367.7" y="292" width="1.0" height="119" fill="url(#gb3)" opacity="0.23"/>
<rect x="401.7" y="253" width="1.0" height="112" fill="url(#gc3)" opacity="0.42"/>
<rect x="397.4" y="268" width="1.5" height="71" fill="url(#gb3)" opacity="0.51"/>
<rect x="269.6" y="307" width="1.5" height="104" fill="url(#gb3)" opacity="0.48"/>
<rect x="366.6" y="305" width="2.0" height="106" fill="url(#gc3)" opacity="0.34"/>
<rect x="400.1" y="281" width="1.0" height="115" fill="url(#gb3)" opacity="0.46"/>
<rect x="380.3" y="281" width="1.0" height="130" fill="url(#gb3)" opacity="0.47"/>
<rect x="359.9" y="250" width="1.5" height="161" fill="url(#gc4)" opacity="0.50"/>
<rect x="407.8" y="305" width="1.0" height="106" fill="url(#gb3)" opacity="0.35"/>
<rect x="264.4" y="294" width="1.0" height="117" fill="url(#gb1)" opacity="0.55"/>
<rect x="325.6" y="309" width="1.0" height="102" fill="url(#gb1)" opacity="0.53"/>
<rect x="519.8" y="144" width="1.0" height="267" fill="url(#gp0)" opacity="0.32"/>
<rect x="376.8" y="144" width="2.0" height="267" fill="url(#gp0)" opacity="0.19"/>
<rect x="377.0" y="144" width="2.0" height="267" fill="url(#gb0)" opacity="0.31"/>
<rect x="497.6" y="239" width="1.0" height="172" fill="url(#gp1)" opacity="0.21"/>
<rect x="395.6" y="144" width="1.0" height="267" fill="url(#gb4)" opacity="0.30"/>
<rect x="218.5" y="236" width="1.5" height="175" fill="url(#gb1)" opacity="0.13"/>
<rect x="445.2" y="222" width="1.5" height="189" fill="url(#gp1)" opacity="0.27"/>
<rect x="291.4" y="275" width="1.0" height="136" fill="url(#gb1)" opacity="0.17"/>
<rect x="546.3" y="144" width="1.0" height="267" fill="url(#gp0)" opacity="0.18"/>
<rect x="222.4" y="291" width="1.5" height="120" fill="url(#gp1)" opacity="0.16"/>
<rect x="247.6" y="245" width="1.0" height="166" fill="url(#gb1)" opacity="0.33"/>
<rect x="435.6" y="299" width="1.0" height="112" fill="url(#gp1)" opacity="0.20"/>
<rect x="291.0" y="144" width="2.0" height="267" fill="url(#gp0)" opacity="0.22"/>
<rect x="429.6" y="144" width="1.0" height="267" fill="url(#gp0)" opacity="0.16"/>
<rect x="300.6" y="144" width="2.0" height="267" fill="url(#gp0)" opacity="0.16"/>
<rect x="369.7" y="144" width="1.0" height="267" fill="url(#gp0)" opacity="0.16"/>
<rect x="295.6" y="144" width="1.5" height="267" fill="url(#gp0)" opacity="0.21"/>
<rect x="349.2" y="144" width="1.5" height="267" fill="url(#gp4)" opacity="0.33"/>
<rect x="521.4" y="144" width="1.0" height="267" fill="url(#gp0)" opacity="0.26"/>
<rect x="477.5" y="310" width="1.5" height="58" fill="url(#gp3)" opacity="0.19"/>
<rect x="209.7" y="329" width="1.0" height="82" fill="url(#gp3)" opacity="0.27"/>
<rect x="443.6" y="258" width="2.0" height="94" fill="url(#gp3)" opacity="0.24"/>
<rect x="204.8" y="231" width="1.0" height="180" fill="url(#gp1)" opacity="0.32"/>
<rect x="471.5" y="144" width="1.5" height="267" fill="url(#gb0)" opacity="0.15"/>
<rect x="264.7" y="144" width="1.0" height="267" fill="url(#gb4)" opacity="0.18"/>
<rect x="523.3" y="227" width="2.0" height="184" fill="url(#gp1)" opacity="0.12"/>
<rect x="482.9" y="144" width="1.5" height="267" fill="url(#gp0)" opacity="0.30"/>
<rect x="446.5" y="144" width="1.5" height="267" fill="url(#gb4)" opacity="0.18"/>
<rect x="452.3" y="168" width="2.0" height="243" fill="url(#gp1)" opacity="0.24"/>
<rect x="210.7" y="161" width="1.0" height="250" fill="url(#gp1)" opacity="0.18"/>
<rect x="474.8" y="144" width="1.0" height="267" fill="url(#gp4)" opacity="0.26"/>
<rect x="362.6" y="144" width="1.5" height="267" fill="url(#gp4)" opacity="0.27"/>
<rect x="466.0" y="289" width="1.5" height="122" fill="url(#gb1)" opacity="0.21"/>
<rect x="207.6" y="186" width="1.0" height="225" fill="url(#gb1)" opacity="0.29"/>
<rect x="298.9" y="237" width="2.0" height="174" fill="url(#gp1)" opacity="0.19"/>
<rect x="308.6" y="144" width="1.0" height="267" fill="url(#gp0)" opacity="0.18"/>
<rect x="260.6" y="144" width="1.5" height="267" fill="url(#gb0)" opacity="0.29"/>
<rect x="532.0" y="249" width="1.0" height="162" fill="url(#gp1)" opacity="0.14"/>
<rect x="243.2" y="144" width="1.0" height="267" fill="url(#gp4)" opacity="0.31"/>
<rect x="222.1" y="323" width="2.0" height="88" fill="url(#gp1)" opacity="0.12"/>
<rect x="841.7" y="237" width="1.0" height="82" fill="url(#gb3)" opacity="0.39"/>
<rect x="813.6" y="262" width="2.0" height="47" fill="url(#gb3)" opacity="0.27"/>
<rect x="642.8" y="345" width="1.0" height="66" fill="url(#gb1)" opacity="0.32"/>
<rect x="909.4" y="321" width="1.5" height="90" fill="url(#gb1)" opacity="0.33"/>
<rect x="993.5" y="230" width="2.0" height="181" fill="url(#gc0)" opacity="0.30"/>
<rect x="649.6" y="244" width="1.0" height="127" fill="url(#gc3)" opacity="0.37"/>
<rect x="777.6" y="296" width="1.5" height="115" fill="url(#gb1)" opacity="0.36"/>
<rect x="862.0" y="323" width="1.0" height="56" fill="url(#gb3)" opacity="0.22"/>
<rect x="653.8" y="234" width="1.0" height="93" fill="url(#gc3)" opacity="0.21"/>
<rect x="813.5" y="230" width="2.0" height="181" fill="url(#gb4)" opacity="0.20"/>
<rect x="823.0" y="274" width="2.0" height="63" fill="url(#gc3)" opacity="0.26"/>
<rect x="1090.3" y="230" width="1.5" height="181" fill="url(#gp0)" opacity="0.24"/>
<rect x="982.0" y="246" width="2.0" height="113" fill="url(#gb3)" opacity="0.35"/>
<rect x="834.2" y="230" width="1.0" height="181" fill="url(#gb0)" opacity="0.24"/>
<rect x="588.3" y="230" width="2.0" height="181" fill="url(#gb4)" opacity="0.26"/>
<rect x="876.9" y="230" width="1.0" height="181" fill="url(#gc0)" opacity="0.25"/>
<rect x="967.8" y="321" width="1.5" height="90" fill="url(#gb1)" opacity="0.27"/>
<rect x="1039.0" y="319" width="1.0" height="92" fill="url(#gp1)" opacity="0.23"/>
<rect x="635.3" y="324" width="2.0" height="63" fill="url(#gb3)" opacity="0.36"/>
<rect x="816.8" y="300" width="2.0" height="61" fill="url(#gb3)" opacity="0.42"/>
<rect x="615.7" y="343" width="1.5" height="68" fill="url(#gb1)" opacity="0.16"/>
<rect x="1055.8" y="230" width="1.0" height="181" fill="url(#gc0)" opacity="0.29"/>
<rect x="864.6" y="331" width="1.0" height="65" fill="url(#gb3)" opacity="0.39"/>
<rect x="782.0" y="330" width="1.5" height="81" fill="url(#gc3)" opacity="0.29"/>
<rect x="1069.1" y="344" width="1.5" height="67" fill="url(#gb1)" opacity="0.27"/>
<rect x="762.4" y="284" width="2.0" height="127" fill="url(#gb1)" opacity="0.27"/>
<rect x="793.7" y="230" width="1.5" height="181" fill="url(#gc0)" opacity="0.38"/>
<rect x="864.8" y="253" width="1.0" height="77" fill="url(#gc3)" opacity="0.23"/>
<rect x="724.1" y="269" width="1.0" height="142" fill="url(#gp1)" opacity="0.34"/>
<rect x="660.7" y="306" width="1.0" height="87" fill="url(#gb3)" opacity="0.34"/>
<rect x="578.4" y="261" width="1.5" height="150" fill="url(#gb1)" opacity="0.25"/>
<rect x="889.2" y="230" width="1.5" height="181" fill="url(#gc0)" opacity="0.17"/>
<rect x="1083.7" y="254" width="1.5" height="157" fill="url(#gb1)" opacity="0.45"/>
<rect x="714.8" y="326" width="1.0" height="47" fill="url(#gb3)" opacity="0.31"/>
<rect x="884.7" y="270" width="1.5" height="141" fill="url(#gb1)" opacity="0.15"/>
<rect x="579.0" y="230" width="1.5" height="181" fill="url(#gc4)" opacity="0.21"/>
<rect x="740.0" y="230" width="1.0" height="181" fill="url(#gb0)" opacity="0.28"/>
<rect x="670.6" y="230" width="2.0" height="181" fill="url(#gc4)" opacity="0.22"/>
<rect x="1078.8" y="239" width="1.5" height="91" fill="url(#gp3)" opacity="0.16"/>
<rect x="678.4" y="230" width="2.0" height="181" fill="url(#gb4)" opacity="0.18"/>
<rect x="644.1" y="270" width="1.5" height="141" fill="url(#gc1)" opacity="0.18"/>
<rect x="989.8" y="305" width="2.0" height="106" fill="url(#gc1)" opacity="0.18"/>
<rect x="700.6" y="313" width="1.5" height="98" fill="url(#gb3)" opacity="0.31"/>
<rect x="568.2" y="230" width="1.0" height="181" fill="url(#gb4)" opacity="0.19"/>
<rect x="934.3" y="276" width="2.0" height="68" fill="url(#gp3)" opacity="0.16"/>
<rect x="1019.7" y="335" width="1.0" height="76" fill="url(#gp1)" opacity="0.27"/>
<rect x="728.1" y="230" width="1.0" height="181" fill="url(#gc4)" opacity="0.21"/>
<rect x="944.7" y="321" width="1.0" height="90" fill="url(#gc3)" opacity="0.23"/>
<rect x="1067.1" y="230" width="1.0" height="181" fill="url(#gb4)" opacity="0.16"/>
<rect x="1094.8" y="230" width="1.5" height="181" fill="url(#gc4)" opacity="0.30"/>
<rect x="795.1" y="243" width="1.0" height="64" fill="url(#gp3)" opacity="0.27"/>
<rect x="1010.4" y="288" width="2.0" height="74" fill="url(#gp3)" opacity="0.40"/>
<rect x="567.6" y="230" width="1.5" height="181" fill="url(#gb4)" opacity="0.29"/>
<rect x="1086.6" y="230" width="1.0" height="181" fill="url(#gc0)" opacity="0.35"/>
<rect x="590.6" y="230" width="1.0" height="181" fill="url(#gc0)" opacity="0.31"/>
<rect x="766.0" y="309" width="2.0" height="102" fill="url(#gc1)" opacity="0.20"/>
<rect x="1049.6" y="286" width="1.0" height="125" fill="url(#gp1)" opacity="0.41"/>
<rect x="716.5" y="317" width="1.0" height="94" fill="url(#gp1)" opacity="0.25"/>
<rect x="885.4" y="230" width="1.0" height="181" fill="url(#gp0)" opacity="0.31"/>
<rect x="764.7" y="230" width="2.0" height="181" fill="url(#gp0)" opacity="0.23"/>
<rect x="896.5" y="327" width="1.0" height="84" fill="url(#gb3)" opacity="0.42"/>
<rect x="995.6" y="250" width="2.0" height="161" fill="url(#gb3)" opacity="0.41"/>
<rect x="895.8" y="293" width="1.0" height="118" fill="url(#gc1)" opacity="0.24"/>
<rect x="628.0" y="323" width="1.0" height="63" fill="url(#gb3)" opacity="0.15"/>
<rect x="702.4" y="230" width="1.5" height="181" fill="url(#gb4)" opacity="0.28"/>
<rect x="791.8" y="259" width="1.0" height="104" fill="url(#gc3)" opacity="0.29"/>
<rect x="1048.4" y="261" width="1.0" height="150" fill="url(#gp3)" opacity="0.27"/>
<rect x="832.8" y="240" width="1.0" height="62" fill="url(#gb3)" opacity="0.45"/>
<rect x="575.7" y="232" width="2.0" height="66" fill="url(#gc3)" opacity="0.21"/>
<rect x="606.7" y="269" width="1.0" height="142" fill="url(#gc1)" opacity="0.18"/>
<rect x="997.9" y="247" width="1.0" height="164" fill="url(#gc1)" opacity="0.31"/>
<rect x="899.9" y="269" width="2.0" height="122" fill="url(#gb3)" opacity="0.18"/>
<rect x="864.3" y="256" width="1.0" height="155" fill="url(#gb3)" opacity="0.37"/>
<rect x="788.8" y="248" width="1.5" height="142" fill="url(#gp3)" opacity="0.37"/>
<rect x="838.8" y="286" width="1.0" height="125" fill="url(#gb1)" opacity="0.24"/>
<rect x="1056.5" y="271" width="2.0" height="140" fill="url(#gp3)" opacity="0.43"/>
<rect x="576.2" y="237" width="1.0" height="120" fill="url(#gb3)" opacity="0.16"/>
<rect x="856.4" y="267" width="2.0" height="144" fill="url(#gp1)" opacity="0.33"/>
<rect x="1004.1" y="299" width="1.0" height="112" fill="url(#gc1)" opacity="0.15"/>
<rect x="761.0" y="230" width="2.0" height="181" fill="url(#gb4)" opacity="0.41"/>
<rect x="912.4" y="204" width="1.0" height="207" fill="url(#gb1)" opacity="0.28"/>
<rect x="604.7" y="237" width="1.0" height="174" fill="url(#gb1)" opacity="0.13"/>
<rect x="837.3" y="298" width="1.0" height="113" fill="url(#gb1)" opacity="0.27"/>
<rect x="591.9" y="230" width="2.0" height="163" fill="url(#gp3)" opacity="0.12"/>
<rect x="1031.7" y="307" width="1.0" height="104" fill="url(#gp1)" opacity="0.27"/>
<rect x="590.9" y="144" width="1.0" height="267" fill="url(#gp0)" opacity="0.16"/>
<rect x="879.3" y="146" width="1.0" height="71" fill="url(#gp3)" opacity="0.17"/>
<rect x="1001.7" y="301" width="1.5" height="110" fill="url(#gb1)" opacity="0.23"/>
<rect x="716.5" y="144" width="1.0" height="267" fill="url(#gp0)" opacity="0.28"/>
<rect x="883.0" y="144" width="1.0" height="267" fill="url(#gb0)" opacity="0.22"/>
<rect x="877.0" y="144" width="1.0" height="267" fill="url(#gb4)" opacity="0.18"/>
<rect x="891.3" y="241" width="2.0" height="170" fill="url(#gp1)" opacity="0.26"/>
<rect x="822.1" y="144" width="1.0" height="267" fill="url(#gp0)" opacity="0.27"/>
<rect x="720.5" y="249" width="1.0" height="162" fill="url(#gp1)" opacity="0.12"/>
<rect x="984.6" y="308" width="2.0" height="88" fill="url(#gb3)" opacity="0.13"/>
<rect x="1038.3" y="144" width="1.0" height="267" fill="url(#gp0)" opacity="0.20"/>
<rect x="693.3" y="333" width="2.0" height="78" fill="url(#gp1)" opacity="0.26"/>
<rect x="646.9" y="144" width="1.5" height="267" fill="url(#gp4)" opacity="0.12"/>
<rect x="835.8" y="144" width="2.0" height="267" fill="url(#gp4)" opacity="0.15"/>
<rect x="860.2" y="160" width="1.0" height="73" fill="url(#gb3)" opacity="0.12"/>
<rect x="944.4" y="311" width="1.0" height="100" fill="url(#gb3)" opacity="0.15"/>
<rect x="560.4" y="287" width="1.0" height="50" fill="url(#gp3)" opacity="0.24"/>
<rect x="1055.2" y="323" width="1.5" height="88" fill="url(#gp1)" opacity="0.27"/>
<rect x="753.5" y="172" width="2.0" height="239" fill="url(#gb1)" opacity="0.18"/>
<rect x="1097.7" y="340" width="1.0" height="71" fill="url(#gp1)" opacity="0.16"/>
<rect x="1099.7" y="144" width="1.5" height="267" fill="url(#gp4)" opacity="0.13"/>
<rect x="1054.4" y="144" width="1.0" height="267" fill="url(#gb0)" opacity="0.28"/>
<rect x="883.0" y="153" width="1.0" height="258" fill="url(#gp1)" opacity="0.12"/>
<rect x="829.9" y="296" width="1.0" height="115" fill="url(#gb1)" opacity="0.23"/>
<rect x="893.0" y="144" width="1.5" height="267" fill="url(#gb0)" opacity="0.12"/>
<rect x="847.9" y="176" width="2.0" height="106" fill="url(#gp3)" opacity="0.21"/>
<rect x="948.1" y="216" width="1.0" height="195" fill="url(#gb1)" opacity="0.12"/>
<rect x="942.0" y="144" width="2.0" height="267" fill="url(#gp4)" opacity="0.25"/>
<rect x="655.1" y="271" width="1.0" height="140" fill="url(#gp1)" opacity="0.30"/>
<rect x="931.2" y="241" width="1.5" height="170" fill="url(#gp1)" opacity="0.18"/>
<rect x="757.5" y="144" width="1.0" height="267" fill="url(#gp0)" opacity="0.13"/>
<rect x="797.7" y="320" width="1.0" height="91" fill="url(#gp1)" opacity="0.17"/>
<rect x="894.3" y="144" width="1.0" height="267" fill="url(#gb4)" opacity="0.21"/>
<rect x="799.5" y="170" width="1.5" height="194" fill="url(#gp3)" opacity="0.23"/>
<rect x="989.8" y="212" width="1.0" height="199" fill="url(#gp1)" opacity="0.24"/>
<rect x="1166.0" y="186" width="1.0" height="225" fill="url(#gc1)" opacity="0.22"/>
<rect x="1297.7" y="211" width="1.0" height="200" fill="url(#gp1)" opacity="0.40"/>
<rect x="1121.0" y="272" width="1.0" height="139" fill="url(#gc1)" opacity="0.33"/>
<rect x="1156.3" y="298" width="2.0" height="113" fill="url(#gc1)" opacity="0.31"/>
<rect x="1121.9" y="335" width="1.0" height="76" fill="url(#gc1)" opacity="0.47"/>
<rect x="1114.3" y="144" width="1.0" height="267" fill="url(#gp4)" opacity="0.31"/>
<rect x="1180.5" y="288" width="1.5" height="123" fill="url(#gb1)" opacity="0.39"/>
<rect x="1269.6" y="215" width="1.0" height="196" fill="url(#gp1)" opacity="0.38"/>
<rect x="1214.9" y="144" width="1.0" height="267" fill="url(#gb4)" opacity="0.35"/>
<rect x="1155.0" y="144" width="1.0" height="267" fill="url(#gb4)" opacity="0.47"/>
<rect x="1188.6" y="170" width="1.5" height="241" fill="url(#gb1)" opacity="0.47"/>
<rect x="1130.6" y="168" width="1.0" height="243" fill="url(#gb1)" opacity="0.30"/>
<rect x="1168.8" y="212" width="1.0" height="167" fill="url(#gb3)" opacity="0.24"/>
<rect x="1245.0" y="144" width="1.5" height="267" fill="url(#gb0)" opacity="0.45"/>
<rect x="1286.6" y="144" width="2.0" height="267" fill="url(#gb0)" opacity="0.50"/>
<rect x="1252.9" y="282" width="2.0" height="129" fill="url(#gb3)" opacity="0.27"/>
<rect x="1192.6" y="200" width="2.0" height="103" fill="url(#gp3)" opacity="0.21"/>
<rect x="1274.2" y="192" width="1.5" height="219" fill="url(#gb1)" opacity="0.40"/>
<rect x="1268.3" y="144" width="1.0" height="267" fill="url(#gb0)" opacity="0.32"/>
<rect x="1286.3" y="144" width="1.5" height="267" fill="url(#gb0)" opacity="0.27"/>
<rect x="1300.1" y="301" width="1.0" height="110" fill="url(#gc3)" opacity="0.26"/>
<rect x="1305.8" y="288" width="2.0" height="123" fill="url(#gp1)" opacity="0.45"/>
<rect x="1174.5" y="214" width="1.5" height="197" fill="url(#gc1)" opacity="0.30"/>
<rect x="1138.9" y="144" width="1.5" height="267" fill="url(#gb0)" opacity="0.33"/>
<rect x="1312.9" y="348" width="1.0" height="63" fill="url(#gc1)" opacity="0.27"/>
<rect x="1227.0" y="144" width="1.0" height="267" fill="url(#gb0)" opacity="0.23"/>
<rect x="1289.4" y="309" width="2.0" height="102" fill="url(#gc1)" opacity="0.33"/>
<rect x="1188.3" y="144" width="2.0" height="267" fill="url(#gb4)" opacity="0.29"/>
<rect x="1176.3" y="144" width="1.0" height="267" fill="url(#gp0)" opacity="0.48"/>
<rect x="1134.6" y="265" width="1.0" height="108" fill="url(#gb3)" opacity="0.26"/>
<rect x="1126.6" y="144" width="2.0" height="267" fill="url(#gp0)" opacity="0.32"/>
<rect x="1330.9" y="279" width="1.0" height="63" fill="url(#gc3)" opacity="0.37"/>
<rect x="1139.8" y="207" width="1.5" height="70" fill="url(#gb3)" opacity="0.23"/>
<rect x="1263.0" y="144" width="1.0" height="267" fill="url(#gb0)" opacity="0.28"/>
<rect x="1295.1" y="239" width="1.5" height="172" fill="url(#gc1)" opacity="0.40"/>
<rect x="1347.5" y="144" width="1.0" height="267" fill="url(#gc4)" opacity="0.35"/>
<rect x="1158.6" y="144" width="1.0" height="267" fill="url(#gb4)" opacity="0.49"/>
<rect x="1286.2" y="209" width="1.0" height="202" fill="url(#gc1)" opacity="0.32"/>
<rect x="1210.2" y="304" width="2.0" height="107" fill="url(#gb1)" opacity="0.22"/>
<rect x="1169.1" y="278" width="1.0" height="133" fill="url(#gb1)" opacity="0.42"/>
<rect x="1126.3" y="144" width="1.0" height="267" fill="url(#gb0)" opacity="0.28"/>
<rect x="1288.9" y="151" width="2.0" height="260" fill="url(#gp1)" opacity="0.29"/>
<rect x="1300.8" y="216" width="1.0" height="195" fill="url(#gp1)" opacity="0.31"/>
<rect x="1258.4" y="144" width="1.0" height="267" fill="url(#gp4)" opacity="0.20"/>
<rect x="1134.4" y="349" width="1.0" height="62" fill="url(#gc1)" opacity="0.22"/>
<rect x="1205.4" y="293" width="2.0" height="54" fill="url(#gt5)" opacity="0.61"/>
<rect x="1232.1" y="333" width="1.5" height="52" fill="url(#gc5)" opacity="0.64"/>
<rect x="1219.4" y="293" width="1.0" height="41" fill="url(#gt5)" opacity="0.43"/>
<rect x="1209.4" y="327" width="1.0" height="31" fill="url(#gc5)" opacity="0.39"/>
<rect x="1242.0" y="302" width="1.0" height="63" fill="url(#gt5)" opacity="0.44"/>
<rect x="1246.2" y="291" width="1.0" height="83" fill="url(#gc5)" opacity="0.47"/>
<rect x="1229.5" y="329" width="2.0" height="56" fill="url(#gt5)" opacity="0.69"/>
<rect x="1213.3" y="305" width="2.0" height="76" fill="url(#gc5)" opacity="0.68"/>
<rect x="1186.7" y="311" width="1.0" height="74" fill="url(#gc5)" opacity="0.73"/>
<rect x="1255.3" y="302" width="1.0" height="52" fill="url(#gt5)" opacity="0.35"/>
<rect x="1244.1" y="304" width="1.5" height="49" fill="url(#gc5)" opacity="0.64"/>
<rect x="1175.5" y="328" width="1.0" height="57" fill="url(#gt5)" opacity="0.57"/>
<rect x="1193.5" y="313" width="1.0" height="40" fill="url(#gt5)" opacity="0.44"/>
<rect x="1206.5" y="308" width="2.0" height="57" fill="url(#gc5)" opacity="0.46"/>
<rect x="1206.9" y="318" width="1.0" height="60" fill="url(#gt5)" opacity="0.43"/>
<rect x="1241.0" y="322" width="1.0" height="63" fill="url(#gc5)" opacity="0.69"/>
<rect x="1242.3" y="297" width="1.0" height="72" fill="url(#gt5)" opacity="0.45"/>
<rect x="1196.4" y="291" width="1.5" height="69" fill="url(#gc5)" opacity="0.65"/>
<rect x="1239.4" y="328" width="1.0" height="32" fill="url(#gc5)" opacity="0.43"/>
<rect x="1197.2" y="314" width="1.0" height="51" fill="url(#gc5)" opacity="0.61"/>
<rect x="1219.1" y="322" width="1.0" height="63" fill="url(#gc5)" opacity="0.64"/>
<rect x="1180.7" y="302" width="1.5" height="56" fill="url(#gt5)" opacity="0.56"/>
<rect x="1218.0" y="306" width="2.0" height="77" fill="url(#gc5)" opacity="0.52"/>
<rect x="1178.2" y="291" width="1.0" height="89" fill="url(#gc5)" opacity="0.47"/>
<rect x="1219.6" y="331" width="1.0" height="54" fill="url(#gc5)" opacity="0.42"/>
<rect x="1209.7" y="320" width="1.0" height="65" fill="url(#gc5)" opacity="0.65"/>
<rect x="1536.7" y="144" width="1.0" height="197" fill="url(#gy2)" opacity="0.41"/>
<rect x="1480.4" y="148" width="1.0" height="237" fill="url(#go3)" opacity="0.28"/>
<rect x="1461.5" y="144" width="1.0" height="155" fill="url(#go2)" opacity="0.32"/>
<rect x="1531.7" y="180" width="2.0" height="205" fill="url(#gy3)" opacity="0.41"/>
<rect x="1436.6" y="144" width="1.0" height="217" fill="url(#gy2)" opacity="0.45"/>
<rect x="1454.7" y="234" width="2.0" height="151" fill="url(#gy3)" opacity="0.34"/>
<rect x="1557.4" y="232" width="1.0" height="153" fill="url(#go3)" opacity="0.34"/>
<rect x="1484.1" y="144" width="1.0" height="175" fill="url(#go2)" opacity="0.27"/>
<rect x="1557.7" y="144" width="1.0" height="198" fill="url(#gy2)" opacity="0.29"/>
<rect x="1451.8" y="266" width="1.0" height="119" fill="url(#go3)" opacity="0.49"/>
<rect x="1571.3" y="219" width="1.0" height="166" fill="url(#go3)" opacity="0.27"/>
<rect x="1590.6" y="144" width="1.0" height="211" fill="url(#gy2)" opacity="0.38"/>
<rect x="1459.3" y="144" width="1.0" height="205" fill="url(#gy2)" opacity="0.23"/>
<rect x="1578.7" y="144" width="2.0" height="231" fill="url(#go2)" opacity="0.48"/>
<rect x="1581.3" y="144" width="1.0" height="154" fill="url(#go2)" opacity="0.34"/>
<rect x="1417.3" y="144" width="2.0" height="180" fill="url(#gy2)" opacity="0.26"/>
<rect x="1407.7" y="144" width="2.0" height="232" fill="url(#go2)" opacity="0.41"/>
<rect x="1477.2" y="203" width="1.0" height="182" fill="url(#gy3)" opacity="0.45"/>
<rect x="1586.2" y="144" width="2.0" height="232" fill="url(#gy2)" opacity="0.48"/>
<rect x="1472.7" y="251" width="1.5" height="77" fill="url(#go3)" opacity="0.37"/>
<rect x="1465.1" y="144" width="1.0" height="169" fill="url(#gy2)" opacity="0.21"/>
<rect x="1471.8" y="144" width="2.0" height="192" fill="url(#gy2)" opacity="0.49"/>
<rect x="1406.3" y="161" width="2.0" height="224" fill="url(#go3)" opacity="0.48"/>
<rect x="1567.7" y="245" width="1.0" height="140" fill="url(#gy3)" opacity="0.41"/>
<rect x="1464.8" y="144" width="1.0" height="177" fill="url(#gy2)" opacity="0.25"/>
<rect x="1581.4" y="144" width="1.0" height="213" fill="url(#gy2)" opacity="0.35"/>
<rect x="1459.8" y="199" width="2.0" height="133" fill="url(#gy3)" opacity="0.48"/>
<rect x="1463.0" y="144" width="1.0" height="217" fill="url(#gy2)" opacity="0.44"/>
<rect x="1568.3" y="321" width="2.0" height="64" fill="url(#gy3)" opacity="0.28"/>
<rect x="1506.7" y="144" width="2.0" height="191" fill="url(#gy2)" opacity="0.42"/>
<rect x="1556.8" y="184" width="1.0" height="87" fill="url(#go3)" opacity="0.45"/>
<rect x="1579.4" y="144" width="1.0" height="193" fill="url(#go2)" opacity="0.45"/>
<rect x="1474.7" y="229" width="1.5" height="156" fill="url(#gy3)" opacity="0.47"/>
<rect x="1480.0" y="204" width="2.0" height="181" fill="url(#gy3)" opacity="0.36"/>
<rect x="1523.2" y="144" width="1.5" height="240" fill="url(#gy2)" opacity="0.49"/>
<rect x="1412.3" y="167" width="1.0" height="218" fill="url(#gy3)" opacity="0.45"/>
<rect x="1489.4" y="241" width="2.0" height="144" fill="url(#gy3)" opacity="0.21"/>
<rect x="1565.4" y="187" width="1.5" height="166" fill="url(#go3)" opacity="0.46"/>
<rect x="1474.2" y="144" width="1.5" height="152" fill="url(#gy2)" opacity="0.27"/>
<rect x="1469.6" y="221" width="1.0" height="164" fill="url(#gy3)" opacity="0.37"/>
<rect x="1460.5" y="229" width="1.0" height="156" fill="url(#go3)" opacity="0.38"/>
<rect x="1487.4" y="187" width="1.0" height="123" fill="url(#go3)" opacity="0.41"/>
<rect x="1421.9" y="188" width="1.0" height="197" fill="url(#gy3)" opacity="0.43"/>
<rect x="1564.0" y="158" width="2.0" height="124" fill="url(#gy3)" opacity="0.42"/>
<rect x="1583.8" y="214" width="1.5" height="171" fill="url(#go3)" opacity="0.37"/>
<rect x="1513.2" y="277" width="1.5" height="108" fill="url(#gy3)" opacity="0.48"/>
<rect x="1417.9" y="280" width="2.0" height="105" fill="url(#gy3)" opacity="0.29"/>
<rect x="1496.1" y="144" width="1.5" height="177" fill="url(#gy2)" opacity="0.35"/>
<rect x="1571.0" y="188" width="2.0" height="197" fill="url(#go3)" opacity="0.29"/>
<rect x="1513.0" y="286" width="1.0" height="80" fill="url(#gy3)" opacity="0.42"/>
<rect x="1528.8" y="306" width="1.5" height="79" fill="url(#gy3)" opacity="0.34"/>
<rect x="1583.6" y="144" width="1.0" height="220" fill="url(#gy2)" opacity="0.29"/>
<rect x="1519.1" y="144" width="1.0" height="219" fill="url(#gy2)" opacity="0.42"/>
<rect x="1433.3" y="309" width="1.0" height="76" fill="url(#gy3)" opacity="0.46"/>
<rect x="1502.9" y="144" width="1.0" height="167" fill="url(#gy2)" opacity="0.35"/>
<rect x="1450.0" y="144" width="1.0" height="157" fill="url(#gy2)" opacity="0.34"/>
<rect x="1540.7" y="287" width="1.0" height="98" fill="url(#go3)" opacity="0.47"/>
<rect x="1491.7" y="144" width="1.5" height="198" fill="url(#gy2)" opacity="0.49"/>
<rect x="1521.8" y="201" width="1.5" height="184" fill="url(#go3)" opacity="0.45"/>
<rect x="1408.6" y="144" width="1.0" height="174" fill="url(#go2)" opacity="0.48"/>
<rect x="1409.7" y="271" width="1.0" height="114" fill="url(#gy3)" opacity="0.43"/>
<rect x="1479.7" y="164" width="1.0" height="50" fill="url(#gy3)" opacity="0.27"/>
<rect x="1501.1" y="246" width="1.0" height="139" fill="url(#gy3)" opacity="0.36"/>
<rect x="1540.2" y="144" width="2.0" height="159" fill="url(#gy2)" opacity="0.26"/>
<rect x="1557.6" y="152" width="1.5" height="233" fill="url(#gy3)" opacity="0.47"/>
<rect x="1479.5" y="243" width="1.5" height="142" fill="url(#gy3)" opacity="0.45"/>
<rect x="1527.0" y="144" width="2.0" height="205" fill="url(#gy2)" opacity="0.31"/>
<rect x="1419.7" y="192" width="1.5" height="193" fill="url(#go3)" opacity="0.43"/>
<rect x="1428.9" y="194" width="1.0" height="122" fill="url(#gy3)" opacity="0.26"/>
<rect x="1445.7" y="151" width="1.0" height="234" fill="url(#go3)" opacity="0.45"/>
<rect x="1641.2" y="192" width="1.0" height="219" fill="url(#gk1)" opacity="0.16"/>
<rect x="1449.1" y="144" width="1.0" height="267" fill="url(#gd4)" opacity="0.28"/>
<rect x="1548.2" y="144" width="1.0" height="267" fill="url(#gd4)" opacity="0.25"/>
<rect x="1446.3" y="144" width="1.5" height="267" fill="url(#gk4)" opacity="0.21"/>
<rect x="1389.1" y="144" width="1.5" height="267" fill="url(#gd0)" opacity="0.27"/>
<rect x="1500.1" y="257" width="1.0" height="72" fill="url(#gk3)" opacity="0.26"/>
<rect x="1389.4" y="168" width="1.5" height="243" fill="url(#gd1)" opacity="0.14"/>
<rect x="1543.9" y="225" width="1.0" height="186" fill="url(#gk1)" opacity="0.16"/>
<rect x="1506.2" y="152" width="1.5" height="185" fill="url(#gd3)" opacity="0.32"/>
<rect x="1455.7" y="266" width="1.0" height="86" fill="url(#gd3)" opacity="0.24"/>
<rect x="1608.5" y="149" width="1.5" height="262" fill="url(#gk1)" opacity="0.29"/>
<rect x="1580.2" y="273" width="1.0" height="60" fill="url(#gk3)" opacity="0.23"/>
<rect x="1554.5" y="346" width="1.0" height="65" fill="url(#gd1)" opacity="0.25"/>
<rect x="1500.6" y="144" width="1.0" height="267" fill="url(#gk0)" opacity="0.29"/>
<rect x="1569.9" y="263" width="1.0" height="148" fill="url(#gk1)" opacity="0.23"/>
<rect x="1567.7" y="241" width="1.0" height="170" fill="url(#gd1)" opacity="0.25"/>
<rect x="1418.3" y="144" width="2.0" height="267" fill="url(#gd0)" opacity="0.29"/>
<rect x="1562.4" y="165" width="1.0" height="246" fill="url(#gd1)" opacity="0.21"/>
<rect x="1604.5" y="221" width="1.5" height="190" fill="url(#gk1)" opacity="0.15"/>
<rect x="1536.5" y="198" width="1.0" height="213" fill="url(#gd1)" opacity="0.26"/>
<rect x="1447.6" y="144" width="1.0" height="267" fill="url(#gd4)" opacity="0.27"/>
<rect x="1464.0" y="278" width="1.5" height="133" fill="url(#gd3)" opacity="0.19"/>
<rect x="1598.0" y="312" width="1.0" height="99" fill="url(#gd3)" opacity="0.29"/>
<rect x="1512.7" y="144" width="1.0" height="267" fill="url(#gk0)" opacity="0.28"/>
<rect x="1397.0" y="302" width="2.0" height="109" fill="url(#gd1)" opacity="0.15"/>
<rect x="1632.7" y="285" width="1.0" height="118" fill="url(#gd3)" opacity="0.19"/>
<rect x="1383.8" y="304" width="1.0" height="107" fill="url(#gd1)" opacity="0.30"/>
<rect x="1461.1" y="144" width="1.0" height="267" fill="url(#gd4)" opacity="0.31"/>
<rect x="1620.6" y="276" width="1.0" height="135" fill="url(#gd3)" opacity="0.29"/>
<rect x="1510.6" y="323" width="1.0" height="88" fill="url(#gd1)" opacity="0.30"/>
<rect x="1402.2" y="144" width="1.5" height="267" fill="url(#gk0)" opacity="0.16"/>
<rect x="1521.1" y="144" width="1.0" height="267" fill="url(#gk0)" opacity="0.14"/>
<rect x="1449.5" y="144" width="1.0" height="267" fill="url(#gk4)" opacity="0.24"/>
<rect x="1370.3" y="330" width="1.0" height="81" fill="url(#gd3)" opacity="0.15"/>
<rect x="1576.1" y="144" width="1.0" height="267" fill="url(#gd0)" opacity="0.22"/>
<rect x="1621.8" y="157" width="1.0" height="254" fill="url(#gk1)" opacity="0.30"/>
<rect x="1640.1" y="144" width="1.5" height="267" fill="url(#gd4)" opacity="0.26"/>
<rect x="1494.9" y="144" width="1.0" height="267" fill="url(#gk0)" opacity="0.18"/>
<rect x="1370.3" y="146" width="1.0" height="156" fill="url(#gd3)" opacity="0.28"/>
<rect x="1472.6" y="144" width="1.0" height="267" fill="url(#gd0)" opacity="0.26"/>
<rect x="1567.6" y="306" width="1.5" height="105" fill="url(#gd3)" opacity="0.26"/>
<rect x="1435.1" y="329" width="1.0" height="82" fill="url(#gd1)" opacity="0.18"/>
<rect x="1638.9" y="167" width="2.0" height="244" fill="url(#gd1)" opacity="0.16"/>
<rect x="1576.1" y="184" width="1.0" height="227" fill="url(#gd1)" opacity="0.29"/>
<rect x="1379.7" y="272" width="1.0" height="139" fill="url(#gd3)" opacity="0.32"/>
<rect x="1362.7" y="284" width="1.0" height="127" fill="url(#gd3)" opacity="0.13"/>
<rect x="1380.2" y="198" width="1.5" height="213" fill="url(#gd1)" opacity="0.12"/>
<rect x="1509.6" y="208" width="1.5" height="169" fill="url(#gk3)" opacity="0.14"/>
<rect x="1498.3" y="249" width="1.0" height="78" fill="url(#gd3)" opacity="0.31"/>
<rect x="1552.4" y="215" width="1.0" height="191" fill="url(#gd3)" opacity="0.18"/>
<rect x="1639.5" y="198" width="1.0" height="108" fill="url(#gd3)" opacity="0.25"/>
<rect x="1369.2" y="144" width="1.0" height="267" fill="url(#gd0)" opacity="0.27"/>
<rect x="1419.7" y="193" width="1.0" height="218" fill="url(#gd1)" opacity="0.31"/>
<rect x="1502.2" y="298" width="1.0" height="82" fill="url(#gd3)" opacity="0.14"/>
<rect x="1490.6" y="144" width="1.5" height="267" fill="url(#gd4)" opacity="0.25"/>
<rect x="1475.3" y="244" width="2.0" height="68" fill="url(#gd3)" opacity="0.32"/>
<rect x="1629.8" y="243" width="1.0" height="88" fill="url(#gd3)" opacity="0.25"/>
<rect x="1399.6" y="144" width="2.0" height="267" fill="url(#gd4)" opacity="0.12"/>
<rect x="1562.1" y="305" width="1.0" height="106" fill="url(#gd1)" opacity="0.29"/>
<rect x="1533.4" y="336" width="1.0" height="75" fill="url(#gk1)" opacity="0.30"/>
<rect x="1544.5" y="338" width="1.0" height="41" fill="url(#gt5)" opacity="0.47"/>
<rect x="1542.6" y="337" width="1.0" height="46" fill="url(#gt5)" opacity="0.49"/>
<rect x="1619.3" y="338" width="1.0" height="73" fill="url(#gc5)" opacity="0.45"/>
<rect x="1547.3" y="352" width="1.0" height="48" fill="url(#gb5)" opacity="0.28"/>
<rect x="1542.0" y="358" width="1.0" height="53" fill="url(#gt5)" opacity="0.44"/>
<rect x="1560.2" y="361" width="2.0" height="50" fill="url(#gc5)" opacity="0.44"/>
<rect x="1637.1" y="350" width="1.0" height="53" fill="url(#gb5)" opacity="0.37"/>
<rect x="1588.0" y="354" width="1.0" height="57" fill="url(#gt5)" opacity="0.46"/>
<rect x="1555.9" y="359" width="1.5" height="52" fill="url(#gt5)" opacity="0.30"/>
<rect x="1601.8" y="358" width="1.5" height="53" fill="url(#gb5)" opacity="0.32"/>
<rect x="1630.5" y="342" width="2.0" height="47" fill="url(#gb5)" opacity="0.31"/>
<rect x="1630.5" y="357" width="1.0" height="53" fill="url(#gb5)" opacity="0.36"/>
<rect x="1598.9" y="338" width="1.5" height="46" fill="url(#gt5)" opacity="0.38"/>
<rect x="1550.5" y="344" width="1.0" height="67" fill="url(#gb5)" opacity="0.28"/>
<rect x="1582.6" y="358" width="2.0" height="53" fill="url(#gc5)" opacity="0.28"/>
<rect x="1626.7" y="335" width="1.5" height="58" fill="url(#gc5)" opacity="0.42"/>
<rect x="1622.9" y="356" width="1.0" height="55" fill="url(#gb5)" opacity="0.42"/>
<rect x="1628.6" y="357" width="1.0" height="54" fill="url(#gc5)" opacity="0.34"/>
<rect x="1594.9" y="358" width="2.0" height="40" fill="url(#gt5)" opacity="0.44"/>
<rect x="1612.2" y="345" width="1.5" height="46" fill="url(#gt5)" opacity="0.26"/>
<rect x="1621.3" y="336" width="1.0" height="66" fill="url(#gc5)" opacity="0.35"/>
<rect x="1623.9" y="338" width="1.0" height="34" fill="url(#gc5)" opacity="0.47"/>
<rect x="1637.3" y="352" width="1.0" height="59" fill="url(#gc5)" opacity="0.35"/>
<rect x="1577.0" y="343" width="1.0" height="60" fill="url(#gc5)" opacity="0.26"/>
<rect x="1580.9" y="355" width="1.0" height="56" fill="url(#gt5)" opacity="0.42"/>
<linearGradient id="h1b" gradientUnits="userSpaceOnUse" x1="198" y1="0" x2="1210" y2="0"><stop offset="0.0000" stop-color="#55008a" stop-opacity="1.00"/><stop offset="0.0035" stop-color="#2b02a6" stop-opacity="1.00"/><stop offset="0.0069" stop-color="#0a0ec4" stop-opacity="1.00"/><stop offset="0.0514" stop-color="#0717cb" stop-opacity="1.00"/><stop offset="0.0909" stop-color="#0252d8" stop-opacity="1.00"/><stop offset="0.1304" stop-color="#0431d4" stop-opacity="1.00"/><stop offset="0.1551" stop-color="#0f09bd" stop-opacity="1.00"/><stop offset="0.1798" stop-color="#0717cb" stop-opacity="1.00"/><stop offset="0.2589" stop-color="#0431d4" stop-opacity="1.00"/><stop offset="0.3182" stop-color="#0a0ec4" stop-opacity="1.00"/><stop offset="0.3577" stop-color="#0341d7" stop-opacity="1.00"/><stop offset="0.4170" stop-color="#0252d8" stop-opacity="1.00"/><stop offset="0.4960" stop-color="#0431d4" stop-opacity="1.00"/><stop offset="0.5133" stop-color="#0912c8" stop-opacity="1.00"/><stop offset="0.5306" stop-color="#1605b5" stop-opacity="1.00"/><stop offset="0.5331" stop-color="#440199" stop-opacity="1.00"/><stop offset="0.5356" stop-color="#540079" stop-opacity="0.83"/><stop offset="0.5380" stop-color="#2b0039" stop-opacity="0.17"/><stop offset="0.5405" stop-color="#050007" stop-opacity="0.00"/><stop offset="0.5479" stop-color="#010002" stop-opacity="0.00"/><stop offset="0.5553" stop-color="#010001" stop-opacity="0.00"/><stop offset="0.6067" stop-color="#010001" stop-opacity="0.00"/><stop offset="0.6107" stop-color="#010002" stop-opacity="0.00"/><stop offset="0.6818" stop-color="#010001" stop-opacity="0.00"/><stop offset="0.7233" stop-color="#010001" stop-opacity="0.00"/><stop offset="0.7258" stop-color="#010002" stop-opacity="0.00"/><stop offset="0.7283" stop-color="#130018" stop-opacity="0.00"/><stop offset="0.7530" stop-color="#45005e" stop-opacity="0.50"/><stop offset="0.7826" stop-color="#2b0039" stop-opacity="0.17"/><stop offset="0.8172" stop-color="#130018" stop-opacity="0.00"/><stop offset="0.8246" stop-color="#010002" stop-opacity="0.00"/><stop offset="0.8320" stop-color="#010001" stop-opacity="0.00"/><stop offset="0.8913" stop-color="#000001" stop-opacity="0.00"/><stop offset="0.9506" stop-color="#000001" stop-opacity="0.00"/><stop offset="0.9901" stop-color="#000000" stop-opacity="0.00"/><stop offset="0.9926" stop-color="#000000" stop-opacity="0.00"/><stop offset="0.9951" stop-color="#000000" stop-opacity="0.00"/><stop offset="0.9975" stop-color="#000000" stop-opacity="0.00"/><stop offset="1.0000" stop-color="#000000" stop-opacity="0.00"/></linearGradient>
<rect x="198" y="215.25" width="1012" height="7.5" fill="url(#h1b)" opacity="1.0"/>
<linearGradient id="h1c" gradientUnits="userSpaceOnUse" x1="198" y1="0" x2="1210" y2="0"><stop offset="0.0000" stop-color="#0168d9" stop-opacity="1.00"/><stop offset="0.0035" stop-color="#0091cc" stop-opacity="1.00"/><stop offset="0.0069" stop-color="#00a3aa" stop-opacity="1.00"/><stop offset="0.0514" stop-color="#00a59f" stop-opacity="1.00"/><stop offset="0.0909" stop-color="#00a667" stop-opacity="1.00"/><stop offset="0.1304" stop-color="#00a787" stop-opacity="1.00"/><stop offset="0.1551" stop-color="#00a0b4" stop-opacity="1.00"/><stop offset="0.1798" stop-color="#00a59f" stop-opacity="1.00"/><stop offset="0.2589" stop-color="#00a787" stop-opacity="1.00"/><stop offset="0.3182" stop-color="#00a3aa" stop-opacity="1.00"/><stop offset="0.3577" stop-color="#00a778" stop-opacity="1.00"/><stop offset="0.4170" stop-color="#00a667" stop-opacity="1.00"/><stop offset="0.4960" stop-color="#00a787" stop-opacity="1.00"/><stop offset="0.5133" stop-color="#00a4a4" stop-opacity="1.00"/><stop offset="0.5306" stop-color="#009cbd" stop-opacity="1.00"/><stop offset="0.5331" stop-color="#0081d5" stop-opacity="1.00"/><stop offset="0.5356" stop-color="#0248d8" stop-opacity="1.00"/><stop offset="0.5380" stop-color="#0911c7" stop-opacity="1.00"/><stop offset="0.5405" stop-color="#2602a9" stop-opacity="1.00"/><stop offset="0.5479" stop-color="#4a0095" stop-opacity="1.00"/><stop offset="0.5553" stop-color="#55007d" stop-opacity="0.90"/><stop offset="0.6067" stop-color="#490064" stop-opacity="0.57"/><stop offset="0.6107" stop-color="#52008d" stop-opacity="1.00"/><stop offset="0.6818" stop-color="#490064" stop-opacity="0.57"/><stop offset="0.7233" stop-color="#55007d" stop-opacity="0.90"/><stop offset="0.7258" stop-color="#3f019b" stop-opacity="1.00"/><stop offset="0.7283" stop-color="#1306b8" stop-opacity="1.00"/><stop offset="0.7530" stop-color="#0528d2" stop-opacity="1.00"/><stop offset="0.7826" stop-color="#0911c7" stop-opacity="1.00"/><stop offset="0.8172" stop-color="#1306b8" stop-opacity="1.00"/><stop offset="0.8246" stop-color="#3f019b" stop-opacity="1.00"/><stop offset="0.8320" stop-color="#55007d" stop-opacity="0.90"/><stop offset="0.8913" stop-color="#300041" stop-opacity="0.23"/><stop offset="0.9506" stop-color="#300041" stop-opacity="0.23"/><stop offset="0.9901" stop-color="#07000a" stop-opacity="0.00"/><stop offset="0.9926" stop-color="#010002" stop-opacity="0.00"/><stop offset="0.9951" stop-color="#010001" stop-opacity="0.00"/><stop offset="0.9975" stop-color="#000001" stop-opacity="0.00"/><stop offset="1.0000" stop-color="#000000" stop-opacity="0.00"/></linearGradient>
<rect x="198" y="216.95" width="1012" height="4.10" fill="url(#h1c)" opacity="1.0"/>
<linearGradient id="h1a" gradientUnits="userSpaceOnUse" x1="198" y1="0" x2="1210" y2="0"><stop offset="0.0000" stop-color="#00aa1a" stop-opacity="1.00"/><stop offset="0.0035" stop-color="#01c105" stop-opacity="1.00"/><stop offset="0.0069" stop-color="#09dd01" stop-opacity="1.00"/><stop offset="0.0514" stop-color="#0de300" stop-opacity="1.00"/><stop offset="0.0909" stop-color="#42f600" stop-opacity="1.00"/><stop offset="0.1304" stop-color="#1fef00" stop-opacity="1.00"/><stop offset="0.1551" stop-color="#06d601" stop-opacity="1.00"/><stop offset="0.1798" stop-color="#0de300" stop-opacity="1.00"/><stop offset="0.2589" stop-color="#1fef00" stop-opacity="1.00"/><stop offset="0.3182" stop-color="#09dd01" stop-opacity="1.00"/><stop offset="0.3577" stop-color="#2ef300" stop-opacity="1.00"/><stop offset="0.4170" stop-color="#42f600" stop-opacity="1.00"/><stop offset="0.4960" stop-color="#1fef00" stop-opacity="1.00"/><stop offset="0.5133" stop-color="#0be000" stop-opacity="1.00"/><stop offset="0.5306" stop-color="#04cf02" stop-opacity="1.00"/><stop offset="0.5331" stop-color="#00b40b" stop-opacity="1.00"/><stop offset="0.5356" stop-color="#00a636" stop-opacity="1.00"/><stop offset="0.5380" stop-color="#00a77e" stop-opacity="1.00"/><stop offset="0.5405" stop-color="#00a2ae" stop-opacity="1.00"/><stop offset="0.5479" stop-color="#0095c8" stop-opacity="1.00"/><stop offset="0.5553" stop-color="#007dd7" stop-opacity="1.00"/><stop offset="0.6067" stop-color="#0163d9" stop-opacity="1.00"/><stop offset="0.6107" stop-color="#008ecf" stop-opacity="1.00"/><stop offset="0.6818" stop-color="#0163d9" stop-opacity="1.00"/><stop offset="0.7233" stop-color="#007dd7" stop-opacity="1.00"/><stop offset="0.7258" stop-color="#009ac1" stop-opacity="1.00"/><stop offset="0.7283" stop-color="#00a698" stop-opacity="1.00"/><stop offset="0.7530" stop-color="#00a65c" stop-opacity="1.00"/><stop offset="0.7826" stop-color="#00a77e" stop-opacity="1.00"/><stop offset="0.8172" stop-color="#00a698" stop-opacity="1.00"/><stop offset="0.8246" stop-color="#009ac1" stop-opacity="1.00"/><stop offset="0.8320" stop-color="#007dd7" stop-opacity="1.00"/><stop offset="0.8913" stop-color="#0341d7" stop-opacity="1.00"/><stop offset="0.9506" stop-color="#0341d7" stop-opacity="1.00"/><stop offset="0.9901" stop-color="#0a0ec4" stop-opacity="1.00"/><stop offset="0.9926" stop-color="#2802a8" stop-opacity="1.00"/><stop offset="0.9951" stop-color="#52008e" stop-opacity="1.00"/><stop offset="0.9975" stop-color="#4c0069" stop-opacity="0.62"/><stop offset="1.0000" stop-color="#1e0027" stop-opacity="0.00"/></linearGradient>
<rect x="198" y="218.05" width="1012" height="1.9" fill="url(#h1a)" opacity="1.0"/>
<linearGradient id="h2a" gradientUnits="userSpaceOnUse" x1="198" y1="0" x2="1210" y2="0"><stop offset="0.0000" stop-color="#0a0ec4" stop-opacity="1.00"/><stop offset="0.0035" stop-color="#0429d3" stop-opacity="1.00"/><stop offset="0.0069" stop-color="#0252d8" stop-opacity="1.00"/><stop offset="0.1304" stop-color="#0341d7" stop-opacity="1.00"/><stop offset="0.1996" stop-color="#0717cb" stop-opacity="1.00"/><stop offset="0.5356" stop-color="#0a0ec4" stop-opacity="1.00"/><stop offset="0.5949" stop-color="#2b02a6" stop-opacity="1.00"/><stop offset="0.7233" stop-color="#0a0ec4" stop-opacity="1.00"/><stop offset="0.8221" stop-color="#0431d4" stop-opacity="1.00"/><stop offset="0.9901" stop-color="#0717cb" stop-opacity="1.00"/><stop offset="0.9926" stop-color="#1f03ad" stop-opacity="1.00"/><stop offset="0.9951" stop-color="#4e0092" stop-opacity="1.00"/><stop offset="0.9975" stop-color="#4e006c" stop-opacity="0.67"/><stop offset="1.0000" stop-color="#1e0027" stop-opacity="0.00"/></linearGradient>
<rect x="198" y="225.80" width="1012" height="1.6" fill="url(#h2a)" opacity="0.75"/>
<linearGradient id="h3a" gradientUnits="userSpaceOnUse" x1="198" y1="0" x2="620" y2="0"><stop offset="0.0000" stop-color="#55008a" stop-opacity="1.00"/><stop offset="0.0166" stop-color="#37019f" stop-opacity="1.00"/><stop offset="0.7156" stop-color="#440199" stop-opacity="1.00"/><stop offset="0.8104" stop-color="#560082" stop-opacity="1.00"/><stop offset="0.9052" stop-color="#45005e" stop-opacity="0.50"/><stop offset="1.0000" stop-color="#1e0027" stop-opacity="0.00"/></linearGradient>
<rect x="198" y="241.55" width="422" height="1.5" fill="url(#h3a)" opacity="0.6"/>
<linearGradient id="h4a" gradientUnits="userSpaceOnUse" x1="198" y1="0" x2="1140" y2="0"><stop offset="0.0000" stop-color="#0a0ec4" stop-opacity="1.00"/><stop offset="0.0037" stop-color="#0429d3" stop-opacity="1.00"/><stop offset="0.0074" stop-color="#0252d8" stop-opacity="1.00"/><stop offset="0.1401" stop-color="#0341d7" stop-opacity="1.00"/><stop offset="0.2357" stop-color="#0a0ec4" stop-opacity="1.00"/><stop offset="0.5754" stop-color="#0717cb" stop-opacity="1.00"/><stop offset="0.6550" stop-color="#0f09bd" stop-opacity="1.00"/><stop offset="0.7771" stop-color="#0522d1" stop-opacity="1.00"/><stop offset="0.8832" stop-color="#0341d7" stop-opacity="1.00"/><stop offset="0.8992" stop-color="#0717cb" stop-opacity="1.00"/><stop offset="0.9151" stop-color="#1605b5" stop-opacity="1.00"/><stop offset="0.9522" stop-color="#37019f" stop-opacity="1.00"/><stop offset="0.9894" stop-color="#55008a" stop-opacity="1.00"/><stop offset="0.9947" stop-color="#490065" stop-opacity="0.58"/><stop offset="1.0000" stop-color="#1e0027" stop-opacity="0.00"/></linearGradient>
<rect x="198" y="248.10" width="942" height="1.8" fill="url(#h4a)" opacity="0.75"/>
<linearGradient id="h5a" gradientUnits="userSpaceOnUse" x1="198" y1="0" x2="1080" y2="0"><stop offset="0.0000" stop-color="#1f03ad" stop-opacity="1.00"/><stop offset="0.0079" stop-color="#0f09bd" stop-opacity="1.00"/><stop offset="0.1497" stop-color="#1605b5" stop-opacity="1.00"/><stop offset="0.4104" stop-color="#37019f" stop-opacity="1.00"/><stop offset="0.6145" stop-color="#440199" stop-opacity="1.00"/><stop offset="0.8299" stop-color="#440199" stop-opacity="1.00"/><stop offset="0.9093" stop-color="#37019f" stop-opacity="1.00"/><stop offset="0.9395" stop-color="#550088" stop-opacity="1.00"/><stop offset="0.9698" stop-color="#480063" stop-opacity="0.56"/><stop offset="1.0000" stop-color="#1e0027" stop-opacity="0.00"/></linearGradient>
<rect x="198" y="275.10" width="882" height="1.8" fill="url(#h5a)" opacity="0.65"/>
<linearGradient id="h6b" gradientUnits="userSpaceOnUse" x1="330" y1="0" x2="830" y2="0"><stop offset="0.0000" stop-color="#000001" stop-opacity="0.00"/><stop offset="0.0014" stop-color="#010001" stop-opacity="0.00"/><stop offset="0.0029" stop-color="#010002" stop-opacity="0.00"/><stop offset="0.0043" stop-color="#040006" stop-opacity="0.00"/><stop offset="0.0057" stop-color="#22002c" stop-opacity="0.05"/><stop offset="0.0071" stop-color="#4d006a" stop-opacity="0.64"/><stop offset="0.0086" stop-color="#52008e" stop-opacity="1.00"/><stop offset="0.0100" stop-color="#2b02a6" stop-opacity="1.00"/><stop offset="0.0300" stop-color="#1605b5" stop-opacity="1.00"/><stop offset="0.0400" stop-color="#3c019d" stop-opacity="1.00"/><stop offset="0.0500" stop-color="#560085" stop-opacity="1.00"/><stop offset="0.0600" stop-color="#45005e" stop-opacity="0.50"/><stop offset="0.1800" stop-color="#130018" stop-opacity="0.00"/><stop offset="0.4600" stop-color="#45005e" stop-opacity="0.50"/><stop offset="0.6400" stop-color="#4e006c" stop-opacity="0.67"/><stop offset="0.8600" stop-color="#55008a" stop-opacity="1.00"/><stop offset="0.9400" stop-color="#2b02a6" stop-opacity="1.00"/><stop offset="0.9800" stop-color="#55008a" stop-opacity="1.00"/><stop offset="0.9833" stop-color="#490065" stop-opacity="0.58"/><stop offset="0.9867" stop-color="#1e0027" stop-opacity="0.00"/><stop offset="0.9900" stop-color="#030005" stop-opacity="0.00"/><stop offset="0.9933" stop-color="#010002" stop-opacity="0.00"/><stop offset="0.9967" stop-color="#010001" stop-opacity="0.00"/><stop offset="1.0000" stop-color="#000001" stop-opacity="0.00"/></linearGradient>
<rect x="330" y="404.20" width="500" height="8" fill="url(#h6b)" opacity="0.95"/>
<linearGradient id="h6c" gradientUnits="userSpaceOnUse" x1="330" y1="0" x2="830" y2="0"><stop offset="0.0000" stop-color="#010002" stop-opacity="0.00"/><stop offset="0.0014" stop-color="#020003" stop-opacity="0.00"/><stop offset="0.0029" stop-color="#17001e" stop-opacity="0.00"/><stop offset="0.0043" stop-color="#45005e" stop-opacity="0.50"/><stop offset="0.0057" stop-color="#560087" stop-opacity="1.00"/><stop offset="0.0071" stop-color="#3501a0" stop-opacity="1.00"/><stop offset="0.0086" stop-color="#1008bb" stop-opacity="1.00"/><stop offset="0.0100" stop-color="#0527d2" stop-opacity="1.00"/><stop offset="0.0300" stop-color="#0246d8" stop-opacity="1.00"/><stop offset="0.0400" stop-color="#0717cb" stop-opacity="1.00"/><stop offset="0.0500" stop-color="#1904b2" stop-opacity="1.00"/><stop offset="0.0600" stop-color="#40019b" stop-opacity="1.00"/><stop offset="0.1800" stop-color="#55007c" stop-opacity="0.88"/><stop offset="0.4600" stop-color="#40019b" stop-opacity="1.00"/><stop offset="0.6400" stop-color="#3401a1" stop-opacity="1.00"/><stop offset="0.8600" stop-color="#1306b7" stop-opacity="1.00"/><stop offset="0.9400" stop-color="#0527d2" stop-opacity="1.00"/><stop offset="0.9800" stop-color="#1306b7" stop-opacity="1.00"/><stop offset="0.9833" stop-color="#3a019e" stop-opacity="1.00"/><stop offset="0.9867" stop-color="#560085" stop-opacity="1.00"/><stop offset="0.9900" stop-color="#42005a" stop-opacity="0.47"/><stop offset="0.9933" stop-color="#16001c" stop-opacity="0.00"/><stop offset="0.9967" stop-color="#020003" stop-opacity="0.00"/><stop offset="1.0000" stop-color="#010002" stop-opacity="0.00"/></linearGradient>
<rect x="330" y="405.40" width="500" height="5.60" fill="url(#h6c)" opacity="0.95"/>
<linearGradient id="h6a" gradientUnits="userSpaceOnUse" x1="330" y1="0" x2="830" y2="0"><stop offset="0.0000" stop-color="#1e0027" stop-opacity="0.00"/><stop offset="0.0014" stop-color="#4a0066" stop-opacity="0.60"/><stop offset="0.0029" stop-color="#54008c" stop-opacity="1.00"/><stop offset="0.0043" stop-color="#2e01a4" stop-opacity="1.00"/><stop offset="0.0057" stop-color="#0d0abf" stop-opacity="1.00"/><stop offset="0.0071" stop-color="#042fd4" stop-opacity="1.00"/><stop offset="0.0086" stop-color="#0169d9" stop-opacity="1.00"/><stop offset="0.0100" stop-color="#008ecf" stop-opacity="1.00"/><stop offset="0.0300" stop-color="#009ac1" stop-opacity="1.00"/><stop offset="0.0400" stop-color="#0083d5" stop-opacity="1.00"/><stop offset="0.0500" stop-color="#0158d9" stop-opacity="1.00"/><stop offset="0.0600" stop-color="#0522d1" stop-opacity="1.00"/><stop offset="0.1800" stop-color="#1605b5" stop-opacity="1.00"/><stop offset="0.4600" stop-color="#0522d1" stop-opacity="1.00"/><stop offset="0.6400" stop-color="#0431d4" stop-opacity="1.00"/><stop offset="0.8600" stop-color="#0163d9" stop-opacity="1.00"/><stop offset="0.9400" stop-color="#008ecf" stop-opacity="1.00"/><stop offset="0.9800" stop-color="#0163d9" stop-opacity="1.00"/><stop offset="0.9833" stop-color="#0429d3" stop-opacity="1.00"/><stop offset="0.9867" stop-color="#0f09bd" stop-opacity="1.00"/><stop offset="0.9900" stop-color="#3101a3" stop-opacity="1.00"/><stop offset="0.9933" stop-color="#55008a" stop-opacity="1.00"/><stop offset="0.9967" stop-color="#490065" stop-opacity="0.58"/><stop offset="1.0000" stop-color="#1e0027" stop-opacity="0.00"/></linearGradient>
<rect x="330" y="406.50" width="500" height="3.4" fill="url(#h6a)" opacity="0.95"/>
<ellipse cx="819" cy="219" rx="2.5" ry="6" fill="#007dd7" opacity="0.8" filter="url(#sb)"/>
<ellipse cx="836" cy="219" rx="7" ry="4.5" fill="#007dd7" opacity="0.7" filter="url(#sb)"/>
<ellipse cx="852" cy="219" rx="6" ry="5" fill="#0095c8" opacity="0.8" filter="url(#sb)"/>
<ellipse cx="866" cy="219" rx="6" ry="7" fill="#00a2ae" opacity="0.85" filter="url(#sb)"/>
<ellipse cx="879" cy="219" rx="5" ry="4" fill="#0171d8" opacity="0.6" filter="url(#sb)"/>
<ellipse cx="868" cy="249" rx="5" ry="4" fill="#0341d7" opacity="0.6" filter="url(#sb)"/>
<ellipse cx="866" cy="276" rx="5" ry="4" fill="#0a0ec4" opacity="0.5" filter="url(#sb)"/>
<linearGradient id="v7" gradientUnits="userSpaceOnUse" x1="0" y1="256" x2="0" y2="411"><stop offset="0.000" stop-color="#00a2ae" stop-opacity="1.00"/><stop offset="0.123" stop-color="#00a77e" stop-opacity="1.00"/><stop offset="0.166" stop-color="#00a4a7" stop-opacity="1.00"/><stop offset="0.209" stop-color="#0097c6" stop-opacity="1.00"/><stop offset="0.252" stop-color="#007dd7" stop-opacity="1.00"/><stop offset="0.305" stop-color="#024dd8" stop-opacity="1.00"/><stop offset="0.359" stop-color="#071bcd" stop-opacity="1.00"/><stop offset="0.413" stop-color="#1605b5" stop-opacity="1.00"/><stop offset="0.800" stop-color="#2b02a6" stop-opacity="1.00"/><stop offset="0.847" stop-color="#0d0abf" stop-opacity="1.00"/><stop offset="0.895" stop-color="#042cd3" stop-opacity="1.00"/><stop offset="0.942" stop-color="#0163d9" stop-opacity="1.00"/><stop offset="0.971" stop-color="#008ecf" stop-opacity="1.00"/><stop offset="1.000" stop-color="#00a2ae" stop-opacity="1.00"/></linearGradient><rect x="332.30" y="256" width="2" height="155.00" fill="url(#v7)" opacity="0.9"/>
<linearGradient id="v8" gradientUnits="userSpaceOnUse" x1="0" y1="258" x2="0" y2="411"><stop offset="0.000" stop-color="#0522d1" stop-opacity="1.00"/><stop offset="0.111" stop-color="#0163d9" stop-opacity="1.00"/><stop offset="0.193" stop-color="#0522d1" stop-opacity="1.00"/><stop offset="0.275" stop-color="#1605b5" stop-opacity="1.00"/><stop offset="0.405" stop-color="#37019f" stop-opacity="1.00"/><stop offset="0.536" stop-color="#55008a" stop-opacity="1.00"/><stop offset="0.895" stop-color="#2b02a6" stop-opacity="1.00"/><stop offset="0.922" stop-color="#0c0bc1" stop-opacity="1.00"/><stop offset="0.948" stop-color="#0431d4" stop-opacity="1.00"/><stop offset="0.974" stop-color="#016ad9" stop-opacity="1.00"/><stop offset="1.000" stop-color="#008ecf" stop-opacity="1.00"/></linearGradient><rect x="336.00" y="258" width="2" height="153.00" fill="url(#v8)" opacity="0.8"/>
<linearGradient id="v9" gradientUnits="userSpaceOnUse" x1="0" y1="262" x2="0" y2="411"><stop offset="0.000" stop-color="#2b02a6" stop-opacity="1.00"/><stop offset="0.044" stop-color="#0f09bd" stop-opacity="1.00"/><stop offset="0.087" stop-color="#0522d1" stop-opacity="1.00"/><stop offset="0.154" stop-color="#1605b5" stop-opacity="1.00"/><stop offset="0.221" stop-color="#440199" stop-opacity="1.00"/><stop offset="0.339" stop-color="#560082" stop-opacity="1.00"/><stop offset="0.456" stop-color="#45005e" stop-opacity="0.50"/><stop offset="0.893" stop-color="#55008a" stop-opacity="1.00"/><stop offset="0.919" stop-color="#3101a3" stop-opacity="1.00"/><stop offset="0.946" stop-color="#0f09bd" stop-opacity="1.00"/><stop offset="0.973" stop-color="#0429d3" stop-opacity="1.00"/><stop offset="1.000" stop-color="#0163d9" stop-opacity="1.00"/></linearGradient><rect x="340.00" y="262" width="2" height="149.00" fill="url(#v9)" opacity="0.7"/>
<linearGradient id="v10" gradientUnits="userSpaceOnUse" x1="0" y1="144" x2="0" y2="411"><stop offset="0.000" stop-color="#0a0ec4" stop-opacity="1.00"/><stop offset="0.397" stop-color="#0a0ec4" stop-opacity="1.00"/><stop offset="0.697" stop-color="#0522d1" stop-opacity="1.00"/><stop offset="0.734" stop-color="#0158d9" stop-opacity="1.00"/><stop offset="0.772" stop-color="#0083d5" stop-opacity="1.00"/><stop offset="0.809" stop-color="#009ac1" stop-opacity="1.00"/><stop offset="0.884" stop-color="#00a698" stop-opacity="1.00"/><stop offset="0.898" stop-color="#009dbc" stop-opacity="1.00"/><stop offset="0.912" stop-color="#0087d3" stop-opacity="1.00"/><stop offset="0.926" stop-color="#015bd9" stop-opacity="1.00"/><stop offset="0.940" stop-color="#0522d1" stop-opacity="1.00"/><stop offset="1.000" stop-color="#0163d9" stop-opacity="1.00"/></linearGradient><rect x="754.95" y="144" width="1.5" height="267.00" fill="url(#v10)" opacity="0.9"/>
<path d="M756,372 L766,375.5 L756,380 Z" fill="#00a698" opacity="0.8"/>
<linearGradient id="v11" gradientUnits="userSpaceOnUse" x1="0" y1="144" x2="0" y2="411"><stop offset="0.000" stop-color="#2b02a6" stop-opacity="1.00"/><stop offset="0.584" stop-color="#2b02a6" stop-opacity="1.00"/><stop offset="0.959" stop-color="#0a0ec4" stop-opacity="1.00"/><stop offset="0.979" stop-color="#0341d7" stop-opacity="1.00"/><stop offset="1.000" stop-color="#007dd7" stop-opacity="1.00"/></linearGradient><rect x="789.20" y="144" width="1.2" height="267.00" fill="url(#v11)" opacity="0.8"/>
<linearGradient id="v12" gradientUnits="userSpaceOnUse" x1="0" y1="144" x2="0" y2="411"><stop offset="0.000" stop-color="#540079" stop-opacity="0.83"/><stop offset="0.584" stop-color="#560082" stop-opacity="1.00"/><stop offset="0.940" stop-color="#55008a" stop-opacity="1.00"/><stop offset="0.951" stop-color="#2b02a6" stop-opacity="1.00"/><stop offset="0.963" stop-color="#0a0ec4" stop-opacity="1.00"/><stop offset="0.974" stop-color="#0341d7" stop-opacity="1.00"/><stop offset="0.979" stop-color="#007dd7" stop-opacity="1.00"/><stop offset="0.984" stop-color="#009ac1" stop-opacity="1.00"/><stop offset="0.990" stop-color="#00a698" stop-opacity="1.00"/><stop offset="0.995" stop-color="#00a65c" stop-opacity="1.00"/><stop offset="1.000" stop-color="#00aa1a" stop-opacity="1.00"/></linearGradient><rect x="841.20" y="144" width="5" height="267.00" fill="url(#v12)" opacity="0.55"/></g>
<g clip-path="url(#cpB)"><rect x="244.5" y="544" width="1.5" height="64" fill="url(#gb3)" opacity="0.52"/>
<rect x="223.5" y="592" width="1.0" height="99" fill="url(#gb3)" opacity="0.38"/>
<rect x="437.9" y="542" width="2.0" height="161" fill="url(#gb0)" opacity="0.43"/>
<rect x="383.5" y="641" width="1.5" height="62" fill="url(#gp1)" opacity="0.27"/>
<rect x="398.5" y="602" width="2.0" height="101" fill="url(#gp1)" opacity="0.28"/>
<rect x="488.4" y="542" width="1.0" height="161" fill="url(#gp4)" opacity="0.36"/>
<rect x="298.3" y="577" width="1.0" height="64" fill="url(#gb3)" opacity="0.44"/>
<rect x="271.2" y="545" width="1.0" height="158" fill="url(#gp1)" opacity="0.27"/>
<rect x="323.2" y="598" width="1.5" height="94" fill="url(#gb3)" opacity="0.21"/>
<rect x="255.9" y="612" width="1.0" height="91" fill="url(#gp1)" opacity="0.22"/>
<rect x="210.3" y="567" width="1.0" height="91" fill="url(#gp3)" opacity="0.23"/>
<rect x="260.5" y="580" width="1.0" height="60" fill="url(#gb3)" opacity="0.46"/>
<rect x="268.8" y="615" width="2.0" height="44" fill="url(#gb3)" opacity="0.48"/>
<rect x="266.8" y="542" width="1.5" height="161" fill="url(#gb0)" opacity="0.45"/>
<rect x="376.5" y="574" width="1.0" height="129" fill="url(#gb1)" opacity="0.29"/>
<rect x="552.1" y="586" width="2.0" height="117" fill="url(#gb1)" opacity="0.31"/>
<rect x="468.2" y="542" width="2.0" height="161" fill="url(#gp0)" opacity="0.34"/>
<rect x="286.7" y="586" width="1.0" height="117" fill="url(#gp3)" opacity="0.44"/>
<rect x="480.7" y="542" width="1.0" height="161" fill="url(#gp4)" opacity="0.25"/>
<rect x="358.4" y="603" width="1.5" height="46" fill="url(#gb3)" opacity="0.33"/>
<rect x="257.0" y="542" width="1.5" height="161" fill="url(#gc4)" opacity="0.29"/>
<rect x="327.3" y="594" width="1.5" height="66" fill="url(#gb3)" opacity="0.37"/>
<rect x="226.5" y="546" width="1.0" height="157" fill="url(#gc1)" opacity="0.24"/>
<rect x="399.0" y="607" width="1.0" height="96" fill="url(#gc1)" opacity="0.32"/>
<rect x="245.3" y="634" width="1.0" height="69" fill="url(#gb1)" opacity="0.24"/>
<rect x="229.2" y="615" width="2.0" height="88" fill="url(#gc3)" opacity="0.22"/>
<rect x="489.9" y="542" width="2.0" height="161" fill="url(#gc4)" opacity="0.22"/>
<rect x="488.3" y="604" width="1.0" height="83" fill="url(#gc3)" opacity="0.48"/>
<rect x="288.2" y="592" width="1.5" height="111" fill="url(#gb1)" opacity="0.30"/>
<rect x="417.3" y="605" width="1.0" height="98" fill="url(#gc1)" opacity="0.33"/>
<rect x="464.0" y="576" width="1.5" height="127" fill="url(#gb3)" opacity="0.44"/>
<rect x="385.7" y="550" width="1.0" height="92" fill="url(#gb3)" opacity="0.39"/>
<rect x="208.4" y="605" width="1.0" height="98" fill="url(#gb3)" opacity="0.52"/>
<rect x="471.5" y="570" width="1.0" height="133" fill="url(#gb3)" opacity="0.33"/>
<rect x="253.5" y="602" width="1.0" height="101" fill="url(#gc3)" opacity="0.47"/>
<rect x="360.1" y="542" width="2.0" height="161" fill="url(#gp4)" opacity="0.39"/>
<rect x="492.9" y="582" width="1.0" height="121" fill="url(#gc3)" opacity="0.24"/>
<rect x="515.0" y="542" width="2.0" height="161" fill="url(#gb4)" opacity="0.36"/>
<rect x="353.1" y="542" width="1.5" height="161" fill="url(#gb4)" opacity="0.42"/>
<rect x="347.8" y="556" width="1.0" height="147" fill="url(#gc1)" opacity="0.38"/>
<rect x="510.1" y="542" width="1.0" height="161" fill="url(#gb4)" opacity="0.36"/>
<rect x="550.8" y="585" width="1.0" height="59" fill="url(#gb3)" opacity="0.35"/>
<rect x="273.1" y="571" width="1.0" height="132" fill="url(#gp1)" opacity="0.29"/>
<rect x="511.8" y="583" width="1.5" height="120" fill="url(#gb1)" opacity="0.46"/>
<rect x="549.4" y="579" width="1.5" height="124" fill="url(#gp1)" opacity="0.38"/>
<rect x="223.8" y="581" width="1.0" height="122" fill="url(#gc1)" opacity="0.46"/>
<rect x="418.8" y="542" width="1.0" height="161" fill="url(#gp0)" opacity="0.36"/>
<rect x="514.7" y="632" width="1.0" height="71" fill="url(#gp1)" opacity="0.53"/>
<rect x="345.2" y="558" width="2.0" height="145" fill="url(#gc1)" opacity="0.40"/>
<rect x="229.3" y="616" width="1.0" height="87" fill="url(#gc3)" opacity="0.24"/>
<rect x="524.7" y="590" width="1.0" height="113" fill="url(#gp3)" opacity="0.33"/>
<rect x="264.3" y="568" width="1.0" height="135" fill="url(#gb3)" opacity="0.38"/>
<rect x="360.5" y="591" width="1.5" height="112" fill="url(#gp1)" opacity="0.26"/>
<rect x="537.4" y="559" width="1.5" height="144" fill="url(#gb1)" opacity="0.41"/>
<rect x="342.4" y="542" width="1.0" height="161" fill="url(#gb0)" opacity="0.40"/>
<rect x="385.8" y="618" width="1.0" height="85" fill="url(#gc3)" opacity="0.37"/>
<rect x="387.6" y="546" width="2.0" height="157" fill="url(#gc1)" opacity="0.48"/>
<rect x="287.1" y="615" width="1.0" height="88" fill="url(#gb1)" opacity="0.35"/>
<rect x="329.8" y="543" width="1.0" height="160" fill="url(#gp1)" opacity="0.41"/>
<rect x="390.0" y="621" width="1.5" height="82" fill="url(#gb1)" opacity="0.21"/>
<rect x="207.9" y="549" width="2.0" height="154" fill="url(#gp1)" opacity="0.24"/>
<rect x="333.7" y="614" width="1.0" height="89" fill="url(#gb3)" opacity="0.26"/>
<rect x="407.2" y="574" width="1.0" height="129" fill="url(#gc1)" opacity="0.34"/>
<rect x="216.4" y="603" width="1.0" height="100" fill="url(#gp3)" opacity="0.32"/>
<rect x="435.6" y="632" width="1.0" height="71" fill="url(#gb1)" opacity="0.46"/>
<rect x="539.3" y="552" width="1.0" height="43" fill="url(#gb3)" opacity="0.27"/>
<rect x="347.2" y="594" width="2.0" height="109" fill="url(#gp1)" opacity="0.47"/>
<rect x="223.6" y="542" width="1.5" height="161" fill="url(#gb4)" opacity="0.29"/>
<rect x="459.5" y="572" width="1.0" height="131" fill="url(#gc1)" opacity="0.49"/>
<rect x="297.5" y="544" width="1.5" height="159" fill="url(#gb1)" opacity="0.48"/>
<rect x="242.3" y="573" width="2.0" height="130" fill="url(#gp1)" opacity="0.40"/>
<rect x="309.6" y="542" width="2.0" height="161" fill="url(#gb4)" opacity="0.21"/>
<rect x="279.1" y="569" width="1.0" height="134" fill="url(#gb1)" opacity="0.44"/>
<rect x="517.6" y="614" width="2.0" height="89" fill="url(#gp1)" opacity="0.48"/>
<rect x="420.2" y="619" width="1.0" height="84" fill="url(#gc1)" opacity="0.45"/>
<rect x="522.5" y="555" width="1.0" height="148" fill="url(#gb1)" opacity="0.51"/>
<rect x="449.8" y="573" width="1.5" height="95" fill="url(#gc3)" opacity="0.40"/>
<rect x="372.8" y="611" width="1.0" height="92" fill="url(#gc3)" opacity="0.33"/>
<rect x="533.5" y="550" width="1.5" height="112" fill="url(#gc3)" opacity="0.38"/>
<rect x="490.8" y="604" width="1.0" height="99" fill="url(#gc1)" opacity="0.42"/>
<rect x="252.9" y="620" width="2.0" height="70" fill="url(#gb3)" opacity="0.38"/>
<rect x="315.1" y="584" width="2.0" height="92" fill="url(#gb3)" opacity="0.38"/>
<rect x="332.8" y="590" width="1.5" height="113" fill="url(#gp1)" opacity="0.29"/>
<rect x="289.9" y="630" width="2.0" height="73" fill="url(#gp1)" opacity="0.41"/>
<rect x="552.9" y="605" width="2.0" height="98" fill="url(#gc3)" opacity="0.45"/>
<rect x="459.5" y="561" width="1.0" height="43" fill="url(#gc3)" opacity="0.44"/>
<rect x="369.8" y="625" width="1.0" height="78" fill="url(#gp1)" opacity="0.55"/>
<rect x="523.1" y="559" width="2.0" height="144" fill="url(#gb1)" opacity="0.28"/>
<rect x="328.9" y="544" width="2.0" height="159" fill="url(#gb1)" opacity="0.53"/>
<rect x="328.7" y="617" width="1.0" height="86" fill="url(#gc1)" opacity="0.48"/>
<rect x="336.6" y="436" width="1.5" height="267" fill="url(#gb4)" opacity="0.19"/>
<rect x="278.6" y="436" width="2.0" height="267" fill="url(#gb4)" opacity="0.20"/>
<rect x="316.3" y="436" width="1.0" height="267" fill="url(#gp4)" opacity="0.12"/>
<rect x="218.7" y="587" width="1.0" height="116" fill="url(#gp1)" opacity="0.34"/>
<rect x="276.9" y="436" width="2.0" height="267" fill="url(#gp4)" opacity="0.28"/>
<rect x="486.6" y="436" width="1.0" height="267" fill="url(#gb0)" opacity="0.13"/>
<rect x="302.2" y="545" width="2.0" height="158" fill="url(#gp3)" opacity="0.33"/>
<rect x="318.1" y="436" width="2.0" height="267" fill="url(#gp4)" opacity="0.24"/>
<rect x="412.9" y="445" width="1.0" height="258" fill="url(#gp1)" opacity="0.27"/>
<rect x="531.6" y="532" width="1.5" height="170" fill="url(#gp3)" opacity="0.15"/>
<rect x="522.2" y="502" width="1.5" height="201" fill="url(#gb1)" opacity="0.26"/>
<rect x="504.5" y="637" width="1.0" height="66" fill="url(#gp1)" opacity="0.14"/>
<rect x="234.9" y="564" width="1.5" height="90" fill="url(#gp3)" opacity="0.14"/>
<rect x="360.3" y="436" width="1.0" height="267" fill="url(#gp0)" opacity="0.26"/>
<rect x="296.8" y="436" width="2.0" height="267" fill="url(#gp4)" opacity="0.20"/>
<rect x="536.7" y="436" width="1.0" height="267" fill="url(#gp0)" opacity="0.33"/>
<rect x="324.0" y="436" width="1.0" height="267" fill="url(#gp0)" opacity="0.17"/>
<rect x="263.4" y="615" width="2.0" height="88" fill="url(#gb3)" opacity="0.33"/>
<rect x="555.3" y="436" width="1.5" height="267" fill="url(#gp4)" opacity="0.32"/>
<rect x="341.3" y="443" width="1.5" height="260" fill="url(#gb1)" opacity="0.12"/>
<rect x="293.7" y="634" width="1.0" height="69" fill="url(#gp1)" opacity="0.31"/>
<rect x="538.7" y="558" width="1.0" height="145" fill="url(#gp1)" opacity="0.14"/>
<rect x="220.4" y="436" width="1.0" height="267" fill="url(#gp4)" opacity="0.23"/>
<rect x="200.5" y="436" width="1.5" height="267" fill="url(#gb4)" opacity="0.14"/>
<rect x="292.5" y="436" width="2.0" height="267" fill="url(#gb0)" opacity="0.16"/>
<rect x="358.5" y="458" width="1.5" height="53" fill="url(#gp3)" opacity="0.16"/>
<rect x="277.8" y="436" width="1.5" height="267" fill="url(#gb0)" opacity="0.17"/>
<rect x="278.9" y="511" width="1.0" height="192" fill="url(#gp1)" opacity="0.16"/>
<rect x="232.3" y="436" width="1.0" height="267" fill="url(#gb4)" opacity="0.32"/>
<rect x="457.4" y="436" width="1.0" height="267" fill="url(#gb0)" opacity="0.14"/>
<rect x="355.8" y="453" width="1.5" height="250" fill="url(#gp1)" opacity="0.18"/>
<rect x="446.3" y="623" width="1.5" height="80" fill="url(#gp1)" opacity="0.15"/>
<rect x="268.8" y="639" width="1.0" height="64" fill="url(#gp1)" opacity="0.34"/>
<rect x="410.6" y="464" width="1.5" height="239" fill="url(#gp1)" opacity="0.26"/>
<rect x="308.7" y="436" width="1.0" height="267" fill="url(#gp0)" opacity="0.32"/>
<rect x="457.6" y="436" width="1.0" height="267" fill="url(#gb4)" opacity="0.22"/>
<rect x="261.7" y="597" width="1.0" height="106" fill="url(#gp1)" opacity="0.33"/>
<rect x="292.3" y="436" width="1.0" height="267" fill="url(#gp4)" opacity="0.15"/>
<rect x="393.6" y="436" width="1.0" height="267" fill="url(#gp4)" opacity="0.20"/>
<rect x="455.4" y="436" width="1.0" height="267" fill="url(#gp0)" opacity="0.18"/>
<rect x="1017.4" y="627" width="1.0" height="76" fill="url(#gb1)" opacity="0.41"/>
<rect x="677.8" y="553" width="2.0" height="150" fill="url(#gc3)" opacity="0.26"/>
<rect x="954.3" y="627" width="1.0" height="76" fill="url(#gc1)" opacity="0.25"/>
<rect x="619.4" y="599" width="1.5" height="104" fill="url(#gc1)" opacity="0.23"/>
<rect x="1014.6" y="525" width="1.0" height="82" fill="url(#gc3)" opacity="0.20"/>
<rect x="801.8" y="625" width="1.0" height="78" fill="url(#gb1)" opacity="0.32"/>
<rect x="886.9" y="573" width="1.0" height="130" fill="url(#gc3)" opacity="0.42"/>
<rect x="890.5" y="632" width="1.0" height="71" fill="url(#gc1)" opacity="0.38"/>
<rect x="991.7" y="629" width="1.0" height="74" fill="url(#gb1)" opacity="0.22"/>
<rect x="999.5" y="567" width="1.0" height="136" fill="url(#gb1)" opacity="0.17"/>
<rect x="923.5" y="522" width="1.0" height="181" fill="url(#gb4)" opacity="0.24"/>
<rect x="975.1" y="620" width="1.0" height="83" fill="url(#gb1)" opacity="0.32"/>
<rect x="626.0" y="579" width="2.0" height="93" fill="url(#gp3)" opacity="0.32"/>
<rect x="771.4" y="522" width="1.0" height="181" fill="url(#gb4)" opacity="0.20"/>
<rect x="692.6" y="593" width="1.0" height="110" fill="url(#gc1)" opacity="0.40"/>
<rect x="611.4" y="522" width="1.5" height="181" fill="url(#gb0)" opacity="0.28"/>
<rect x="602.5" y="522" width="1.0" height="181" fill="url(#gb0)" opacity="0.38"/>
<rect x="712.2" y="557" width="1.0" height="146" fill="url(#gp1)" opacity="0.29"/>
<rect x="600.5" y="622" width="1.5" height="81" fill="url(#gp1)" opacity="0.17"/>
<rect x="992.0" y="528" width="1.0" height="175" fill="url(#gp1)" opacity="0.41"/>
<rect x="709.8" y="632" width="1.0" height="71" fill="url(#gp1)" opacity="0.33"/>
<rect x="1095.3" y="580" width="1.0" height="122" fill="url(#gb3)" opacity="0.34"/>
<rect x="857.3" y="530" width="1.0" height="117" fill="url(#gb3)" opacity="0.29"/>
<rect x="675.1" y="535" width="1.0" height="88" fill="url(#gb3)" opacity="0.17"/>
<rect x="882.5" y="576" width="1.0" height="127" fill="url(#gp1)" opacity="0.29"/>
<rect x="577.8" y="596" width="1.0" height="107" fill="url(#gc1)" opacity="0.22"/>
<rect x="881.7" y="579" width="2.0" height="124" fill="url(#gp1)" opacity="0.33"/>
<rect x="883.0" y="533" width="1.0" height="170" fill="url(#gc1)" opacity="0.23"/>
<rect x="736.4" y="560" width="1.5" height="143" fill="url(#gc1)" opacity="0.18"/>
<rect x="882.2" y="605" width="1.5" height="98" fill="url(#gb1)" opacity="0.34"/>
<rect x="646.2" y="531" width="1.0" height="149" fill="url(#gb3)" opacity="0.28"/>
<rect x="891.3" y="522" width="1.0" height="181" fill="url(#gp0)" opacity="0.32"/>
<rect x="563.3" y="560" width="2.0" height="126" fill="url(#gp3)" opacity="0.31"/>
<rect x="1089.0" y="571" width="2.0" height="132" fill="url(#gb1)" opacity="0.39"/>
<rect x="954.2" y="522" width="1.0" height="181" fill="url(#gb4)" opacity="0.27"/>
<rect x="623.1" y="559" width="1.5" height="144" fill="url(#gp1)" opacity="0.23"/>
<rect x="841.2" y="636" width="1.5" height="67" fill="url(#gc1)" opacity="0.29"/>
<rect x="696.9" y="609" width="1.0" height="94" fill="url(#gc3)" opacity="0.42"/>
<rect x="968.6" y="540" width="1.0" height="163" fill="url(#gb1)" opacity="0.37"/>
<rect x="902.5" y="628" width="1.5" height="75" fill="url(#gp1)" opacity="0.22"/>
<rect x="1071.0" y="522" width="2.0" height="181" fill="url(#gb4)" opacity="0.25"/>
<rect x="1099.1" y="536" width="1.5" height="41" fill="url(#gp3)" opacity="0.22"/>
<rect x="1070.0" y="614" width="2.0" height="89" fill="url(#gp1)" opacity="0.42"/>
<rect x="722.0" y="562" width="1.0" height="141" fill="url(#gp1)" opacity="0.16"/>
<rect x="646.5" y="522" width="1.5" height="181" fill="url(#gc0)" opacity="0.20"/>
<rect x="964.3" y="555" width="1.0" height="148" fill="url(#gc1)" opacity="0.32"/>
<rect x="996.6" y="591" width="1.0" height="112" fill="url(#gb3)" opacity="0.25"/>
<rect x="657.1" y="601" width="1.5" height="102" fill="url(#gb1)" opacity="0.17"/>
<rect x="754.9" y="611" width="2.0" height="92" fill="url(#gb1)" opacity="0.25"/>
<rect x="928.4" y="572" width="1.0" height="131" fill="url(#gc1)" opacity="0.30"/>
<rect x="683.3" y="604" width="1.0" height="45" fill="url(#gc3)" opacity="0.30"/>
<rect x="745.8" y="522" width="1.5" height="181" fill="url(#gp4)" opacity="0.37"/>
<rect x="785.1" y="522" width="1.0" height="181" fill="url(#gp0)" opacity="0.30"/>
<rect x="1008.8" y="522" width="1.0" height="181" fill="url(#gb4)" opacity="0.24"/>
<rect x="957.3" y="635" width="1.0" height="68" fill="url(#gb1)" opacity="0.40"/>
<rect x="751.9" y="544" width="2.0" height="159" fill="url(#gc3)" opacity="0.42"/>
<rect x="952.3" y="577" width="1.0" height="126" fill="url(#gc3)" opacity="0.21"/>
<rect x="863.8" y="604" width="1.0" height="99" fill="url(#gc1)" opacity="0.29"/>
<rect x="993.9" y="522" width="1.5" height="181" fill="url(#gc0)" opacity="0.24"/>
<rect x="604.0" y="585" width="1.5" height="118" fill="url(#gb1)" opacity="0.25"/>
<rect x="669.9" y="628" width="1.0" height="75" fill="url(#gc1)" opacity="0.22"/>
<rect x="932.5" y="587" width="1.5" height="116" fill="url(#gb3)" opacity="0.18"/>
<rect x="965.7" y="607" width="1.0" height="60" fill="url(#gc3)" opacity="0.15"/>
<rect x="969.3" y="566" width="1.0" height="137" fill="url(#gb3)" opacity="0.16"/>
<rect x="591.6" y="622" width="2.0" height="81" fill="url(#gp1)" opacity="0.22"/>
<rect x="809.8" y="571" width="1.0" height="132" fill="url(#gc1)" opacity="0.33"/>
<rect x="1097.4" y="564" width="2.0" height="104" fill="url(#gp3)" opacity="0.23"/>
<rect x="811.3" y="583" width="1.0" height="120" fill="url(#gb1)" opacity="0.34"/>
<rect x="1019.9" y="638" width="1.0" height="65" fill="url(#gb1)" opacity="0.20"/>
<rect x="584.6" y="540" width="1.0" height="163" fill="url(#gb1)" opacity="0.27"/>
<rect x="745.2" y="551" width="2.0" height="61" fill="url(#gc3)" opacity="0.21"/>
<rect x="1072.8" y="616" width="1.0" height="87" fill="url(#gc1)" opacity="0.43"/>
<rect x="835.5" y="564" width="1.0" height="139" fill="url(#gb1)" opacity="0.32"/>
<rect x="687.7" y="522" width="2.0" height="181" fill="url(#gb0)" opacity="0.23"/>
<rect x="1013.2" y="522" width="2.0" height="181" fill="url(#gp4)" opacity="0.37"/>
<rect x="1024.3" y="546" width="1.0" height="157" fill="url(#gb3)" opacity="0.40"/>
<rect x="779.8" y="522" width="1.0" height="181" fill="url(#gp0)" opacity="0.34"/>
<rect x="901.6" y="636" width="1.5" height="67" fill="url(#gb1)" opacity="0.16"/>
<rect x="634.2" y="569" width="1.0" height="134" fill="url(#gb1)" opacity="0.41"/>
<rect x="595.9" y="524" width="1.5" height="81" fill="url(#gb3)" opacity="0.27"/>
<rect x="560.3" y="563" width="1.5" height="140" fill="url(#gb1)" opacity="0.22"/>
<rect x="911.4" y="436" width="1.0" height="267" fill="url(#gp0)" opacity="0.22"/>
<rect x="677.6" y="436" width="1.5" height="267" fill="url(#gb0)" opacity="0.27"/>
<rect x="710.6" y="594" width="2.0" height="109" fill="url(#gb1)" opacity="0.27"/>
<rect x="925.8" y="436" width="1.0" height="267" fill="url(#gp4)" opacity="0.22"/>
<rect x="1070.4" y="440" width="1.0" height="263" fill="url(#gp1)" opacity="0.14"/>
<rect x="1070.0" y="626" width="1.0" height="77" fill="url(#gp1)" opacity="0.23"/>
<rect x="823.8" y="612" width="1.0" height="69" fill="url(#gp3)" opacity="0.13"/>
<rect x="715.5" y="609" width="1.5" height="94" fill="url(#gp1)" opacity="0.13"/>
<rect x="599.5" y="595" width="1.0" height="108" fill="url(#gp1)" opacity="0.19"/>
<rect x="905.1" y="460" width="1.0" height="243" fill="url(#gp1)" opacity="0.24"/>
<rect x="979.4" y="436" width="2.0" height="267" fill="url(#gp4)" opacity="0.13"/>
<rect x="815.8" y="436" width="1.5" height="267" fill="url(#gp4)" opacity="0.23"/>
<rect x="927.3" y="436" width="2.0" height="267" fill="url(#gp4)" opacity="0.11"/>
<rect x="773.3" y="600" width="1.5" height="103" fill="url(#gp1)" opacity="0.22"/>
<rect x="983.5" y="614" width="1.5" height="89" fill="url(#gp1)" opacity="0.29"/>
<rect x="959.9" y="436" width="1.0" height="267" fill="url(#gp4)" opacity="0.28"/>
<rect x="688.4" y="436" width="1.0" height="267" fill="url(#gp0)" opacity="0.23"/>
<rect x="576.0" y="436" width="2.0" height="267" fill="url(#gp0)" opacity="0.28"/>
<rect x="932.8" y="613" width="1.5" height="90" fill="url(#gb1)" opacity="0.24"/>
<rect x="696.2" y="565" width="1.0" height="138" fill="url(#gp1)" opacity="0.11"/>
<rect x="857.5" y="436" width="1.0" height="267" fill="url(#gp4)" opacity="0.28"/>
<rect x="689.5" y="436" width="1.0" height="267" fill="url(#gb4)" opacity="0.28"/>
<rect x="914.8" y="436" width="1.0" height="267" fill="url(#gp0)" opacity="0.12"/>
<rect x="941.1" y="436" width="1.0" height="267" fill="url(#gp4)" opacity="0.15"/>
<rect x="713.9" y="488" width="1.0" height="127" fill="url(#gp3)" opacity="0.16"/>
<rect x="593.6" y="436" width="1.5" height="267" fill="url(#gb4)" opacity="0.24"/>
<rect x="963.5" y="479" width="2.0" height="224" fill="url(#gb1)" opacity="0.25"/>
<rect x="714.4" y="555" width="1.0" height="148" fill="url(#gp1)" opacity="0.14"/>
<rect x="1010.5" y="534" width="1.0" height="169" fill="url(#gp1)" opacity="0.19"/>
<rect x="944.6" y="528" width="1.5" height="175" fill="url(#gp1)" opacity="0.25"/>
<rect x="936.7" y="436" width="1.5" height="267" fill="url(#gp0)" opacity="0.30"/>
<rect x="838.8" y="488" width="1.0" height="215" fill="url(#gp1)" opacity="0.29"/>
<rect x="967.1" y="436" width="1.0" height="267" fill="url(#gb4)" opacity="0.26"/>
<rect x="1056.3" y="453" width="1.0" height="159" fill="url(#gp3)" opacity="0.27"/>
<rect x="817.1" y="486" width="1.0" height="217" fill="url(#gb1)" opacity="0.11"/>
<rect x="1065.3" y="591" width="1.0" height="112" fill="url(#gp1)" opacity="0.23"/>
<rect x="809.9" y="436" width="1.0" height="267" fill="url(#gb4)" opacity="0.22"/>
<rect x="722.8" y="436" width="1.0" height="267" fill="url(#gp0)" opacity="0.14"/>
<rect x="1062.5" y="436" width="1.0" height="267" fill="url(#gb0)" opacity="0.15"/>
<rect x="1223.7" y="436" width="1.0" height="267" fill="url(#gb4)" opacity="0.48"/>
<rect x="1234.5" y="467" width="2.0" height="156" fill="url(#gb3)" opacity="0.34"/>
<rect x="1164.4" y="513" width="1.0" height="190" fill="url(#gb1)" opacity="0.27"/>
<rect x="1204.0" y="477" width="1.5" height="226" fill="url(#gb1)" opacity="0.21"/>
<rect x="1308.4" y="550" width="2.0" height="153" fill="url(#gb1)" opacity="0.49"/>
<rect x="1147.5" y="436" width="2.0" height="267" fill="url(#gp0)" opacity="0.40"/>
<rect x="1141.4" y="462" width="1.0" height="241" fill="url(#gb1)" opacity="0.44"/>
<rect x="1205.8" y="436" width="1.0" height="267" fill="url(#gb4)" opacity="0.22"/>
<rect x="1255.0" y="624" width="1.5" height="79" fill="url(#gb1)" opacity="0.30"/>
<rect x="1112.8" y="596" width="2.0" height="107" fill="url(#gb1)" opacity="0.43"/>
<rect x="1217.9" y="436" width="1.0" height="267" fill="url(#gb0)" opacity="0.26"/>
<rect x="1326.9" y="436" width="1.0" height="267" fill="url(#gb0)" opacity="0.39"/>
<rect x="1214.3" y="613" width="1.0" height="82" fill="url(#gb3)" opacity="0.45"/>
<rect x="1213.8" y="588" width="1.0" height="115" fill="url(#gc1)" opacity="0.33"/>
<rect x="1136.6" y="528" width="1.0" height="175" fill="url(#gp1)" opacity="0.43"/>
<rect x="1271.3" y="436" width="1.0" height="267" fill="url(#gp4)" opacity="0.23"/>
<rect x="1128.1" y="436" width="1.5" height="267" fill="url(#gc0)" opacity="0.33"/>
<rect x="1157.2" y="515" width="1.0" height="188" fill="url(#gp1)" opacity="0.47"/>
<rect x="1298.9" y="574" width="1.5" height="89" fill="url(#gp3)" opacity="0.49"/>
<rect x="1106.8" y="506" width="1.0" height="197" fill="url(#gp1)" opacity="0.34"/>
<rect x="1200.0" y="576" width="1.0" height="77" fill="url(#gp3)" opacity="0.33"/>
<rect x="1118.8" y="436" width="1.0" height="267" fill="url(#gc0)" opacity="0.25"/>
<rect x="1313.0" y="436" width="1.0" height="267" fill="url(#gb4)" opacity="0.46"/>
<rect x="1144.5" y="436" width="2.0" height="267" fill="url(#gc0)" opacity="0.38"/>
<rect x="1187.8" y="600" width="1.0" height="103" fill="url(#gb1)" opacity="0.50"/>
<rect x="1180.6" y="436" width="1.0" height="267" fill="url(#gc0)" opacity="0.26"/>
<rect x="1106.5" y="460" width="1.0" height="243" fill="url(#gb1)" opacity="0.39"/>
<rect x="1173.7" y="526" width="1.0" height="177" fill="url(#gb1)" opacity="0.33"/>
<rect x="1129.4" y="438" width="1.0" height="53" fill="url(#gc3)" opacity="0.38"/>
<rect x="1179.6" y="494" width="1.0" height="187" fill="url(#gb3)" opacity="0.39"/>
<rect x="1107.6" y="436" width="1.0" height="267" fill="url(#gb0)" opacity="0.47"/>
<rect x="1113.2" y="436" width="1.0" height="267" fill="url(#gc0)" opacity="0.28"/>
<rect x="1141.6" y="630" width="1.5" height="73" fill="url(#gp1)" opacity="0.37"/>
<rect x="1305.3" y="436" width="1.0" height="267" fill="url(#gc4)" opacity="0.29"/>
<rect x="1216.1" y="436" width="1.5" height="267" fill="url(#gb4)" opacity="0.25"/>
<rect x="1312.9" y="436" width="1.0" height="267" fill="url(#gb0)" opacity="0.28"/>
<rect x="1324.1" y="524" width="1.0" height="179" fill="url(#gb3)" opacity="0.47"/>
<rect x="1241.9" y="436" width="1.0" height="267" fill="url(#gc4)" opacity="0.23"/>
<rect x="1251.1" y="564" width="1.5" height="139" fill="url(#gb1)" opacity="0.43"/>
<rect x="1324.2" y="529" width="1.0" height="140" fill="url(#gb3)" opacity="0.34"/>
<rect x="1311.9" y="436" width="1.0" height="267" fill="url(#gb4)" opacity="0.40"/>
<rect x="1279.1" y="436" width="2.0" height="267" fill="url(#gb0)" opacity="0.39"/>
<rect x="1286.8" y="572" width="2.0" height="131" fill="url(#gc1)" opacity="0.24"/>
<rect x="1212.7" y="543" width="2.0" height="160" fill="url(#gb1)" opacity="0.42"/>
<rect x="1273.7" y="446" width="1.0" height="147" fill="url(#gp3)" opacity="0.31"/>
<rect x="1183.4" y="618" width="1.0" height="36" fill="url(#gc5)" opacity="0.43"/>
<rect x="1232.7" y="586" width="1.0" height="72" fill="url(#gc5)" opacity="0.60"/>
<rect x="1242.3" y="618" width="1.0" height="53" fill="url(#gt5)" opacity="0.51"/>
<rect x="1177.7" y="599" width="1.0" height="69" fill="url(#gc5)" opacity="0.69"/>
<rect x="1246.9" y="599" width="1.0" height="78" fill="url(#gc5)" opacity="0.67"/>
<rect x="1229.9" y="608" width="1.0" height="40" fill="url(#gc5)" opacity="0.63"/>
<rect x="1198.9" y="600" width="1.5" height="67" fill="url(#gc5)" opacity="0.60"/>
<rect x="1221.8" y="612" width="1.0" height="65" fill="url(#gt5)" opacity="0.50"/>
<rect x="1187.6" y="623" width="1.5" height="51" fill="url(#gc5)" opacity="0.46"/>
<rect x="1212.4" y="626" width="2.0" height="51" fill="url(#gt5)" opacity="0.58"/>
<rect x="1253.1" y="590" width="2.0" height="55" fill="url(#gt5)" opacity="0.72"/>
<rect x="1230.1" y="611" width="1.0" height="66" fill="url(#gc5)" opacity="0.53"/>
<rect x="1217.4" y="612" width="1.5" height="43" fill="url(#gt5)" opacity="0.46"/>
<rect x="1241.8" y="619" width="1.0" height="37" fill="url(#gt5)" opacity="0.47"/>
<rect x="1250.6" y="616" width="1.0" height="31" fill="url(#gc5)" opacity="0.44"/>
<rect x="1250.7" y="624" width="2.0" height="37" fill="url(#gt5)" opacity="0.74"/>
<rect x="1228.7" y="610" width="1.0" height="67" fill="url(#gc5)" opacity="0.51"/>
<rect x="1181.1" y="601" width="1.0" height="76" fill="url(#gt5)" opacity="0.37"/>
<rect x="1208.7" y="606" width="1.5" height="62" fill="url(#gc5)" opacity="0.43"/>
<rect x="1240.9" y="625" width="2.0" height="52" fill="url(#gc5)" opacity="0.42"/>
<rect x="1255.4" y="593" width="1.0" height="34" fill="url(#gc5)" opacity="0.45"/>
<rect x="1199.0" y="609" width="1.0" height="42" fill="url(#gc5)" opacity="0.50"/>
<rect x="1210.9" y="605" width="1.0" height="72" fill="url(#gt5)" opacity="0.52"/>
<rect x="1232.2" y="608" width="1.5" height="57" fill="url(#gc5)" opacity="0.42"/>
<rect x="1177.0" y="622" width="1.0" height="52" fill="url(#gc5)" opacity="0.38"/>
<rect x="1255.1" y="620" width="1.0" height="57" fill="url(#gc5)" opacity="0.52"/>
<rect x="1545.0" y="436" width="1.0" height="215" fill="url(#go2)" opacity="0.47"/>
<rect x="1539.1" y="564" width="1.5" height="113" fill="url(#go3)" opacity="0.37"/>
<rect x="1554.5" y="436" width="1.0" height="156" fill="url(#gy2)" opacity="0.28"/>
<rect x="1564.6" y="436" width="1.0" height="225" fill="url(#gy2)" opacity="0.24"/>
<rect x="1459.6" y="436" width="1.0" height="218" fill="url(#gy2)" opacity="0.30"/>
<rect x="1484.5" y="436" width="1.0" height="227" fill="url(#gy2)" opacity="0.24"/>
<rect x="1460.7" y="436" width="1.0" height="197" fill="url(#go2)" opacity="0.30"/>
<rect x="1514.2" y="438" width="1.0" height="239" fill="url(#gy3)" opacity="0.20"/>
<rect x="1503.8" y="565" width="1.5" height="112" fill="url(#go3)" opacity="0.39"/>
<rect x="1535.9" y="491" width="2.0" height="111" fill="url(#go3)" opacity="0.43"/>
<rect x="1447.1" y="439" width="1.5" height="183" fill="url(#gy3)" opacity="0.47"/>
<rect x="1437.3" y="436" width="1.0" height="175" fill="url(#go2)" opacity="0.50"/>
<rect x="1578.0" y="436" width="1.0" height="240" fill="url(#go2)" opacity="0.37"/>
<rect x="1596.1" y="436" width="1.0" height="223" fill="url(#go2)" opacity="0.45"/>
<rect x="1576.8" y="436" width="1.0" height="229" fill="url(#gy2)" opacity="0.33"/>
<rect x="1443.3" y="436" width="2.0" height="224" fill="url(#gy2)" opacity="0.22"/>
<rect x="1584.1" y="478" width="1.0" height="199" fill="url(#gy3)" opacity="0.35"/>
<rect x="1439.6" y="436" width="1.0" height="193" fill="url(#go2)" opacity="0.38"/>
<rect x="1493.4" y="436" width="1.0" height="235" fill="url(#gy2)" opacity="0.24"/>
<rect x="1408.4" y="546" width="1.5" height="116" fill="url(#go3)" opacity="0.49"/>
<rect x="1485.6" y="436" width="1.0" height="199" fill="url(#gy2)" opacity="0.36"/>
<rect x="1578.2" y="520" width="1.0" height="157" fill="url(#gy3)" opacity="0.32"/>
<rect x="1462.7" y="436" width="1.5" height="192" fill="url(#gy2)" opacity="0.38"/>
<rect x="1567.0" y="532" width="2.0" height="145" fill="url(#gy3)" opacity="0.45"/>
<rect x="1543.5" y="517" width="2.0" height="160" fill="url(#gy3)" opacity="0.44"/>
<rect x="1568.3" y="436" width="1.5" height="189" fill="url(#gy2)" opacity="0.28"/>
<rect x="1442.4" y="499" width="1.0" height="178" fill="url(#gy3)" opacity="0.33"/>
<rect x="1479.6" y="511" width="1.0" height="166" fill="url(#gy3)" opacity="0.48"/>
<rect x="1525.6" y="515" width="1.0" height="43" fill="url(#go3)" opacity="0.26"/>
<rect x="1428.3" y="436" width="1.0" height="209" fill="url(#go2)" opacity="0.30"/>
<rect x="1498.7" y="436" width="1.0" height="166" fill="url(#go2)" opacity="0.29"/>
<rect x="1589.0" y="436" width="1.0" height="164" fill="url(#gy2)" opacity="0.22"/>
<rect x="1470.1" y="583" width="1.5" height="94" fill="url(#gy3)" opacity="0.50"/>
<rect x="1516.2" y="452" width="1.0" height="225" fill="url(#gy3)" opacity="0.43"/>
<rect x="1576.9" y="436" width="1.0" height="203" fill="url(#go2)" opacity="0.44"/>
<rect x="1485.3" y="436" width="1.0" height="199" fill="url(#go2)" opacity="0.37"/>
<rect x="1558.7" y="436" width="1.0" height="215" fill="url(#gy2)" opacity="0.23"/>
<rect x="1476.7" y="513" width="1.0" height="164" fill="url(#gy3)" opacity="0.37"/>
<rect x="1537.3" y="511" width="1.5" height="131" fill="url(#go3)" opacity="0.21"/>
<rect x="1442.4" y="436" width="1.0" height="198" fill="url(#gy2)" opacity="0.26"/>
<rect x="1516.2" y="436" width="1.5" height="173" fill="url(#go2)" opacity="0.35"/>
<rect x="1414.0" y="508" width="1.0" height="169" fill="url(#gy3)" opacity="0.47"/>
<rect x="1516.2" y="436" width="1.0" height="185" fill="url(#go2)" opacity="0.46"/>
<rect x="1525.0" y="436" width="1.0" height="161" fill="url(#go2)" opacity="0.40"/>
<rect x="1429.4" y="436" width="1.0" height="213" fill="url(#gy2)" opacity="0.31"/>
<rect x="1551.8" y="436" width="2.0" height="199" fill="url(#gy2)" opacity="0.38"/>
<rect x="1434.2" y="436" width="1.0" height="238" fill="url(#gy2)" opacity="0.36"/>
<rect x="1445.1" y="436" width="1.0" height="180" fill="url(#gy2)" opacity="0.37"/>
<rect x="1534.4" y="436" width="2.0" height="208" fill="url(#go2)" opacity="0.37"/>
<rect x="1462.8" y="436" width="1.0" height="213" fill="url(#gy2)" opacity="0.24"/>
<rect x="1529.0" y="436" width="2.0" height="211" fill="url(#gy2)" opacity="0.44"/>
<rect x="1554.6" y="436" width="1.0" height="240" fill="url(#go2)" opacity="0.38"/>
<rect x="1582.5" y="436" width="1.0" height="238" fill="url(#go2)" opacity="0.22"/>
<rect x="1529.3" y="436" width="1.0" height="202" fill="url(#gy2)" opacity="0.26"/>
<rect x="1558.3" y="436" width="1.0" height="152" fill="url(#gy2)" opacity="0.41"/>
<rect x="1529.1" y="436" width="1.0" height="233" fill="url(#go2)" opacity="0.21"/>
<rect x="1584.2" y="436" width="1.0" height="240" fill="url(#go2)" opacity="0.23"/>
<rect x="1551.5" y="588" width="1.5" height="89" fill="url(#gy3)" opacity="0.24"/>
<rect x="1468.3" y="464" width="2.0" height="213" fill="url(#go3)" opacity="0.23"/>
<rect x="1429.0" y="436" width="2.0" height="221" fill="url(#gy2)" opacity="0.34"/>
<rect x="1424.2" y="517" width="1.0" height="160" fill="url(#gy3)" opacity="0.39"/>
<rect x="1537.7" y="441" width="1.0" height="236" fill="url(#go3)" opacity="0.43"/>
<rect x="1557.7" y="436" width="2.0" height="231" fill="url(#go2)" opacity="0.23"/>
<rect x="1549.3" y="448" width="2.0" height="229" fill="url(#gy3)" opacity="0.49"/>
<rect x="1410.9" y="540" width="2.0" height="137" fill="url(#gy3)" opacity="0.25"/>
<rect x="1461.0" y="436" width="1.0" height="191" fill="url(#go2)" opacity="0.23"/>
<rect x="1515.9" y="478" width="1.0" height="199" fill="url(#go3)" opacity="0.31"/>
<rect x="1532.6" y="476" width="1.0" height="201" fill="url(#go3)" opacity="0.22"/>
<rect x="1469.0" y="436" width="1.5" height="222" fill="url(#gy2)" opacity="0.28"/>
<rect x="1429.2" y="473" width="2.0" height="204" fill="url(#gy3)" opacity="0.30"/>
<rect x="1430.8" y="447" width="1.5" height="256" fill="url(#gd1)" opacity="0.24"/>
<rect x="1536.6" y="436" width="1.0" height="267" fill="url(#gd0)" opacity="0.22"/>
<rect x="1497.3" y="436" width="1.0" height="267" fill="url(#gk0)" opacity="0.27"/>
<rect x="1449.5" y="436" width="1.5" height="267" fill="url(#gk0)" opacity="0.30"/>
<rect x="1412.9" y="583" width="1.0" height="120" fill="url(#gk1)" opacity="0.18"/>
<rect x="1543.0" y="440" width="1.0" height="263" fill="url(#gd1)" opacity="0.16"/>
<rect x="1373.6" y="523" width="1.0" height="165" fill="url(#gk3)" opacity="0.31"/>
<rect x="1409.6" y="494" width="1.0" height="52" fill="url(#gd3)" opacity="0.21"/>
<rect x="1512.3" y="498" width="1.5" height="205" fill="url(#gd1)" opacity="0.15"/>
<rect x="1453.9" y="436" width="1.5" height="267" fill="url(#gd0)" opacity="0.18"/>
<rect x="1610.6" y="436" width="2.0" height="267" fill="url(#gd0)" opacity="0.19"/>
<rect x="1504.4" y="436" width="1.5" height="267" fill="url(#gd0)" opacity="0.27"/>
<rect x="1519.8" y="436" width="1.0" height="267" fill="url(#gk0)" opacity="0.21"/>
<rect x="1481.2" y="436" width="1.0" height="267" fill="url(#gk4)" opacity="0.20"/>
<rect x="1394.4" y="445" width="2.0" height="258" fill="url(#gd1)" opacity="0.17"/>
<rect x="1469.9" y="436" width="2.0" height="267" fill="url(#gd4)" opacity="0.28"/>
<rect x="1451.9" y="436" width="1.5" height="267" fill="url(#gd0)" opacity="0.27"/>
<rect x="1509.3" y="436" width="1.0" height="267" fill="url(#gd0)" opacity="0.26"/>
<rect x="1556.3" y="483" width="2.0" height="97" fill="url(#gk3)" opacity="0.17"/>
<rect x="1627.5" y="522" width="1.0" height="181" fill="url(#gd1)" opacity="0.26"/>
<rect x="1490.9" y="436" width="1.5" height="267" fill="url(#gd0)" opacity="0.28"/>
<rect x="1375.1" y="534" width="2.0" height="66" fill="url(#gk3)" opacity="0.16"/>
<rect x="1396.2" y="639" width="1.0" height="64" fill="url(#gk1)" opacity="0.19"/>
<rect x="1451.0" y="534" width="2.0" height="60" fill="url(#gk3)" opacity="0.15"/>
<rect x="1561.9" y="543" width="1.5" height="160" fill="url(#gk3)" opacity="0.25"/>
<rect x="1514.3" y="436" width="1.0" height="267" fill="url(#gk4)" opacity="0.18"/>
<rect x="1466.9" y="575" width="1.0" height="128" fill="url(#gd3)" opacity="0.20"/>
<rect x="1639.6" y="436" width="2.0" height="267" fill="url(#gd4)" opacity="0.20"/>
<rect x="1444.7" y="509" width="2.0" height="179" fill="url(#gd3)" opacity="0.24"/>
<rect x="1373.2" y="496" width="2.0" height="87" fill="url(#gd3)" opacity="0.14"/>
<rect x="1492.5" y="436" width="2.0" height="267" fill="url(#gk0)" opacity="0.24"/>
<rect x="1436.7" y="618" width="2.0" height="85" fill="url(#gd3)" opacity="0.20"/>
<rect x="1547.4" y="505" width="2.0" height="198" fill="url(#gd1)" opacity="0.20"/>
<rect x="1362.1" y="533" width="2.0" height="170" fill="url(#gd1)" opacity="0.25"/>
<rect x="1589.0" y="497" width="2.0" height="206" fill="url(#gd1)" opacity="0.19"/>
<rect x="1509.3" y="436" width="1.5" height="267" fill="url(#gd4)" opacity="0.24"/>
<rect x="1599.0" y="534" width="1.5" height="169" fill="url(#gd1)" opacity="0.22"/>
<rect x="1536.6" y="539" width="1.0" height="84" fill="url(#gd3)" opacity="0.30"/>
<rect x="1470.8" y="436" width="1.5" height="267" fill="url(#gk0)" opacity="0.16"/>
<rect x="1434.8" y="436" width="1.0" height="267" fill="url(#gd0)" opacity="0.27"/>
<rect x="1485.8" y="484" width="1.0" height="219" fill="url(#gd1)" opacity="0.21"/>
<rect x="1519.5" y="590" width="2.0" height="113" fill="url(#gd1)" opacity="0.29"/>
<rect x="1633.4" y="611" width="1.0" height="92" fill="url(#gd3)" opacity="0.15"/>
<rect x="1540.6" y="487" width="1.0" height="199" fill="url(#gd3)" opacity="0.19"/>
<rect x="1643.9" y="577" width="1.0" height="126" fill="url(#gd1)" opacity="0.17"/>
<rect x="1473.1" y="607" width="1.0" height="96" fill="url(#gd3)" opacity="0.31"/>
<rect x="1437.2" y="452" width="1.0" height="166" fill="url(#gd3)" opacity="0.28"/>
<rect x="1518.0" y="512" width="1.0" height="191" fill="url(#gk1)" opacity="0.28"/>
<rect x="1505.4" y="566" width="1.0" height="137" fill="url(#gk3)" opacity="0.28"/>
<rect x="1413.7" y="436" width="1.0" height="267" fill="url(#gd0)" opacity="0.31"/>
<rect x="1484.5" y="436" width="1.0" height="267" fill="url(#gd4)" opacity="0.15"/>
<rect x="1473.1" y="537" width="1.0" height="101" fill="url(#gk3)" opacity="0.28"/>
<rect x="1478.5" y="452" width="1.0" height="164" fill="url(#gd3)" opacity="0.31"/>
<rect x="1385.6" y="436" width="2.0" height="267" fill="url(#gk0)" opacity="0.18"/>
<rect x="1643.8" y="528" width="1.0" height="175" fill="url(#gd1)" opacity="0.16"/>
<rect x="1637.6" y="538" width="1.0" height="154" fill="url(#gk3)" opacity="0.27"/>
<rect x="1550.3" y="462" width="1.0" height="54" fill="url(#gd3)" opacity="0.21"/>
<rect x="1387.0" y="532" width="2.0" height="67" fill="url(#gk3)" opacity="0.14"/>
<rect x="1509.2" y="577" width="1.0" height="114" fill="url(#gk3)" opacity="0.30"/>
<rect x="1511.8" y="436" width="1.5" height="267" fill="url(#gd4)" opacity="0.22"/>
<rect x="1549.0" y="640" width="2.0" height="35" fill="url(#gt5)" opacity="0.43"/>
<rect x="1581.0" y="642" width="1.0" height="50" fill="url(#gt5)" opacity="0.28"/>
<rect x="1590.9" y="632" width="1.5" height="37" fill="url(#gb5)" opacity="0.31"/>
<rect x="1622.2" y="645" width="1.0" height="54" fill="url(#gt5)" opacity="0.30"/>
<rect x="1588.4" y="630" width="2.0" height="35" fill="url(#gb5)" opacity="0.43"/>
<rect x="1638.9" y="652" width="1.0" height="51" fill="url(#gc5)" opacity="0.49"/>
<rect x="1578.8" y="630" width="1.0" height="56" fill="url(#gt5)" opacity="0.44"/>
<rect x="1588.8" y="640" width="1.0" height="63" fill="url(#gt5)" opacity="0.46"/>
<rect x="1609.8" y="627" width="1.5" height="40" fill="url(#gt5)" opacity="0.41"/>
<rect x="1600.6" y="625" width="1.5" height="59" fill="url(#gt5)" opacity="0.49"/>
<rect x="1633.2" y="643" width="1.0" height="44" fill="url(#gc5)" opacity="0.46"/>
<rect x="1603.6" y="639" width="1.0" height="50" fill="url(#gc5)" opacity="0.36"/>
<rect x="1597.8" y="634" width="1.0" height="59" fill="url(#gb5)" opacity="0.26"/>
<rect x="1606.5" y="642" width="1.5" height="38" fill="url(#gb5)" opacity="0.46"/>
<rect x="1616.0" y="627" width="2.0" height="64" fill="url(#gb5)" opacity="0.26"/>
<rect x="1625.4" y="627" width="2.0" height="72" fill="url(#gt5)" opacity="0.26"/>
<rect x="1583.8" y="624" width="1.0" height="42" fill="url(#gt5)" opacity="0.44"/>
<rect x="1593.6" y="634" width="1.5" height="55" fill="url(#gt5)" opacity="0.44"/>
<rect x="1591.2" y="630" width="2.0" height="62" fill="url(#gb5)" opacity="0.46"/>
<rect x="1569.2" y="643" width="1.5" height="52" fill="url(#gc5)" opacity="0.31"/>
<rect x="1609.1" y="626" width="1.0" height="77" fill="url(#gb5)" opacity="0.38"/>
<rect x="1611.0" y="634" width="1.0" height="69" fill="url(#gt5)" opacity="0.31"/>
<rect x="1540.6" y="644" width="1.0" height="59" fill="url(#gt5)" opacity="0.30"/>
<rect x="1601.8" y="623" width="2.0" height="68" fill="url(#gt5)" opacity="0.47"/>
<rect x="1602.5" y="632" width="1.0" height="63" fill="url(#gc5)" opacity="0.45"/>
<linearGradient id="h13b" gradientUnits="userSpaceOnUse" x1="198" y1="0" x2="1210" y2="0"><stop offset="0.0000" stop-color="#55008a" stop-opacity="1.00"/><stop offset="0.0023" stop-color="#3301a2" stop-opacity="1.00"/><stop offset="0.0046" stop-color="#1107ba" stop-opacity="1.00"/><stop offset="0.0069" stop-color="#0522d1" stop-opacity="1.00"/><stop offset="0.0514" stop-color="#0341d7" stop-opacity="1.00"/><stop offset="0.0909" stop-color="#0171d8" stop-opacity="1.00"/><stop offset="0.1304" stop-color="#0163d9" stop-opacity="1.00"/><stop offset="0.1798" stop-color="#0163d9" stop-opacity="1.00"/><stop offset="0.2589" stop-color="#0163d9" stop-opacity="1.00"/><stop offset="0.3182" stop-color="#0341d7" stop-opacity="1.00"/><stop offset="0.3577" stop-color="#0163d9" stop-opacity="1.00"/><stop offset="0.4170" stop-color="#007dd7" stop-opacity="1.00"/><stop offset="0.4960" stop-color="#0252d8" stop-opacity="1.00"/><stop offset="0.5133" stop-color="#061cce" stop-opacity="1.00"/><stop offset="0.5306" stop-color="#1605b5" stop-opacity="1.00"/><stop offset="0.5326" stop-color="#3f019b" stop-opacity="1.00"/><stop offset="0.5346" stop-color="#560081" stop-opacity="0.97"/><stop offset="0.5366" stop-color="#3b0050" stop-opacity="0.37"/><stop offset="0.5385" stop-color="#0f0014" stop-opacity="0.00"/><stop offset="0.5405" stop-color="#010002" stop-opacity="0.00"/><stop offset="0.5479" stop-color="#010001" stop-opacity="0.00"/><stop offset="0.5553" stop-color="#000001" stop-opacity="0.00"/><stop offset="0.6067" stop-color="#000001" stop-opacity="0.00"/><stop offset="0.6107" stop-color="#010001" stop-opacity="0.00"/><stop offset="0.6818" stop-color="#010001" stop-opacity="0.00"/><stop offset="0.7233" stop-color="#010001" stop-opacity="0.00"/><stop offset="0.7258" stop-color="#010002" stop-opacity="0.00"/><stop offset="0.7283" stop-color="#130018" stop-opacity="0.00"/><stop offset="0.7530" stop-color="#45005e" stop-opacity="0.50"/><stop offset="0.7826" stop-color="#2b0039" stop-opacity="0.17"/><stop offset="0.8172" stop-color="#130018" stop-opacity="0.00"/><stop offset="0.8246" stop-color="#010002" stop-opacity="0.00"/><stop offset="0.8320" stop-color="#010001" stop-opacity="0.00"/><stop offset="0.8913" stop-color="#000001" stop-opacity="0.00"/><stop offset="0.9506" stop-color="#000001" stop-opacity="0.00"/><stop offset="0.9901" stop-color="#000000" stop-opacity="0.00"/><stop offset="0.9926" stop-color="#000000" stop-opacity="0.00"/><stop offset="0.9951" stop-color="#000000" stop-opacity="0.00"/><stop offset="0.9975" stop-color="#000000" stop-opacity="0.00"/><stop offset="1.0000" stop-color="#000000" stop-opacity="0.00"/></linearGradient>
<rect x="198" y="507.25" width="1012" height="7.5" fill="url(#h13b)" opacity="1.0"/>
<linearGradient id="h13c" gradientUnits="userSpaceOnUse" x1="198" y1="0" x2="1210" y2="0"><stop offset="0.0000" stop-color="#0168d9" stop-opacity="1.00"/><stop offset="0.0023" stop-color="#008cd0" stop-opacity="1.00"/><stop offset="0.0046" stop-color="#009fb7" stop-opacity="1.00"/><stop offset="0.0069" stop-color="#00a693" stop-opacity="1.00"/><stop offset="0.0514" stop-color="#00a778" stop-opacity="1.00"/><stop offset="0.0909" stop-color="#00a541" stop-opacity="1.00"/><stop offset="0.1304" stop-color="#00a654" stop-opacity="1.00"/><stop offset="0.1798" stop-color="#00a654" stop-opacity="1.00"/><stop offset="0.2589" stop-color="#00a654" stop-opacity="1.00"/><stop offset="0.3182" stop-color="#00a778" stop-opacity="1.00"/><stop offset="0.3577" stop-color="#00a654" stop-opacity="1.00"/><stop offset="0.4170" stop-color="#00a62f" stop-opacity="1.00"/><stop offset="0.4960" stop-color="#00a667" stop-opacity="1.00"/><stop offset="0.5133" stop-color="#00a699" stop-opacity="1.00"/><stop offset="0.5306" stop-color="#009cbd" stop-opacity="1.00"/><stop offset="0.5326" stop-color="#0085d4" stop-opacity="1.00"/><stop offset="0.5346" stop-color="#0156d9" stop-opacity="1.00"/><stop offset="0.5366" stop-color="#061ecf" stop-opacity="1.00"/><stop offset="0.5385" stop-color="#1605b5" stop-opacity="1.00"/><stop offset="0.5405" stop-color="#3f019b" stop-opacity="1.00"/><stop offset="0.5479" stop-color="#55007d" stop-opacity="0.90"/><stop offset="0.5553" stop-color="#300041" stop-opacity="0.23"/><stop offset="0.6067" stop-color="#17001e" stop-opacity="0.00"/><stop offset="0.6107" stop-color="#490064" stop-opacity="0.57"/><stop offset="0.6818" stop-color="#490064" stop-opacity="0.57"/><stop offset="0.7233" stop-color="#55007d" stop-opacity="0.90"/><stop offset="0.7258" stop-color="#3f019b" stop-opacity="1.00"/><stop offset="0.7283" stop-color="#1306b8" stop-opacity="1.00"/><stop offset="0.7530" stop-color="#0528d2" stop-opacity="1.00"/><stop offset="0.7826" stop-color="#0911c7" stop-opacity="1.00"/><stop offset="0.8172" stop-color="#1306b8" stop-opacity="1.00"/><stop offset="0.8246" stop-color="#3f019b" stop-opacity="1.00"/><stop offset="0.8320" stop-color="#55007d" stop-opacity="0.90"/><stop offset="0.8913" stop-color="#300041" stop-opacity="0.23"/><stop offset="0.9506" stop-color="#300041" stop-opacity="0.23"/><stop offset="0.9901" stop-color="#07000a" stop-opacity="0.00"/><stop offset="0.9926" stop-color="#010002" stop-opacity="0.00"/><stop offset="0.9951" stop-color="#010001" stop-opacity="0.00"/><stop offset="0.9975" stop-color="#000001" stop-opacity="0.00"/><stop offset="1.0000" stop-color="#000000" stop-opacity="0.00"/></linearGradient>
<rect x="198" y="508.95" width="1012" height="4.10" fill="url(#h13c)" opacity="1.0"/>
<linearGradient id="h13a" gradientUnits="userSpaceOnUse" x1="198" y1="0" x2="1210" y2="0"><stop offset="0.0000" stop-color="#00aa1a" stop-opacity="1.00"/><stop offset="0.0023" stop-color="#01bc06" stop-opacity="1.00"/><stop offset="0.0046" stop-color="#05d301" stop-opacity="1.00"/><stop offset="0.0069" stop-color="#14ea00" stop-opacity="1.00"/><stop offset="0.0514" stop-color="#2ef300" stop-opacity="1.00"/><stop offset="0.0909" stop-color="#75f900" stop-opacity="1.00"/><stop offset="0.1304" stop-color="#5bf800" stop-opacity="1.00"/><stop offset="0.1798" stop-color="#5bf800" stop-opacity="1.00"/><stop offset="0.2589" stop-color="#5bf800" stop-opacity="1.00"/><stop offset="0.3182" stop-color="#2ef300" stop-opacity="1.00"/><stop offset="0.3577" stop-color="#5bf800" stop-opacity="1.00"/><stop offset="0.4170" stop-color="#8ef800" stop-opacity="1.00"/><stop offset="0.4960" stop-color="#42f600" stop-opacity="1.00"/><stop offset="0.5133" stop-color="#11e700" stop-opacity="1.00"/><stop offset="0.5306" stop-color="#04cf02" stop-opacity="1.00"/><stop offset="0.5326" stop-color="#00b60a" stop-opacity="1.00"/><stop offset="0.5346" stop-color="#00a729" stop-opacity="1.00"/><stop offset="0.5366" stop-color="#00a66a" stop-opacity="1.00"/><stop offset="0.5385" stop-color="#00a59d" stop-opacity="1.00"/><stop offset="0.5405" stop-color="#009ac1" stop-opacity="1.00"/><stop offset="0.5479" stop-color="#007dd7" stop-opacity="1.00"/><stop offset="0.5553" stop-color="#0341d7" stop-opacity="1.00"/><stop offset="0.6067" stop-color="#0522d1" stop-opacity="1.00"/><stop offset="0.6107" stop-color="#0163d9" stop-opacity="1.00"/><stop offset="0.6818" stop-color="#0163d9" stop-opacity="1.00"/><stop offset="0.7233" stop-color="#007dd7" stop-opacity="1.00"/><stop offset="0.7258" stop-color="#009ac1" stop-opacity="1.00"/><stop offset="0.7283" stop-color="#00a698" stop-opacity="1.00"/><stop offset="0.7530" stop-color="#00a65c" stop-opacity="1.00"/><stop offset="0.7826" stop-color="#00a77e" stop-opacity="1.00"/><stop offset="0.8172" stop-color="#00a698" stop-opacity="1.00"/><stop offset="0.8246" stop-color="#009ac1" stop-opacity="1.00"/><stop offset="0.8320" stop-color="#007dd7" stop-opacity="1.00"/><stop offset="0.8913" stop-color="#0341d7" stop-opacity="1.00"/><stop offset="0.9506" stop-color="#0341d7" stop-opacity="1.00"/><stop offset="0.9901" stop-color="#0a0ec4" stop-opacity="1.00"/><stop offset="0.9926" stop-color="#2802a8" stop-opacity="1.00"/><stop offset="0.9951" stop-color="#52008e" stop-opacity="1.00"/><stop offset="0.9975" stop-color="#4c0069" stop-opacity="0.62"/><stop offset="1.0000" stop-color="#1e0027" stop-opacity="0.00"/></linearGradient>
<rect x="198" y="510.05" width="1012" height="1.9" fill="url(#h13a)" opacity="1.0"/>
<linearGradient id="h14a" gradientUnits="userSpaceOnUse" x1="198" y1="0" x2="1210" y2="0"><stop offset="0.0000" stop-color="#0a0ec4" stop-opacity="1.00"/><stop offset="0.0035" stop-color="#0429d3" stop-opacity="1.00"/><stop offset="0.0069" stop-color="#0252d8" stop-opacity="1.00"/><stop offset="0.1304" stop-color="#0341d7" stop-opacity="1.00"/><stop offset="0.1996" stop-color="#0717cb" stop-opacity="1.00"/><stop offset="0.5356" stop-color="#0a0ec4" stop-opacity="1.00"/><stop offset="0.5949" stop-color="#2b02a6" stop-opacity="1.00"/><stop offset="0.7233" stop-color="#0a0ec4" stop-opacity="1.00"/><stop offset="0.8221" stop-color="#0431d4" stop-opacity="1.00"/><stop offset="0.9901" stop-color="#0717cb" stop-opacity="1.00"/><stop offset="0.9926" stop-color="#1f03ad" stop-opacity="1.00"/><stop offset="0.9951" stop-color="#4e0092" stop-opacity="1.00"/><stop offset="0.9975" stop-color="#4e006c" stop-opacity="0.67"/><stop offset="1.0000" stop-color="#1e0027" stop-opacity="0.00"/></linearGradient>
<rect x="198" y="517.80" width="1012" height="1.6" fill="url(#h14a)" opacity="0.75"/>
<linearGradient id="h15a" gradientUnits="userSpaceOnUse" x1="198" y1="0" x2="620" y2="0"><stop offset="0.0000" stop-color="#55008a" stop-opacity="1.00"/><stop offset="0.0166" stop-color="#37019f" stop-opacity="1.00"/><stop offset="0.7156" stop-color="#440199" stop-opacity="1.00"/><stop offset="0.8104" stop-color="#560082" stop-opacity="1.00"/><stop offset="0.9052" stop-color="#45005e" stop-opacity="0.50"/><stop offset="1.0000" stop-color="#1e0027" stop-opacity="0.00"/></linearGradient>
<rect x="198" y="533.55" width="422" height="1.5" fill="url(#h15a)" opacity="0.6"/>
<linearGradient id="h16a" gradientUnits="userSpaceOnUse" x1="198" y1="0" x2="1140" y2="0"><stop offset="0.0000" stop-color="#0a0ec4" stop-opacity="1.00"/><stop offset="0.0037" stop-color="#0429d3" stop-opacity="1.00"/><stop offset="0.0074" stop-color="#0252d8" stop-opacity="1.00"/><stop offset="0.1401" stop-color="#0341d7" stop-opacity="1.00"/><stop offset="0.2357" stop-color="#0a0ec4" stop-opacity="1.00"/><stop offset="0.5754" stop-color="#0717cb" stop-opacity="1.00"/><stop offset="0.6550" stop-color="#0f09bd" stop-opacity="1.00"/><stop offset="0.7771" stop-color="#0522d1" stop-opacity="1.00"/><stop offset="0.8832" stop-color="#0341d7" stop-opacity="1.00"/><stop offset="0.8992" stop-color="#0717cb" stop-opacity="1.00"/><stop offset="0.9151" stop-color="#1605b5" stop-opacity="1.00"/><stop offset="0.9522" stop-color="#37019f" stop-opacity="1.00"/><stop offset="0.9894" stop-color="#55008a" stop-opacity="1.00"/><stop offset="0.9947" stop-color="#490065" stop-opacity="0.58"/><stop offset="1.0000" stop-color="#1e0027" stop-opacity="0.00"/></linearGradient>
<rect x="198" y="540.10" width="942" height="1.8" fill="url(#h16a)" opacity="0.75"/>
<linearGradient id="h17a" gradientUnits="userSpaceOnUse" x1="198" y1="0" x2="1080" y2="0"><stop offset="0.0000" stop-color="#1f03ad" stop-opacity="1.00"/><stop offset="0.0079" stop-color="#0f09bd" stop-opacity="1.00"/><stop offset="0.1497" stop-color="#1605b5" stop-opacity="1.00"/><stop offset="0.4104" stop-color="#37019f" stop-opacity="1.00"/><stop offset="0.6145" stop-color="#440199" stop-opacity="1.00"/><stop offset="0.8299" stop-color="#440199" stop-opacity="1.00"/><stop offset="0.9093" stop-color="#37019f" stop-opacity="1.00"/><stop offset="0.9395" stop-color="#550088" stop-opacity="1.00"/><stop offset="0.9698" stop-color="#480063" stop-opacity="0.56"/><stop offset="1.0000" stop-color="#1e0027" stop-opacity="0.00"/></linearGradient>
<rect x="198" y="567.10" width="882" height="1.8" fill="url(#h17a)" opacity="0.65"/>
<linearGradient id="h18b" gradientUnits="userSpaceOnUse" x1="198" y1="0" x2="820" y2="0"><stop offset="0.0000" stop-color="#050007" stop-opacity="0.00"/><stop offset="0.2122" stop-color="#050007" stop-opacity="0.00"/><stop offset="0.2142" stop-color="#2b0039" stop-opacity="0.17"/><stop offset="0.2162" stop-color="#540079" stop-opacity="0.83"/><stop offset="0.2182" stop-color="#440199" stop-opacity="1.00"/><stop offset="0.2203" stop-color="#1605b5" stop-opacity="1.00"/><stop offset="0.2363" stop-color="#0a0ec4" stop-opacity="1.00"/><stop offset="0.2484" stop-color="#2b02a6" stop-opacity="1.00"/><stop offset="0.2605" stop-color="#55008a" stop-opacity="1.00"/><stop offset="0.3569" stop-color="#560082" stop-opacity="1.00"/><stop offset="0.4534" stop-color="#37019f" stop-opacity="1.00"/><stop offset="0.5820" stop-color="#1f03ad" stop-opacity="1.00"/><stop offset="0.7267" stop-color="#1f03ad" stop-opacity="1.00"/><stop offset="0.7669" stop-color="#3e019c" stop-opacity="1.00"/><stop offset="0.8071" stop-color="#55008a" stop-opacity="1.00"/><stop offset="0.9035" stop-color="#4e006c" stop-opacity="0.67"/><stop offset="0.9678" stop-color="#1e0027" stop-opacity="0.00"/><stop offset="0.9759" stop-color="#030005" stop-opacity="0.00"/><stop offset="0.9839" stop-color="#010002" stop-opacity="0.00"/><stop offset="0.9920" stop-color="#010001" stop-opacity="0.00"/><stop offset="1.0000" stop-color="#000001" stop-opacity="0.00"/></linearGradient>
<rect x="198" y="696.20" width="622" height="8" fill="url(#h18b)" opacity="0.95"/>
<linearGradient id="h18c" gradientUnits="userSpaceOnUse" x1="198" y1="0" x2="820" y2="0"><stop offset="0.0000" stop-color="#480062" stop-opacity="0.55"/><stop offset="0.2122" stop-color="#480062" stop-opacity="0.55"/><stop offset="0.2142" stop-color="#53008d" stop-opacity="1.00"/><stop offset="0.2162" stop-color="#2702a8" stop-opacity="1.00"/><stop offset="0.2182" stop-color="#0911c6" stop-opacity="1.00"/><stop offset="0.2203" stop-color="#0246d8" stop-opacity="1.00"/><stop offset="0.2363" stop-color="#0167d9" stop-opacity="1.00"/><stop offset="0.2484" stop-color="#0527d2" stop-opacity="1.00"/><stop offset="0.2605" stop-color="#1306b7" stop-opacity="1.00"/><stop offset="0.3569" stop-color="#1c04af" stop-opacity="1.00"/><stop offset="0.4534" stop-color="#071acd" stop-opacity="1.00"/><stop offset="0.5820" stop-color="#0336d5" stop-opacity="1.00"/><stop offset="0.7267" stop-color="#0336d5" stop-opacity="1.00"/><stop offset="0.7669" stop-color="#0815ca" stop-opacity="1.00"/><stop offset="0.8071" stop-color="#1306b7" stop-opacity="1.00"/><stop offset="0.9035" stop-color="#3401a1" stop-opacity="1.00"/><stop offset="0.9678" stop-color="#560085" stop-opacity="1.00"/><stop offset="0.9759" stop-color="#42005a" stop-opacity="0.47"/><stop offset="0.9839" stop-color="#16001c" stop-opacity="0.00"/><stop offset="0.9920" stop-color="#020003" stop-opacity="0.00"/><stop offset="1.0000" stop-color="#010002" stop-opacity="0.00"/></linearGradient>
<rect x="198" y="697.40" width="622" height="5.60" fill="url(#h18c)" opacity="0.95"/>
<linearGradient id="h18a" gradientUnits="userSpaceOnUse" x1="198" y1="0" x2="820" y2="0"><stop offset="0.0000" stop-color="#2b02a6" stop-opacity="1.00"/><stop offset="0.2122" stop-color="#2b02a6" stop-opacity="1.00"/><stop offset="0.2142" stop-color="#0a0ec4" stop-opacity="1.00"/><stop offset="0.2162" stop-color="#0341d7" stop-opacity="1.00"/><stop offset="0.2182" stop-color="#007dd7" stop-opacity="1.00"/><stop offset="0.2203" stop-color="#009ac1" stop-opacity="1.00"/><stop offset="0.2363" stop-color="#00a2ae" stop-opacity="1.00"/><stop offset="0.2484" stop-color="#008ecf" stop-opacity="1.00"/><stop offset="0.2605" stop-color="#0163d9" stop-opacity="1.00"/><stop offset="0.3569" stop-color="#0252d8" stop-opacity="1.00"/><stop offset="0.4534" stop-color="#0087d3" stop-opacity="1.00"/><stop offset="0.5820" stop-color="#0095c8" stop-opacity="1.00"/><stop offset="0.7267" stop-color="#0095c8" stop-opacity="1.00"/><stop offset="0.7669" stop-color="#0082d5" stop-opacity="1.00"/><stop offset="0.8071" stop-color="#0163d9" stop-opacity="1.00"/><stop offset="0.9035" stop-color="#0431d4" stop-opacity="1.00"/><stop offset="0.9678" stop-color="#0f09bd" stop-opacity="1.00"/><stop offset="0.9759" stop-color="#3101a3" stop-opacity="1.00"/><stop offset="0.9839" stop-color="#55008a" stop-opacity="1.00"/><stop offset="0.9920" stop-color="#490065" stop-opacity="0.58"/><stop offset="1.0000" stop-color="#1e0027" stop-opacity="0.00"/></linearGradient>
<rect x="198" y="698.50" width="622" height="3.4" fill="url(#h18a)" opacity="0.95"/>
<ellipse cx="819" cy="511" rx="2.5" ry="6" fill="#0163d9" opacity="0.8" filter="url(#sb)"/>
<ellipse cx="866" cy="511" rx="7" ry="5" fill="#008ecf" opacity="0.8" filter="url(#sb)"/>
<linearGradient id="v19" gradientUnits="userSpaceOnUse" x1="0" y1="548" x2="0" y2="703"><stop offset="0.000" stop-color="#00a2ae" stop-opacity="1.00"/><stop offset="0.123" stop-color="#00a77e" stop-opacity="1.00"/><stop offset="0.166" stop-color="#00a4a7" stop-opacity="1.00"/><stop offset="0.209" stop-color="#0097c6" stop-opacity="1.00"/><stop offset="0.252" stop-color="#007dd7" stop-opacity="1.00"/><stop offset="0.305" stop-color="#024dd8" stop-opacity="1.00"/><stop offset="0.359" stop-color="#071bcd" stop-opacity="1.00"/><stop offset="0.413" stop-color="#1605b5" stop-opacity="1.00"/><stop offset="0.800" stop-color="#2b02a6" stop-opacity="1.00"/><stop offset="0.847" stop-color="#0d0abf" stop-opacity="1.00"/><stop offset="0.895" stop-color="#042cd3" stop-opacity="1.00"/><stop offset="0.942" stop-color="#0163d9" stop-opacity="1.00"/><stop offset="0.971" stop-color="#008ecf" stop-opacity="1.00"/><stop offset="1.000" stop-color="#00a2ae" stop-opacity="1.00"/></linearGradient><rect x="332.30" y="548" width="2" height="155.00" fill="url(#v19)" opacity="0.9"/>
<linearGradient id="v20" gradientUnits="userSpaceOnUse" x1="0" y1="550" x2="0" y2="703"><stop offset="0.000" stop-color="#0522d1" stop-opacity="1.00"/><stop offset="0.111" stop-color="#0163d9" stop-opacity="1.00"/><stop offset="0.193" stop-color="#0522d1" stop-opacity="1.00"/><stop offset="0.275" stop-color="#1605b5" stop-opacity="1.00"/><stop offset="0.405" stop-color="#37019f" stop-opacity="1.00"/><stop offset="0.536" stop-color="#55008a" stop-opacity="1.00"/><stop offset="0.895" stop-color="#2b02a6" stop-opacity="1.00"/><stop offset="0.922" stop-color="#0c0bc1" stop-opacity="1.00"/><stop offset="0.948" stop-color="#0431d4" stop-opacity="1.00"/><stop offset="0.974" stop-color="#016ad9" stop-opacity="1.00"/><stop offset="1.000" stop-color="#008ecf" stop-opacity="1.00"/></linearGradient><rect x="336.00" y="550" width="2" height="153.00" fill="url(#v20)" opacity="0.8"/>
<linearGradient id="v21" gradientUnits="userSpaceOnUse" x1="0" y1="554" x2="0" y2="703"><stop offset="0.000" stop-color="#2b02a6" stop-opacity="1.00"/><stop offset="0.044" stop-color="#0f09bd" stop-opacity="1.00"/><stop offset="0.087" stop-color="#0522d1" stop-opacity="1.00"/><stop offset="0.154" stop-color="#1605b5" stop-opacity="1.00"/><stop offset="0.221" stop-color="#440199" stop-opacity="1.00"/><stop offset="0.339" stop-color="#560082" stop-opacity="1.00"/><stop offset="0.456" stop-color="#45005e" stop-opacity="0.50"/><stop offset="0.893" stop-color="#55008a" stop-opacity="1.00"/><stop offset="0.919" stop-color="#3101a3" stop-opacity="1.00"/><stop offset="0.946" stop-color="#0f09bd" stop-opacity="1.00"/><stop offset="0.973" stop-color="#0429d3" stop-opacity="1.00"/><stop offset="1.000" stop-color="#0163d9" stop-opacity="1.00"/></linearGradient><rect x="340.00" y="554" width="2" height="149.00" fill="url(#v21)" opacity="0.7"/>
<linearGradient id="v22" gradientUnits="userSpaceOnUse" x1="0" y1="436" x2="0" y2="703"><stop offset="0.000" stop-color="#0a0ec4" stop-opacity="1.00"/><stop offset="0.397" stop-color="#0a0ec4" stop-opacity="1.00"/><stop offset="0.697" stop-color="#0522d1" stop-opacity="1.00"/><stop offset="0.734" stop-color="#0158d9" stop-opacity="1.00"/><stop offset="0.772" stop-color="#0083d5" stop-opacity="1.00"/><stop offset="0.809" stop-color="#009ac1" stop-opacity="1.00"/><stop offset="0.884" stop-color="#00a698" stop-opacity="1.00"/><stop offset="0.898" stop-color="#009dbc" stop-opacity="1.00"/><stop offset="0.912" stop-color="#0087d3" stop-opacity="1.00"/><stop offset="0.926" stop-color="#015bd9" stop-opacity="1.00"/><stop offset="0.940" stop-color="#0522d1" stop-opacity="1.00"/><stop offset="1.000" stop-color="#0163d9" stop-opacity="1.00"/></linearGradient><rect x="754.95" y="436" width="1.5" height="267.00" fill="url(#v22)" opacity="0.9"/>
<path d="M756,664 L766,667.5 L756,672 Z" fill="#00a698" opacity="0.8"/>
<linearGradient id="v23" gradientUnits="userSpaceOnUse" x1="0" y1="436" x2="0" y2="703"><stop offset="0.000" stop-color="#2b02a6" stop-opacity="1.00"/><stop offset="0.584" stop-color="#2b02a6" stop-opacity="1.00"/><stop offset="0.959" stop-color="#0a0ec4" stop-opacity="1.00"/><stop offset="0.979" stop-color="#0341d7" stop-opacity="1.00"/><stop offset="1.000" stop-color="#007dd7" stop-opacity="1.00"/></linearGradient><rect x="789.20" y="436" width="1.2" height="267.00" fill="url(#v23)" opacity="0.8"/>
<linearGradient id="v24" gradientUnits="userSpaceOnUse" x1="0" y1="436" x2="0" y2="703"><stop offset="0.000" stop-color="#55008a" stop-opacity="1.00"/><stop offset="0.247" stop-color="#2b02a6" stop-opacity="1.00"/><stop offset="0.262" stop-color="#0a0ec4" stop-opacity="1.00"/><stop offset="0.277" stop-color="#0341d7" stop-opacity="1.00"/><stop offset="0.292" stop-color="#007dd7" stop-opacity="1.00"/><stop offset="0.302" stop-color="#0341d7" stop-opacity="1.00"/><stop offset="0.312" stop-color="#0a0ec4" stop-opacity="1.00"/><stop offset="0.322" stop-color="#2b02a6" stop-opacity="1.00"/><stop offset="0.584" stop-color="#55008a" stop-opacity="1.00"/><stop offset="0.940" stop-color="#55008a" stop-opacity="1.00"/><stop offset="0.951" stop-color="#2b02a6" stop-opacity="1.00"/><stop offset="0.963" stop-color="#0a0ec4" stop-opacity="1.00"/><stop offset="0.974" stop-color="#0341d7" stop-opacity="1.00"/><stop offset="0.979" stop-color="#0078d7" stop-opacity="1.00"/><stop offset="0.984" stop-color="#0096c7" stop-opacity="1.00"/><stop offset="0.990" stop-color="#00a4a5" stop-opacity="1.00"/><stop offset="0.995" stop-color="#00a778" stop-opacity="1.00"/><stop offset="1.000" stop-color="#00a636" stop-opacity="1.00"/></linearGradient><rect x="841.20" y="436" width="5" height="267.00" fill="url(#v24)" opacity="0.6"/>
<path d="M827,498 Q831,524 838,542 T856,576" fill="none" stroke="#007dd7" stroke-width="2.2" opacity="0.8" filter="url(#sb)"/>
<path d="M842,554 L849,568 L857,578" fill="none" stroke="#00a636" stroke-width="2.4" opacity="0.85"/>
<path d="M886,562 Q880,592 872,622" fill="none" stroke="#007dd7" stroke-width="2" opacity="0.6" filter="url(#sb)"/>
<rect x="858" y="688" width="12" height="15" fill="#00a698" opacity="0.5" filter="url(#sb)"/></g>
<text x="900.5" y="47.3" font-size="45.83" text-anchor="middle">e-POP RRI Quicklook Plot</text>
<text x="899.5" y="96" font-size="41.67" text-anchor="middle">October 30, 2025</text>
<polygon points="208.5,60.3 239.5,6.3 301.5,6.3 332.8,60.3 301.5,114.2 239.5,114.2" fill="#fff" stroke="#bfe3ea" stroke-width="0.8"/>
<defs><clipPath id="hexc"><polygon points="215.8,60.3 243.2,12.8 298,12.8 325.8,60.3 300,105 241.5,105"/></clipPath><linearGradient id="hsky" x1="0" y1="0" x2="0" y2="1"><stop offset="0" stop-color="#000"/><stop offset="0.52" stop-color="#02060a"/><stop offset="0.6" stop-color="#0d4a2a"/><stop offset="0.66" stop-color="#1f9a55"/><stop offset="0.7" stop-color="#1c5aa8"/><stop offset="0.78" stop-color="#4f97d6"/><stop offset="0.88" stop-color="#a8cff0"/><stop offset="1" stop-color="#f4f9ff"/></linearGradient><filter id="hb" x="-10%" y="-10%" width="120%" height="120%"><feGaussianBlur stdDeviation="1.2"/></filter></defs>
<g clip-path="url(#hexc)">
<rect x="210" y="10" width="120" height="100" fill="#000"/>
<g filter="url(#hb)">
<path d="M205,81 Q270,62.5 335,54.5" fill="none" stroke="#0c5a34" stroke-width="8"/>
<path d="M205,83 Q270,64.3 335,56.3" fill="none" stroke="#23a560" stroke-width="2.8"/>
<path d="M205,87.5 Q270,67.5 335,60 L335,120 L205,120 Z" fill="#3a78c8"/>
<path d="M205,92 Q270,71 335,63.5 L335,120 L205,120 Z" fill="#8abcec"/>
<path d="M205,101 Q270,82 335,75 L335,120 L205,120 Z" fill="#b9d9f6"/>
<ellipse cx="287" cy="71" rx="26" ry="3.2" fill="#d9ecfb" transform="rotate(-10 287 71)"/>
<ellipse cx="262" cy="104" rx="30" ry="9" fill="#fff"/>
<ellipse cx="290" cy="109" rx="24" ry="8" fill="#fff"/>
<polygon points="293,100 311,86 302,105" fill="#2a66b8"/>
</g>
<polygon points="257,32 279,38 283,46 262,39" fill="#1d62b4"/>
<polygon points="252,40 262,39 281,47 268,61 250,52" fill="#2d7fd0"/>
<polygon points="281,47 283,46 282,56 270,62 268,61" fill="#c9a05a"/>
<polygon points="250,52 252,40 257,32 254,42" fill="#d08a2a"/>
<path d="M250,52 L237,51 M262,60 L255,74 M268,61 L270,68 M279,54 L301,88" stroke="#e8e0d0" stroke-width="0.9" fill="none"/>
<path d="M254,28 L258,34 M280,28 L268,35 M237,51 L249,46" stroke="#6a5a48" stroke-width="0.5" fill="none"/>
<circle cx="237.5" cy="51.5" r="1.3" fill="#f0a030"/><circle cx="255" cy="73" r="1.1" fill="#d08030"/>
<circle cx="245.5" cy="26.5" r="1" fill="#8f86e0"/><circle cx="223" cy="56" r="0.9" fill="#7c74d0"/>
</g>
<circle cx="270.6" cy="93.5" r="4.3" fill="#1d66b8"/><circle cx="270.6" cy="94.3" r="1.1" fill="#e8384a"/><path d="M267.6,92.5 q3,-2.4 6,0" stroke="#cfe4f8" stroke-width="0.7" fill="none"/>
<text x="270.3" y="106.6" font-weight="bold" font-size="5.6" text-anchor="middle" textLength="43" lengthAdjust="spacingAndGlyphs" style="font-family:Liberation Serif,DejaVu Serif,serif;fill:#2aa7df">CASSIOPE</text>
<defs><clipPath id="esac"><circle cx="1508.0" cy="60.8" r="38.0"/></clipPath><clipPath id="esai"><circle cx="1530.2" cy="62.6" r="15.2"/></clipPath></defs>
<g clip-path="url(#esac)">
<circle cx="1529.0" cy="38.0" r="1.20" fill="none" stroke="#4079c0" stroke-width="1.5"/>
<circle cx="1529.0" cy="38.0" r="3.65" fill="none" stroke="#4079c0" stroke-width="1.5"/>
<circle cx="1529.0" cy="38.0" r="6.10" fill="none" stroke="#4079c0" stroke-width="1.5"/>
<circle cx="1529.0" cy="38.0" r="8.55" fill="none" stroke="#4079c0" stroke-width="1.5"/>
<circle cx="1529.0" cy="38.0" r="11.00" fill="none" stroke="#4079c0" stroke-width="1.5"/>
<circle cx="1529.0" cy="38.0" r="13.45" fill="none" stroke="#4079c0" stroke-width="1.5"/>
<circle cx="1529.0" cy="38.0" r="15.90" fill="none" stroke="#4079c0" stroke-width="1.5"/>
<circle cx="1529.0" cy="38.0" r="18.35" fill="none" stroke="#4079c0" stroke-width="1.5"/>
<circle cx="1529.0" cy="38.0" r="20.80" fill="none" stroke="#4079c0" stroke-width="1.5"/>
<circle cx="1529.0" cy="38.0" r="23.25" fill="none" stroke="#4079c0" stroke-width="1.5"/>
<circle cx="1529.0" cy="38.0" r="25.70" fill="none" stroke="#4079c0" stroke-width="1.5"/>
<circle cx="1529.0" cy="38.0" r="28.15" fill="none" stroke="#4079c0" stroke-width="1.5"/>
<circle cx="1529.0" cy="38.0" r="30.60" fill="none" stroke="#4079c0" stroke-width="1.5"/>
<circle cx="1529.0" cy="38.0" r="33.05" fill="none" stroke="#4079c0" stroke-width="1.5"/>
<circle cx="1529.0" cy="38.0" r="35.50" fill="none" stroke="#4079c0" stroke-width="1.5"/>
<circle cx="1529.0" cy="38.0" r="37.95" fill="none" stroke="#4079c0" stroke-width="1.5"/>
<circle cx="1529.0" cy="38.0" r="40.40" fill="none" stroke="#4079c0" stroke-width="1.5"/>
<circle cx="1529.0" cy="38.0" r="42.85" fill="none" stroke="#4079c0" stroke-width="1.5"/>
<circle cx="1529.0" cy="38.0" r="45.30" fill="none" stroke="#4079c0" stroke-width="1.5"/>
<circle cx="1529.0" cy="38.0" r="47.75" fill="none" stroke="#4079c0" stroke-width="1.5"/>
<circle cx="1529.0" cy="38.0" r="50.20" fill="none" stroke="#4079c0" stroke-width="1.5"/>
<circle cx="1529.0" cy="38.0" r="52.65" fill="none" stroke="#4079c0" stroke-width="1.5"/>
<circle cx="1529.0" cy="38.0" r="55.10" fill="none" stroke="#4079c0" stroke-width="1.5"/>
<circle cx="1529.0" cy="38.0" r="57.55" fill="none" stroke="#4079c0" stroke-width="1.5"/>
<circle cx="1529.0" cy="38.0" r="60.00" fill="none" stroke="#4079c0" stroke-width="1.5"/>
<circle cx="1529.0" cy="38.0" r="62.45" fill="none" stroke="#4079c0" stroke-width="1.5"/>
<circle cx="1529.0" cy="38.0" r="64.90" fill="none" stroke="#4079c0" stroke-width="1.5"/>
<circle cx="1529.0" cy="38.0" r="67.35" fill="none" stroke="#4079c0" stroke-width="1.5"/>
<circle cx="1529.0" cy="38.0" r="69.80" fill="none" stroke="#4079c0" stroke-width="1.5"/>
<circle cx="1529.0" cy="38.0" r="72.25" fill="none" stroke="#4079c0" stroke-width="1.5"/>
<circle cx="1529.0" cy="38.0" r="74.70" fill="none" stroke="#4079c0" stroke-width="1.5"/>
<circle cx="1529.0" cy="38.0" r="77.15" fill="none" stroke="#4079c0" stroke-width="1.5"/>
<circle cx="1528.6" cy="63.3" r="23.2" fill="#fff"/>
<rect x="1528" y="63" width="32" height="22.6" fill="#fff"/>
</g>
<g clip-path="url(#esai)">
<path d="M1513,51.8 Q1530,41.4 1547,51.8" fill="none" stroke="#4a80c4" stroke-width="1.15"/>
<path d="M1513,53.4 Q1530,44.0 1547,53.4" fill="none" stroke="#4a80c4" stroke-width="1.15"/>
<path d="M1513,54.9 Q1530,46.7 1547,54.9" fill="none" stroke="#4a80c4" stroke-width="1.15"/>
<path d="M1513,56.4 Q1530,49.4 1547,56.4" fill="none" stroke="#4a80c4" stroke-width="1.15"/>
<path d="M1513,57.9 Q1530,52.1 1547,57.9" fill="none" stroke="#4a80c4" stroke-width="1.15"/>
<path d="M1513,59.4 Q1530,54.8 1547,59.4" fill="none" stroke="#4a80c4" stroke-width="1.15"/>
<path d="M1513,65.5 Q1530,65.5 1547,65.5" fill="none" stroke="#4a80c4" stroke-width="1.15"/>
<path d="M1513,67.0 Q1530,68.2 1547,67.0" fill="none" stroke="#4a80c4" stroke-width="1.15"/>
<path d="M1513,68.5 Q1530,70.9 1547,68.5" fill="none" stroke="#4a80c4" stroke-width="1.15"/>
<path d="M1513,70.0 Q1530,73.6 1547,70.0" fill="none" stroke="#4a80c4" stroke-width="1.15"/>
<path d="M1513,71.5 Q1530,76.3 1547,71.5" fill="none" stroke="#4a80c4" stroke-width="1.15"/>
<path d="M1513,73.0 Q1530,79.0 1547,73.0" fill="none" stroke="#4a80c4" stroke-width="1.15"/>
<path d="M1513,74.5 Q1530,81.7 1547,74.5" fill="none" stroke="#4a80c4" stroke-width="1.15"/>
<path d="M1519.5,64.5 L1547,64.5 L1547,57.2 L1524,57.2 Q1519.5,60 1519.5,64.5 Z" fill="#fff"/>
</g>
<circle cx="1487" cy="61.2" r="4.5" fill="#fff"/>
<text x="1551.3" y="82.8" font-weight="bold" font-size="78" textLength="127" lengthAdjust="spacingAndGlyphs" style="font-family:Liberation Sans,DejaVu Sans,sans-serif;fill:#14217f">esa</text>
<rect x="197.5" y="144.0" width="1447.5" height="266.8" fill="none" stroke="#000" stroke-width="1.67"/>
<line x1="189.7" y1="144.0" x2="196.7" y2="144.0" stroke="#000" stroke-width="1.67"/>
<text x="183.2" y="152.3" font-size="20.83" text-anchor="end">0.034</text>
<line x1="189.7" y1="210.7" x2="196.7" y2="210.7" stroke="#000" stroke-width="1.67"/>
<text x="183.2" y="219.0" font-size="20.83" text-anchor="end">0.026</text>
<line x1="189.7" y1="277.4" x2="196.7" y2="277.4" stroke="#000" stroke-width="1.67"/>
<text x="183.2" y="285.7" font-size="20.83" text-anchor="end">0.018</text>
<line x1="189.7" y1="344.1" x2="196.7" y2="344.1" stroke="#000" stroke-width="1.67"/>
<text x="183.2" y="352.4" font-size="20.83" text-anchor="end">0.010</text>
<line x1="189.7" y1="410.8" x2="196.7" y2="410.8" stroke="#000" stroke-width="1.67"/>
<text x="183.2" y="419.1" font-size="20.83" text-anchor="end">0.002</text>
<line x1="197.7" y1="411.6" x2="197.7" y2="418.90000000000003" stroke="#000" stroke-width="1.67"/>
<line x1="258.07" y1="411.6" x2="258.07" y2="415.8" stroke="#000" stroke-width="1.25"/>
<line x1="318.45" y1="411.6" x2="318.45" y2="415.8" stroke="#000" stroke-width="1.25"/>
<line x1="378.82" y1="411.6" x2="378.82" y2="415.8" stroke="#000" stroke-width="1.25"/>
<line x1="439.2" y1="411.6" x2="439.2" y2="418.90000000000003" stroke="#000" stroke-width="1.67"/>
<line x1="499.57" y1="411.6" x2="499.57" y2="415.8" stroke="#000" stroke-width="1.25"/>
<line x1="559.95" y1="411.6" x2="559.95" y2="415.8" stroke="#000" stroke-width="1.25"/>
<line x1="620.33" y1="411.6" x2="620.33" y2="415.8" stroke="#000" stroke-width="1.25"/>
<line x1="680.7" y1="411.6" x2="680.7" y2="418.90000000000003" stroke="#000" stroke-width="1.67"/>
<line x1="741.08" y1="411.6" x2="741.08" y2="415.8" stroke="#000" stroke-width="1.25"/>
<line x1="801.45" y1="411.6" x2="801.45" y2="415.8" stroke="#000" stroke-width="1.25"/>
<line x1="861.83" y1="411.6" x2="861.83" y2="415.8" stroke="#000" stroke-width="1.25"/>
<line x1="922.2" y1="411.6" x2="922.2" y2="418.90000000000003" stroke="#000" stroke-width="1.67"/>
<line x1="982.58" y1="411.6" x2="982.58" y2="415.8" stroke="#000" stroke-width="1.25"/>
<line x1="1042.95" y1="411.6" x2="1042.95" y2="415.8" stroke="#000" stroke-width="1.25"/>
<line x1="1103.33" y1="411.6" x2="1103.33" y2="415.8" stroke="#000" stroke-width="1.25"/>
<line x1="1163.7" y1="411.6" x2="1163.7" y2="418.90000000000003" stroke="#000" stroke-width="1.67"/>
<line x1="1224.08" y1="411.6" x2="1224.08" y2="415.8" stroke="#000" stroke-width="1.25"/>
<line x1="1284.45" y1="411.6" x2="1284.45" y2="415.8" stroke="#000" stroke-width="1.25"/>
<line x1="1344.83" y1="411.6" x2="1344.83" y2="415.8" stroke="#000" stroke-width="1.25"/>
<line x1="1405.2" y1="411.6" x2="1405.2" y2="418.90000000000003" stroke="#000" stroke-width="1.67"/>
<line x1="1465.58" y1="411.6" x2="1465.58" y2="415.8" stroke="#000" stroke-width="1.25"/>
<line x1="1525.95" y1="411.6" x2="1525.95" y2="415.8" stroke="#000" stroke-width="1.25"/>
<line x1="1586.33" y1="411.6" x2="1586.33" y2="415.8" stroke="#000" stroke-width="1.25"/>
<text transform="translate(109.5,277.4) rotate(-90)" font-size="20.83" text-anchor="middle">Input A Frequency (MHz)</text>
<rect x="197.5" y="436.0" width="1447.5" height="266.79999999999995" fill="none" stroke="#000" stroke-width="1.67"/>
<line x1="189.7" y1="436.0" x2="196.7" y2="436.0" stroke="#000" stroke-width="1.67"/>
<text x="183.2" y="444.3" font-size="20.83" text-anchor="end">0.034</text>
<line x1="189.7" y1="502.7" x2="196.7" y2="502.7" stroke="#000" stroke-width="1.67"/>
<text x="183.2" y="511.0" font-size="20.83" text-anchor="end">0.026</text>
<line x1="189.7" y1="569.4" x2="196.7" y2="569.4" stroke="#000" stroke-width="1.67"/>
<text x="183.2" y="577.7" font-size="20.83" text-anchor="end">0.018</text>
<line x1="189.7" y1="636.0999999999999" x2="196.7" y2="636.0999999999999" stroke="#000" stroke-width="1.67"/>
<text x="183.2" y="644.4" font-size="20.83" text-anchor="end">0.010</text>
<line x1="189.7" y1="702.8" x2="196.7" y2="702.8" stroke="#000" stroke-width="1.67"/>
<text x="183.2" y="711.1" font-size="20.83" text-anchor="end">0.002</text>
<line x1="197.7" y1="703.5999999999999" x2="197.7" y2="710.8999999999999" stroke="#000" stroke-width="1.67"/>
<line x1="258.07" y1="703.5999999999999" x2="258.07" y2="707.8" stroke="#000" stroke-width="1.25"/>
<line x1="318.45" y1="703.5999999999999" x2="318.45" y2="707.8" stroke="#000" stroke-width="1.25"/>
<line x1="378.82" y1="703.5999999999999" x2="378.82" y2="707.8" stroke="#000" stroke-width="1.25"/>
<line x1="439.2" y1="703.5999999999999" x2="439.2" y2="710.8999999999999" stroke="#000" stroke-width="1.67"/>
<line x1="499.57" y1="703.5999999999999" x2="499.57" y2="707.8" stroke="#000" stroke-width="1.25"/>
<line x1="559.95" y1="703.5999999999999" x2="559.95" y2="707.8" stroke="#000" stroke-width="1.25"/>
<line x1="620.33" y1="703.5999999999999" x2="620.33" y2="707.8" stroke="#000" stroke-width="1.25"/>
<line x1="680.7" y1="703.5999999999999" x2="680.7" y2="710.8999999999999" stroke="#000" stroke-width="1.67"/>
<line x1="741.08" y1="703.5999999999999" x2="741.08" y2="707.8" stroke="#000" stroke-width="1.25"/>
<line x1="801.45" y1="703.5999999999999" x2="801.45" y2="707.8" stroke="#000" stroke-width="1.25"/>
<line x1="861.83" y1="703.5999999999999" x2="861.83" y2="707.8" stroke="#000" stroke-width="1.25"/>
<line x1="922.2" y1="703.5999999999999" x2="922.2" y2="710.8999999999999" stroke="#000" stroke-width="1.67"/>
<line x1="982.58" y1="703.5999999999999" x2="982.58" y2="707.8" stroke="#000" stroke-width="1.25"/>
<line x1="1042.95" y1="703.5999999999999" x2="1042.95" y2="707.8" stroke="#000" stroke-width="1.25"/>
<line x1="1103.33" y1="703.5999999999999" x2="1103.33" y2="707.8" stroke="#000" stroke-width="1.25"/>
<line x1="1163.7" y1="703.5999999999999" x2="1163.7" y2="710.8999999999999" stroke="#000" stroke-width="1.67"/>
<line x1="1224.08" y1="703.5999999999999" x2="1224.08" y2="707.8" stroke="#000" stroke-width="1.25"/>
<line x1="1284.45" y1="703.5999999999999" x2="1284.45" y2="707.8" stroke="#000" stroke-width="1.25"/>
<line x1="1344.83" y1="703.5999999999999" x2="1344.83" y2="707.8" stroke="#000" stroke-width="1.25"/>
<line x1="1405.2" y1="703.5999999999999" x2="1405.2" y2="710.8999999999999" stroke="#000" stroke-width="1.67"/>
<line x1="1465.58" y1="703.5999999999999" x2="1465.58" y2="707.8" stroke="#000" stroke-width="1.25"/>
<line x1="1525.95" y1="703.5999999999999" x2="1525.95" y2="707.8" stroke="#000" stroke-width="1.25"/>
<line x1="1586.33" y1="703.5999999999999" x2="1586.33" y2="707.8" stroke="#000" stroke-width="1.25"/>
<text transform="translate(109.5,569.4) rotate(-90)" font-size="20.83" text-anchor="middle">Input B Frequency (MHz)</text>
<defs><linearGradient id="nipy" x1="0" y1="0" x2="0" y2="1"><stop offset="0.0" stop-color="#cccccc"/><stop offset="0.0156" stop-color="#cc9c9c"/><stop offset="0.0312" stop-color="#cc5c5c"/><stop offset="0.0469" stop-color="#cc1c1c"/><stop offset="0.0625" stop-color="#cf0000"/><stop offset="0.0781" stop-color="#d40000"/><stop offset="0.0938" stop-color="#da0000"/><stop offset="0.1094" stop-color="#e10000"/><stop offset="0.125" stop-color="#ec0000"/><stop offset="0.1406" stop-color="#f60000"/><stop offset="0.1562" stop-color="#ff0900"/><stop offset="0.1719" stop-color="#ff3900"/><stop offset="0.1875" stop-color="#ff6900"/><stop offset="0.2031" stop-color="#ff9900"/><stop offset="0.2188" stop-color="#ffa900"/><stop offset="0.2344" stop-color="#ffb900"/><stop offset="0.25" stop-color="#ffc900"/><stop offset="0.2656" stop-color="#fbd500"/><stop offset="0.2812" stop-color="#f5df00"/><stop offset="0.2969" stop-color="#f0ea00"/><stop offset="0.3125" stop-color="#e4f100"/><stop offset="0.3281" stop-color="#d4f700"/><stop offset="0.3438" stop-color="#c4fc00"/><stop offset="0.3594" stop-color="#a1ff00"/><stop offset="0.375" stop-color="#67ff00"/><stop offset="0.3906" stop-color="#2cff00"/><stop offset="0.4062" stop-color="#00fc00"/><stop offset="0.4219" stop-color="#00f200"/><stop offset="0.4375" stop-color="#00e700"/><stop offset="0.4531" stop-color="#00dc00"/><stop offset="0.4688" stop-color="#00d200"/><stop offset="0.4844" stop-color="#00c700"/><stop offset="0.5" stop-color="#00bc00"/><stop offset="0.5156" stop-color="#00b200"/><stop offset="0.5312" stop-color="#00a700"/><stop offset="0.5469" stop-color="#009c00"/><stop offset="0.5625" stop-color="#009d1d"/><stop offset="0.5781" stop-color="#00a248"/><stop offset="0.5938" stop-color="#00a773"/><stop offset="0.6094" stop-color="#00aa8d"/><stop offset="0.625" stop-color="#00aa98"/><stop offset="0.6406" stop-color="#00aaa3"/><stop offset="0.6562" stop-color="#00a8af"/><stop offset="0.6719" stop-color="#00a3bf"/><stop offset="0.6875" stop-color="#009ecf"/><stop offset="0.7031" stop-color="#0098dd"/><stop offset="0.7188" stop-color="#008ddd"/><stop offset="0.7344" stop-color="#0082dd"/><stop offset="0.75" stop-color="#0078dd"/><stop offset="0.7656" stop-color="#0054dd"/><stop offset="0.7812" stop-color="#002fdd"/><stop offset="0.7969" stop-color="#0009dd"/><stop offset="0.8125" stop-color="#0000d1"/><stop offset="0.8281" stop-color="#0000c1"/><stop offset="0.8438" stop-color="#0000b1"/><stop offset="0.8594" stop-color="#1800a7"/><stop offset="0.875" stop-color="#4300a2"/><stop offset="0.8906" stop-color="#6d009c"/><stop offset="0.9062" stop-color="#860097"/><stop offset="0.9219" stop-color="#810092"/><stop offset="0.9375" stop-color="#7b008c"/><stop offset="0.9531" stop-color="#700080"/><stop offset="0.9688" stop-color="#4b0055"/><stop offset="0.9844" stop-color="#25002b"/><stop offset="1.0" stop-color="#000000"/></linearGradient></defs>
<rect x="1660.0" y="144.0" width="13.0" height="266.8" fill="url(#nipy)" stroke="#000" stroke-width="1.67"/>
<line x1="1673.8" y1="380.6" x2="1681.1" y2="380.6" stroke="#000" stroke-width="1.67"/>
<text x="1687.8" y="388.6" font-size="20.83" text-anchor="start">0</text>
<line x1="1673.8" y1="319.35" x2="1681.1" y2="319.35" stroke="#000" stroke-width="1.67"/>
<text x="1687.8" y="327.35" font-size="20.83" text-anchor="start">20</text>
<line x1="1673.8" y1="258.1" x2="1681.1" y2="258.1" stroke="#000" stroke-width="1.67"/>
<text x="1687.8" y="266.1" font-size="20.83" text-anchor="start">40</text>
<line x1="1673.8" y1="196.85" x2="1681.1" y2="196.85" stroke="#000" stroke-width="1.67"/>
<text x="1687.8" y="204.85" font-size="20.83" text-anchor="start">60</text>
<rect x="1660.0" y="436.0" width="13.0" height="266.79999999999995" fill="url(#nipy)" stroke="#000" stroke-width="1.67"/>
<line x1="1673.8" y1="672.6" x2="1681.1" y2="672.6" stroke="#000" stroke-width="1.67"/>
<text x="1687.8" y="680.6" font-size="20.83" text-anchor="start">0</text>
<line x1="1673.8" y1="611.35" x2="1681.1" y2="611.35" stroke="#000" stroke-width="1.67"/>
<text x="1687.8" y="619.35" font-size="20.83" text-anchor="start">20</text>
<line x1="1673.8" y1="550.1" x2="1681.1" y2="550.1" stroke="#000" stroke-width="1.67"/>
<text x="1687.8" y="558.1" font-size="20.83" text-anchor="start">40</text>
<line x1="1673.8" y1="488.85" x2="1681.1" y2="488.85" stroke="#000" stroke-width="1.67"/>
<text x="1687.8" y="496.85" font-size="20.83" text-anchor="start">60</text>
<text transform="translate(1777.5,415) rotate(-90)" font-size="20.83" text-anchor="middle">Dipole Voltage <tspan font-style="italic" letter-spacing="0.25">20log(μV</tspan><tspan font-style="italic" font-size="14.6" dy="3.2">BS</tspan><tspan font-style="italic" dy="-3.2">)</tspan></text>
<text x="195.0" y="731.0" font-size="20.83" text-anchor="middle">05:12:05</text>
<text x="195.0" y="751.75" font-size="20.83" text-anchor="middle">37.09</text>
<text x="195.0" y="772.5" font-size="20.83" text-anchor="middle">-127.50</text>
<text x="195.0" y="793.25" font-size="20.83" text-anchor="middle">460.79</text>
<text x="195.0" y="814.0" font-size="20.83" text-anchor="middle">41.76</text>
<text x="195.0" y="834.75" font-size="20.83" text-anchor="middle">-61.22</text>
<text x="195.0" y="855.5" font-size="20.83" text-anchor="middle">20.58</text>
<text x="436.8" y="731.0" font-size="20.83" text-anchor="middle">05:13:44</text>
<text x="436.8" y="751.75" font-size="20.83" text-anchor="middle">43.36</text>
<text x="436.8" y="772.5" font-size="20.83" text-anchor="middle">-126.18</text>
<text x="436.8" y="793.25" font-size="20.83" text-anchor="middle">437.28</text>
<text x="436.8" y="814.0" font-size="20.83" text-anchor="middle">48.10</text>
<text x="436.8" y="834.75" font-size="20.83" text-anchor="middle">-61.44</text>
<text x="436.8" y="855.5" font-size="20.83" text-anchor="middle">20.60</text>
<text x="678.6" y="731.0" font-size="20.83" text-anchor="middle">05:15:23</text>
<text x="678.6" y="751.75" font-size="20.83" text-anchor="middle">49.64</text>
<text x="678.6" y="772.5" font-size="20.83" text-anchor="middle">-124.46</text>
<text x="678.6" y="793.25" font-size="20.83" text-anchor="middle">415.15</text>
<text x="678.6" y="814.0" font-size="20.83" text-anchor="middle">54.49</text>
<text x="678.6" y="834.75" font-size="20.83" text-anchor="middle">-61.61</text>
<text x="678.6" y="855.5" font-size="20.83" text-anchor="middle">20.62</text>
<text x="920.4" y="731.0" font-size="20.83" text-anchor="middle">05:17:02</text>
<text x="920.4" y="751.75" font-size="20.83" text-anchor="middle">55.90</text>
<text x="920.4" y="772.5" font-size="20.83" text-anchor="middle">-122.08</text>
<text x="920.4" y="793.25" font-size="20.83" text-anchor="middle">394.63</text>
<text x="920.4" y="814.0" font-size="20.83" text-anchor="middle">60.93</text>
<text x="920.4" y="834.75" font-size="20.83" text-anchor="middle">-61.69</text>
<text x="920.4" y="855.5" font-size="20.83" text-anchor="middle">20.64</text>
<text x="1162.2" y="731.0" font-size="20.83" text-anchor="middle">05:18:41</text>
<text x="1162.2" y="751.75" font-size="20.83" text-anchor="middle">62.11</text>
<text x="1162.2" y="772.5" font-size="20.83" text-anchor="middle">-118.61</text>
<text x="1162.2" y="793.25" font-size="20.83" text-anchor="middle">375.90</text>
<text x="1162.2" y="814.0" font-size="20.83" text-anchor="middle">67.40</text>
<text x="1162.2" y="834.75" font-size="20.83" text-anchor="middle">-61.62</text>
<text x="1162.2" y="855.5" font-size="20.83" text-anchor="middle">20.67</text>
<text x="1404.0" y="731.0" font-size="20.83" text-anchor="middle">05:20:20</text>
<text x="1404.0" y="751.75" font-size="20.83" text-anchor="middle">68.17</text>
<text x="1404.0" y="772.5" font-size="20.83" text-anchor="middle">-113.14</text>
<text x="1404.0" y="793.25" font-size="20.83" text-anchor="middle">359.16</text>
<text x="1404.0" y="814.0" font-size="20.83" text-anchor="middle">73.91</text>
<text x="1404.0" y="834.75" font-size="20.83" text-anchor="middle">-61.18</text>
<text x="1404.0" y="855.5" font-size="20.83" text-anchor="middle">20.73</text>
<text x="1645.8" y="731.0" font-size="20.83" text-anchor="middle">05:21:59</text>
<text x="1645.8" y="751.75" font-size="20.83" text-anchor="middle">73.96</text>
<text x="1645.8" y="772.5" font-size="20.83" text-anchor="middle">-103.40</text>
<text x="1645.8" y="793.25" font-size="20.83" text-anchor="middle">344.44</text>
<text x="1645.8" y="814.0" font-size="20.83" text-anchor="middle">80.51</text>
<text x="1645.8" y="834.75" font-size="20.83" text-anchor="middle">-59.59</text>
<text x="1645.8" y="855.5" font-size="20.83" text-anchor="middle">20.87</text>
<text x="105.3" y="731.2" font-size="20.83" text-anchor="end">UT</text>
<text x="105.3" y="750.8" font-size="20.83" text-anchor="end">Geo. Lat</text>
<text x="105.3" y="771.7" font-size="20.83" text-anchor="end">Geo. Lon</text>
<text x="105.3" y="792.5" font-size="20.83" text-anchor="end">Alt (km)</text>
<text x="105.3" y="812.8" font-size="20.83" text-anchor="end">Mag. Lat</text>
<text x="105.3" y="833.3" font-size="20.83" text-anchor="end">Mag. Lon</text>
<text x="105.3" y="855.0" font-size="20.83" text-anchor="end">MLT (hrs)</text>
<rect x="367.1" y="878.9" width="102.9" height="148.9" fill="#ffe4e1"/>
<rect x="600.2" y="878.9" width="45.8" height="148.9" fill="#ffe4e1"/>
<rect x="715.1" y="878.9" width="68.9" height="148.9" fill="#ffe4e1"/>
<rect x="868.9" y="878.9" width="29.1" height="148.9" fill="#ffe4e1"/>
<rect x="956" y="878.9" width="29.1" height="148.9" fill="#ffe4e1"/>
<path d="M149.2,980.9 L516.7,879.4 L518.2,1027.3 L985.1,898.0" fill="none" stroke="#0000ff" stroke-width="3" stroke-linejoin="miter" stroke-linecap="square"/>
<path d="M149.2,958.5 C166.0,957.8 221.5,955.1 250,954.2 C278.5,953.3 303.3,953.4 320,953.3 C336.7,953.2 333.3,953.2 350,953.8 C366.7,954.4 392.2,955.4 420,957.0 C447.8,958.6 485.8,962.0 516.7,963.6 C547.6,965.2 583.4,966.4 605.6,966.7 C627.8,967.0 634.3,966.1 650,965.5 C665.7,964.9 681.7,964.0 700,963.3 C718.3,962.5 737.8,961.5 760,961.0 C782.2,960.5 809.7,959.9 833,960.0 C856.3,960.1 874.7,960.5 900,961.6 C925.3,962.7 970.8,965.9 985,966.7" fill="none" stroke="#ff0000" stroke-width="3" stroke-dasharray="11.1 4.8"/>
<path d="M149.2,1004.5 C166.0,1004.6 216.5,1004.0 250,1005.0 C283.5,1006.0 315.0,1008.8 350,1010.2 C385.0,1011.6 431.7,1012.9 460,1013.3 C488.3,1013.7 496.7,1013.4 520,1012.5 C543.3,1011.6 570.0,1009.8 600,1008.0 C630.0,1006.2 675.0,1003.0 700,1002.0 C725.0,1001.0 733.3,1001.6 750,1001.8 C766.7,1002.0 775.0,1002.0 800,1003.0 C825.0,1004.0 869.2,1006.3 900,1007.5 C930.8,1008.7 970.8,1009.9 985,1010.4" fill="none" stroke="#008000" stroke-width="3" stroke-dasharray="3 4.95"/>
<rect x="108.0" y="873.3" width="918.2" height="161.6" fill="none" stroke="#000" stroke-width="1.67"/>
<line x1="100.2" y1="912.9" x2="107.2" y2="912.9" stroke="#000" stroke-width="1.67"/>
<text x="93.2" y="921.3" font-size="20.83" text-anchor="end">100</text>
<line x1="100.2" y1="953.8" x2="107.2" y2="953.8" stroke="#000" stroke-width="1.67"/>
<text x="93.2" y="962.2" font-size="20.83" text-anchor="end">0</text>
<line x1="100.2" y1="994.7" x2="107.2" y2="994.7" stroke="#000" stroke-width="1.67"/>
<text x="93.2" y="1003.1" font-size="20.83" text-anchor="end">−100</text>
<line x1="150.0" y1="1035.7" x2="150.0" y2="1042.7" stroke="#000" stroke-width="1.67"/>
<text x="150.0" y="1065.7" font-size="20.83" text-anchor="middle">05:12:05</text>
<line x1="288.8" y1="1035.7" x2="288.8" y2="1042.7" stroke="#000" stroke-width="1.67"/>
<text x="288.8" y="1065.7" font-size="20.83" text-anchor="middle">05:13:44</text>
<line x1="427.6" y1="1035.7" x2="427.6" y2="1042.7" stroke="#000" stroke-width="1.67"/>
<text x="427.6" y="1065.7" font-size="20.83" text-anchor="middle">05:15:23</text>
<line x1="566.4" y1="1035.7" x2="566.4" y2="1042.7" stroke="#000" stroke-width="1.67"/>
<text x="566.4" y="1065.7" font-size="20.83" text-anchor="middle">05:17:02</text>
<line x1="705.2" y1="1035.7" x2="705.2" y2="1042.7" stroke="#000" stroke-width="1.67"/>
<text x="705.2" y="1065.7" font-size="20.83" text-anchor="middle">05:18:41</text>
<line x1="844.0" y1="1035.7" x2="844.0" y2="1042.7" stroke="#000" stroke-width="1.67"/>
<text x="844.0" y="1065.7" font-size="20.83" text-anchor="middle">05:20:20</text>
<line x1="982.8" y1="1035.7" x2="982.8" y2="1042.7" stroke="#000" stroke-width="1.67"/>
<text x="982.8" y="1065.7" font-size="20.83" text-anchor="middle">05:21:59</text>
<text transform="translate(22.5,954) rotate(-90)" font-size="20.83" text-anchor="middle">Angle (deg)</text>
<rect x="405" y="880.5" width="323" height="28.4" rx="3.3" fill="#fff" stroke="#ccc" stroke-width="1.67"/>
<line x1="411.5" y1="894.3" x2="446.5" y2="894.3" stroke="#0000ff" stroke-width="3"/>
<text x="460.3" y="900.3" font-size="16.67" text-anchor="start">Yaw</text>
<line x1="524" y1="894.3" x2="557" y2="894.3" stroke="#ff0000" stroke-width="3" stroke-dasharray="11.1 4.8"/>
<text x="571" y="900.3" font-size="16.67" text-anchor="start">Pitch</text>
<line x1="644" y1="894.3" x2="677" y2="894.3" stroke="#008000" stroke-width="3" stroke-dasharray="3 4.95"/>
<text x="692" y="900.3" font-size="16.67" text-anchor="start">Roll</text>
<text x="18" y="1091.3" font-size="16.67" text-anchor="start">Attitude = Custom</text>
<text x="18" y="1116.1" font-size="16.67" text-anchor="start">Experiment = ???</text>
<text x="18" y="1140.2" font-size="16.67" text-anchor="start">Gain 1 - Medium, Gain 2 - Medium, Gain 3 - Medium, Gain 4 - Medium</text>
<text x="18" y="1164.3" font-size="16.67" text-anchor="start">Inputs: Channel 1 - I1, Channel 2 - Q1, Channel 3 - I3, Channel 4 - Q3</text>
<rect x="748" y="1083" width="33" height="11.5" fill="#ffe4e1"/>
<text x="795" y="1094" font-size="16.67" text-anchor="start">Degraded attitude quality</text>
<text x="738" y="1116.1" font-size="16.67" text-anchor="start">Number of points per spectrum: 5208</text>
<text x="738" y="1140.2" font-size="16.67" text-anchor="start">Dipole Mode</text>
<text x="1162" y="1175" font-size="16.67" text-anchor="start">5 min intervals</text>
<path d="M1128.4,1166.6 l7,7 m0,-7 l-7,7" stroke="#000" stroke-width="2.3" fill="none"/>
<text x="1476" y="1185" font-size="20.83" text-anchor="start">Produced by rri_ql version 5</text>
<defs><linearGradient id="alt" x1="0" y1="1" x2="0" y2="0"><stop offset="0" stop-color="#9632ff"/><stop offset="0.25" stop-color="#0000ff"/><stop offset="0.5" stop-color="#00ff00"/><stop offset="0.75" stop-color="#ffff00"/><stop offset="1" stop-color="#ff0000"/></linearGradient></defs>
<rect x="1698" y="873.3" width="13" height="266.4" fill="url(#alt)" stroke="#000" stroke-width="1.67"/>
<line x1="1711.8" y1="1139.7" x2="1719.1" y2="1139.7" stroke="#000" stroke-width="1.67"/>
<text x="1726" y="1146.7" font-size="16.67" text-anchor="start">340</text>
<line x1="1711.8" y1="1096.78" x2="1719.1" y2="1096.78" stroke="#000" stroke-width="1.67"/>
<text x="1726" y="1103.78" font-size="16.67" text-anchor="start">360</text>
<line x1="1711.8" y1="1053.86" x2="1719.1" y2="1053.86" stroke="#000" stroke-width="1.67"/>
<text x="1726" y="1060.86" font-size="16.67" text-anchor="start">380</text>
<line x1="1711.8" y1="1010.94" x2="1719.1" y2="1010.94" stroke="#000" stroke-width="1.67"/>
<text x="1726" y="1017.94" font-size="16.67" text-anchor="start">400</text>
<line x1="1711.8" y1="968.02" x2="1719.1" y2="968.02" stroke="#000" stroke-width="1.67"/>
<text x="1726" y="975.02" font-size="16.67" text-anchor="start">420</text>
<line x1="1711.8" y1="925.1" x2="1719.1" y2="925.1" stroke="#000" stroke-width="1.67"/>
<text x="1726" y="932.1" font-size="16.67" text-anchor="start">440</text>
<line x1="1711.8" y1="882.18" x2="1719.1" y2="882.18" stroke="#000" stroke-width="1.67"/>
<text x="1726" y="889.18" font-size="16.67" text-anchor="start">460</text>
<text transform="translate(1782,1007.5) rotate(-90)" font-size="20.83" text-anchor="middle">Altitude (km)</text>
<defs><clipPath id="mapclip"><path d="M1111.35,1139.9 A276.1,276.1 0 0 1 1321.7,878.6 L1378.3,872.8 H1645.8 V1139.9 Z"/></clipPath><filter id="mb" x="-5%" y="-5%" width="110%" height="110%"><feGaussianBlur stdDeviation="1.1"/></filter><filter id="mb2" x="-20%" y="-20%" width="140%" height="140%"><feGaussianBlur stdDeviation="9"/></filter><radialGradient id="oc" cx="0.55" cy="0.6" r="0.75"><stop offset="0" stop-color="#6f9fca"/><stop offset="0.6" stop-color="#76a8d1"/><stop offset="1" stop-color="#82b4da"/></radialGradient></defs>
<g clip-path="url(#mapclip)">
<rect x="1105" y="868" width="546" height="276" fill="url(#oc)"/>
<g filter="url(#mb)">
<path d="M1239.2,939.2 L1250.0,933.7 L1268.3,928.3 L1286.7,930.8 L1308.3,935.0 L1321.7,933.3 L1336.7,931.3 L1350.0,933.7 L1361.7,938.3 L1375.0,941.7 L1386.7,940.8 L1400.0,940.0 L1406.7,938.3 L1416.7,940.8 L1426.7,938.3 L1435.0,943.3 L1430.0,948.3 L1418.3,950.0 L1406.7,955.0 L1400.0,963.3 L1408.3,968.3 L1418.3,971.7 L1426.7,978.3 L1430.0,985.0 L1435.0,978.3 L1441.7,973.3 L1443.3,965.0 L1446.7,955.8 L1451.7,955.0 L1460.0,955.8 L1466.7,960.0 L1470.0,963.3 L1473.3,961.7 L1478.3,960.8 L1481.7,968.3 L1486.7,975.0 L1493.3,980.0 L1495.0,983.7 L1488.3,987.5 L1481.7,990.0 L1475.0,994.2 L1480.0,996.7 L1480.0,1000.0 L1473.3,1005.0 L1466.7,1007.5 L1473.3,1001.7 L1473.3,1003.3 L1466.7,1005.3 L1455.0,1007.0 L1446.7,1011.7 L1438.3,1016.7 L1435.8,1023.3 L1428.3,1031.7 L1418.3,1040.0 L1410.8,1046.7 L1412.5,1053.3 L1413.3,1061.7 L1410.8,1064.7 L1407.5,1057.5 L1405.0,1050.0 L1400.0,1048.3 L1390.0,1050.0 L1380.0,1052.0 L1380.0,1052.0 L1373.3,1053.7 L1365.8,1058.3 L1362.0,1066.7 L1361.7,1073.3 L1364.2,1080.0 L1368.7,1085.3 L1375.0,1085.8 L1380.0,1082.0 L1382.0,1077.5 L1387.0,1075.8 L1393.3,1076.7 L1396.7,1078.3 L1396.7,1078.3 L1395.0,1084.2 L1393.3,1090.8 L1396.7,1094.2 L1400.3,1100.0 L1397.5,1106.7 L1401.7,1113.3 L1406.7,1117.0 L1413.3,1115.0 L1418.7,1116.7 L1415.8,1120.0 L1410.0,1119.2 L1405.0,1120.0 L1398.3,1116.7 L1393.3,1111.7 L1386.7,1106.7 L1380.0,1103.7 L1376.7,1098.3 L1370.0,1095.8 L1361.7,1092.7 L1353.3,1090.8 L1345.0,1086.7 L1338.3,1081.7 L1335.0,1075.0 L1330.0,1066.7 L1325.0,1058.3 L1321.7,1052.0 L1317.8,1048.0 L1317.0,1050.8 L1320.3,1058.7 L1322.8,1065.3 L1324.5,1070.8 L1320.0,1066.0 L1316.7,1060.0 L1315.0,1055.0 L1313.3,1050.0 L1310.8,1045.0 L1306.7,1038.3 L1302.5,1030.0 L1299.2,1020.0 L1297.5,1010.0 L1298.3,1000.0 L1297.2,991.7 L1299.2,986.7 L1297.0,981.7 L1293.3,980.0 L1290.0,973.3 L1286.7,967.0 L1281.7,963.7 L1273.3,961.2 L1264.2,960.0 L1256.7,963.3 L1250.0,967.5 L1238.3,971.7 L1226.7,976.7 L1215.0,981.7 L1221.7,978.0 L1233.3,973.0 L1243.3,968.3 L1245.8,963.7 L1238.3,964.7 L1228.3,967.0 L1220.3,965.0 L1220.8,960.0 L1228.3,955.8 L1233.3,951.7 L1227.5,947.5 L1233.3,944.2 L1243.3,943.3Z" fill="#dfe6bd"/>
<path d="M1418.7,1116.7 L1421.7,1111.7 L1427.5,1106.7 L1435.0,1103.3 L1438.3,1108.3 L1446.7,1110.3 L1456.7,1108.3 L1465.0,1110.0 L1473.3,1116.7 L1483.3,1123.7 L1493.3,1130.3 L1498.7,1139.7 L1407.5,1139.7 L1411.7,1133.3 L1416.7,1123.3Z" fill="#dfe6bd"/>
<path d="M1398.3,1073.3 L1406.7,1071.7 L1416.7,1075.0 L1426.7,1079.2 L1428.7,1081.7 L1420.0,1080.3 L1410.0,1077.8 L1401.7,1076.0Z" fill="#dfe6bd"/>
<path d="M1431.7,1082.5 L1438.3,1080.8 L1446.7,1083.3 L1445.3,1086.7 L1436.7,1086.0Z" fill="#dfe6bd"/>
<path d="M1448.3,1085.0 L1452.7,1085.0 L1452.7,1086.7 L1448.3,1086.7Z" fill="#dfe6bd"/>
<path d="M1415.8,1085.0 L1420.8,1085.0 L1420.8,1086.5 L1415.8,1086.5Z" fill="#dfe6bd"/>
<path d="M1200.0,943.3 L1206.7,937.0 L1215.0,940.0 L1221.7,946.7 L1215.0,951.7 L1206.7,948.3Z" fill="#dfe6bd"/>
<path d="M1486.7,990.3 L1493.3,986.7 L1496.7,991.7 L1500.3,998.3 L1493.3,999.3 L1486.7,996.7 L1483.3,997.7Z" fill="#dfe6bd"/>
<path d="M1630.0,1033.3 L1636.7,1035.0 L1645.3,1035.8 L1645.3,1123.7 L1630.0,1125.3 L1620.0,1125.0 L1610.0,1120.0 L1603.3,1111.7 L1598.3,1103.3 L1595.8,1095.0 L1596.7,1083.3 L1598.3,1073.3 L1603.3,1065.0 L1613.3,1055.0 L1623.3,1043.3Z" fill="#ead9c4"/>
<path d="M1621.7,1011.7 L1633.3,1010.0 L1645.3,1010.8 L1645.3,1031.7 L1636.7,1033.3 L1630.0,1030.8 L1623.3,1026.7 L1620.0,1020.0Z" fill="#e3e4b4"/>
<path d="M1620.0,980.0 L1626.7,976.7 L1630.0,980.0 L1626.7,985.0 L1620.0,985.3Z" fill="#e3e4b4"/>
<path d="M1633.3,966.7 L1640.0,965.0 L1645.3,968.3 L1645.3,990.0 L1636.7,990.0 L1633.3,985.0 L1638.3,978.3 L1633.3,973.3Z" fill="#e3e4b4"/>
<path d="M1640.0,993.3 L1645.3,992.5 L1645.3,1004.2 L1640.8,1001.7Z" fill="#e3e4b4"/>
<path d="M1438.3,900.8 L1455.0,896.7 L1473.3,895.0 L1496.7,893.3 L1516.7,894.2 L1511.7,898.3 L1500.0,900.8 L1486.7,904.2 L1473.3,906.7 L1460.0,907.5 L1446.7,906.7Z" fill="#dcdcd2"/>
<path d="M1450.0,931.7 L1458.3,928.3 L1470.0,930.8 L1480.0,935.0 L1488.3,940.0 L1492.0,943.3 L1486.7,946.7 L1480.0,948.3 L1473.3,952.5 L1466.7,951.7 L1463.3,946.7 L1456.7,943.3 L1451.7,938.3Z" fill="#dcdcd2"/>
<path d="M1350.0,923.3 L1360.0,919.2 L1373.3,920.8 L1376.7,926.7 L1370.0,931.7 L1356.7,931.7Z" fill="#dcdcd2"/>
<path d="M1366.7,913.3 L1380.0,910.0 L1393.3,911.7 L1391.7,918.3 L1380.0,920.0 L1370.0,918.3Z" fill="#dcdcd2"/>
<path d="M1380.0,906.7 L1390.0,905.0 L1400.0,907.5 L1403.3,913.3 L1396.7,918.3 L1386.7,917.5 L1380.0,915.0Z" fill="#dcdcd2"/>
<path d="M1410.0,905.0 L1423.3,902.5 L1435.0,905.8 L1436.7,911.7 L1430.0,916.7 L1418.3,915.0 L1411.7,911.7Z" fill="#dcdcd2"/>
<path d="M1413.3,920.0 L1426.7,918.3 L1440.0,921.7 L1446.7,928.3 L1443.3,935.0 L1433.3,936.7 L1423.3,933.3 L1415.0,928.3Z" fill="#dcdcd2"/>
<path d="M1450.0,915.0 L1463.3,913.3 L1473.3,918.3 L1480.0,923.3 L1473.3,926.7 L1463.3,923.3 L1453.3,921.7Z" fill="#dcdcd2"/>
<path d="M1586.7,945.0 L1593.3,942.5 L1603.3,941.7 L1610.8,945.0 L1608.3,948.3 L1600.0,950.3 L1591.7,949.2Z" fill="#dcdcd2"/>
<path d="M1486.7,906.7 L1496.7,903.3 L1513.3,898.3 L1530.0,895.0 L1546.7,893.3 L1563.3,891.7 L1580.0,890.8 L1596.7,892.5 L1610.0,895.0 L1620.0,896.7 L1613.3,900.8 L1605.0,903.3 L1600.0,908.3 L1601.7,915.0 L1596.7,920.0 L1593.3,925.0 L1586.7,930.0 L1576.7,935.0 L1563.3,940.0 L1553.3,945.0 L1543.3,951.7 L1536.7,958.3 L1531.7,960.8 L1525.0,958.3 L1520.0,953.3 L1515.0,946.7 L1513.3,940.0 L1516.7,931.7 L1518.3,923.3 L1513.3,918.3 L1506.7,913.3 L1496.7,910.0Z" fill="#eceef4"/>
</g>
<defs><clipPath id="nac"><path d="M1239.2,939.2 L1250.0,933.7 L1268.3,928.3 L1286.7,930.8 L1308.3,935.0 L1321.7,933.3 L1336.7,931.3 L1350.0,933.7 L1361.7,938.3 L1375.0,941.7 L1386.7,940.8 L1400.0,940.0 L1406.7,938.3 L1416.7,940.8 L1426.7,938.3 L1435.0,943.3 L1430.0,948.3 L1418.3,950.0 L1406.7,955.0 L1400.0,963.3 L1408.3,968.3 L1418.3,971.7 L1426.7,978.3 L1430.0,985.0 L1435.0,978.3 L1441.7,973.3 L1443.3,965.0 L1446.7,955.8 L1451.7,955.0 L1460.0,955.8 L1466.7,960.0 L1470.0,963.3 L1473.3,961.7 L1478.3,960.8 L1481.7,968.3 L1486.7,975.0 L1493.3,980.0 L1495.0,983.7 L1488.3,987.5 L1481.7,990.0 L1475.0,994.2 L1480.0,996.7 L1480.0,1000.0 L1473.3,1005.0 L1466.7,1007.5 L1473.3,1001.7 L1473.3,1003.3 L1466.7,1005.3 L1455.0,1007.0 L1446.7,1011.7 L1438.3,1016.7 L1435.8,1023.3 L1428.3,1031.7 L1418.3,1040.0 L1410.8,1046.7 L1412.5,1053.3 L1413.3,1061.7 L1410.8,1064.7 L1407.5,1057.5 L1405.0,1050.0 L1400.0,1048.3 L1390.0,1050.0 L1380.0,1052.0 L1380.0,1052.0 L1373.3,1053.7 L1365.8,1058.3 L1362.0,1066.7 L1361.7,1073.3 L1364.2,1080.0 L1368.7,1085.3 L1375.0,1085.8 L1380.0,1082.0 L1382.0,1077.5 L1387.0,1075.8 L1393.3,1076.7 L1396.7,1078.3 L1396.7,1078.3 L1395.0,1084.2 L1393.3,1090.8 L1396.7,1094.2 L1400.3,1100.0 L1397.5,1106.7 L1401.7,1113.3 L1406.7,1117.0 L1413.3,1115.0 L1418.7,1116.7 L1415.8,1120.0 L1410.0,1119.2 L1405.0,1120.0 L1398.3,1116.7 L1393.3,1111.7 L1386.7,1106.7 L1380.0,1103.7 L1376.7,1098.3 L1370.0,1095.8 L1361.7,1092.7 L1353.3,1090.8 L1345.0,1086.7 L1338.3,1081.7 L1335.0,1075.0 L1330.0,1066.7 L1325.0,1058.3 L1321.7,1052.0 L1317.8,1048.0 L1317.0,1050.8 L1320.3,1058.7 L1322.8,1065.3 L1324.5,1070.8 L1320.0,1066.0 L1316.7,1060.0 L1315.0,1055.0 L1313.3,1050.0 L1310.8,1045.0 L1306.7,1038.3 L1302.5,1030.0 L1299.2,1020.0 L1297.5,1010.0 L1298.3,1000.0 L1297.2,991.7 L1299.2,986.7 L1297.0,981.7 L1293.3,980.0 L1290.0,973.3 L1286.7,967.0 L1281.7,963.7 L1273.3,961.2 L1264.2,960.0 L1256.7,963.3 L1250.0,967.5 L1238.3,971.7 L1226.7,976.7 L1215.0,981.7 L1221.7,978.0 L1233.3,973.0 L1243.3,968.3 L1245.8,963.7 L1238.3,964.7 L1228.3,967.0 L1220.3,965.0 L1220.8,960.0 L1228.3,955.8 L1233.3,951.7 L1227.5,947.5 L1233.3,944.2 L1243.3,943.3Z"/></clipPath><clipPath id="sac"><path d="M1418.7,1116.7 L1421.7,1111.7 L1427.5,1106.7 L1435.0,1103.3 L1438.3,1108.3 L1446.7,1110.3 L1456.7,1108.3 L1465.0,1110.0 L1473.3,1116.7 L1483.3,1123.7 L1493.3,1130.3 L1498.7,1139.7 L1407.5,1139.7 L1411.7,1133.3 L1416.7,1123.3Z"/></clipPath><clipPath id="afc"><path d="M1630.0,1033.3 L1636.7,1035.0 L1645.3,1035.8 L1645.3,1123.7 L1630.0,1125.3 L1620.0,1125.0 L1610.0,1120.0 L1603.3,1111.7 L1598.3,1103.3 L1595.8,1095.0 L1596.7,1083.3 L1598.3,1073.3 L1603.3,1065.0 L1613.3,1055.0 L1623.3,1043.3Z"/></clipPath></defs>
<g clip-path="url(#nac)"><g filter="url(#mb2)">
<ellipse cx="1290" cy="945" rx="90" ry="22" fill="#d6dccb"/>
<ellipse cx="1420" cy="945" rx="70" ry="18" fill="#dddcd0"/>
<ellipse cx="1400" cy="985" rx="75" ry="20" fill="#a9c7a0" transform="rotate(8 1400 985)"/>
<ellipse cx="1330" cy="970" rx="40" ry="14" fill="#b4cdab"/>
<ellipse cx="1465" cy="985" rx="30" ry="14" fill="#b9d0a8"/>
<ellipse cx="1370" cy="1025" rx="42" ry="30" fill="#ecebb8"/>
<ellipse cx="1345" cy="1060" rx="30" ry="25" fill="#e6e2b6"/>
<ellipse cx="1420" cy="1035" rx="28" ry="22" fill="#c9dba4"/>
<ellipse cx="1390" cy="1110" rx="20" ry="14" fill="#b7cf9f"/>
</g></g>
<g clip-path="url(#sac)"><g filter="url(#mb2)"><ellipse cx="1450" cy="1135" rx="50" ry="16" fill="#b5cf9e"/></g></g>
<g clip-path="url(#afc)"><g filter="url(#mb2)"><ellipse cx="1625" cy="1115" rx="40" ry="16" fill="#d9dfa8"/><ellipse cx="1640" cy="1060" rx="30" ry="30" fill="#efd9cc"/></g></g>
</g>
<defs><linearGradient id="trk" gradientUnits="userSpaceOnUse" x1="1284" y1="1030" x2="1392" y2="915"><stop offset="0" stop-color="#ff2000"/><stop offset="0.06" stop-color="#ff8000"/><stop offset="0.14" stop-color="#ffe800"/><stop offset="0.2" stop-color="#c0ff00"/><stop offset="0.28" stop-color="#40f000"/><stop offset="0.36" stop-color="#00b020"/><stop offset="0.43" stop-color="#007060"/><stop offset="0.5" stop-color="#0040c0"/><stop offset="0.6" stop-color="#0000ff"/><stop offset="0.75" stop-color="#3010ff"/><stop offset="0.9" stop-color="#7028ff"/><stop offset="1" stop-color="#8a30ff"/></linearGradient></defs>
<path d="M1284.2,1030.0 Q1291.7,1015.0 1295.8,1008.4 Q1300.0,1001.7 1305.0,995.0 Q1310.0,988.3 1316.7,980.8 Q1323.3,973.3 1330.0,967.5 Q1336.7,961.7 1343.3,956.7 Q1350.0,951.7 1358.3,945.9 Q1366.7,940.0 1375.0,935.0 Q1383.3,930.0 1391.7,926.2 Q1400.0,922.5 1402.8,921.4 L1405.5,920.2" fill="none" stroke="url(#trk)" stroke-width="3.5" stroke-linecap="round"/>
<path d="M1278.0,1023.8 l12.4,12.4 m0,-12.4 l-12.4,12.4" stroke="#000" stroke-width="2.1" fill="none"/>
<path d="M1317.1,967.1 l12.4,12.4 m0,-12.4 l-12.4,12.4" stroke="#000" stroke-width="2.1" fill="none"/>
<text x="1298.3" y="1036.6" font-size="20.83">05:12:05 UT</text>
<text x="1416.5" y="925.8" font-size="20.83">05:21:59 UT</text>
<path d="M1111.35,1139.9 A276.1,276.1 0 0 1 1321.7,878.6 L1378.3,872.8 H1645.8 V1139.9 Z" fill="none" stroke="#000" stroke-width="2.1" stroke-linejoin="miter"/>
</svg>
<svg class="gr" style="left:198px;top:145px" width="1446" height="265"><filter id="gn" x="0" y="0" width="100%" height="100%" color-interpolation-filters="sRGB"><feTurbulence type="fractalNoise" baseFrequency="0.95 0.7" numOctaves="2" seed="5"/><feColorMatrix type="matrix" values="1.6 0 0 0 -0.3  1.6 0 0 0 -0.3  1.6 0 0 0 -0.3  0 0 0 0 1"/></filter><rect width="1446" height="265" filter="url(#gn)"/></svg>
<svg class="gr" style="left:198px;top:437px" width="1446" height="265"><filter id="gn2" x="0" y="0" width="100%" height="100%" color-interpolation-filters="sRGB"><feTurbulence type="fractalNoise" baseFrequency="0.95 0.7" numOctaves="2" seed="11"/><feColorMatrix type="matrix" values="1.6 0 0 0 -0.3  1.6 0 0 0 -0.3  1.6 0 0 0 -0.3  0 0 0 0 1"/></filter><rect width="1446" height="265" filter="url(#gn2)"/></svg>
<svg class="gr" style="left:198px;top:145px" width="1153" height="265"><filter id="gn3" x="0" y="0" width="100%" height="100%" color-interpolation-filters="sRGB"><feTurbulence type="fractalNoise" baseFrequency="0.9 0.55" numOctaves="2" seed="23"/><feColorMatrix type="matrix" values="2.2 0 0 0 -0.6  2.2 0 0 0 -0.6  2.2 0 0 0 -0.6  0 0 0 0 1"/></filter><rect width="1153" height="265" filter="url(#gn3)"/></svg>
<svg class="gr" style="left:198px;top:437px" width="1153" height="265"><filter id="gn4" x="0" y="0" width="100%" height="100%" color-interpolation-filters="sRGB"><feTurbulence type="fractalNoise" baseFrequency="0.9 0.55" numOctaves="2" seed="31"/><feColorMatrix type="matrix" values="2.2 0 0 0 -0.6  2.2 0 0 0 -0.6  2.2 0 0 0 -0.6  0 0 0 0 1"/></filter><rect width="1153" height="265" filter="url(#gn4)"/></svg>
</body></html>
